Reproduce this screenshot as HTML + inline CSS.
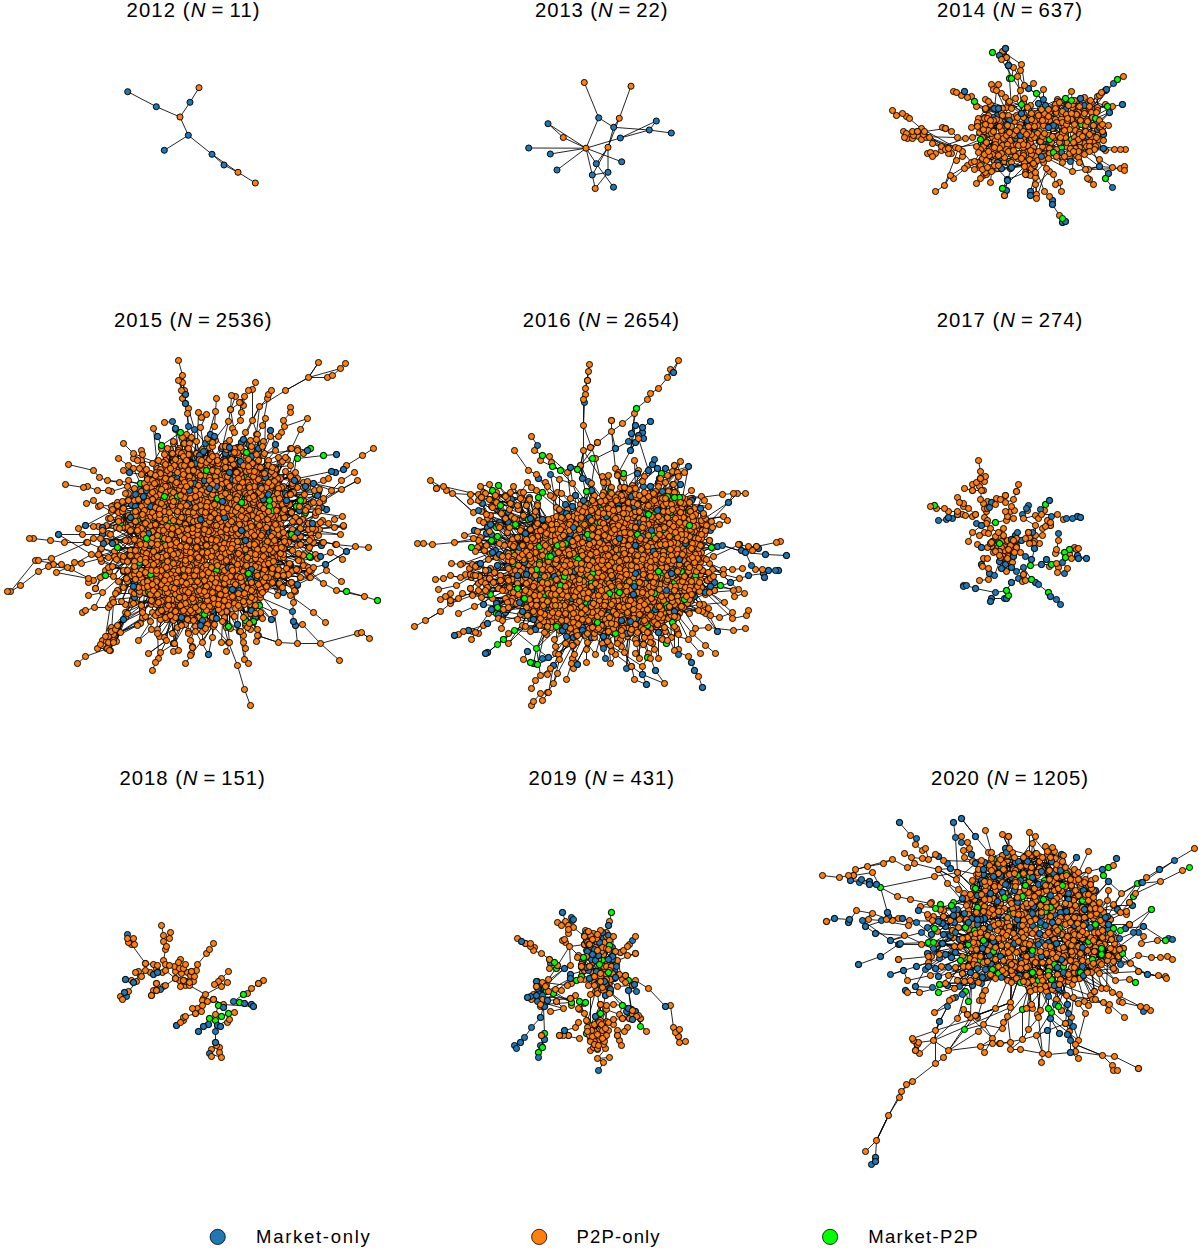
<!DOCTYPE html>
<html><head><meta charset="utf-8"><style>
html,body{margin:0;padding:0;background:#fff;}
svg{display:block;}
.e{stroke:#000;stroke-width:1.0px;fill:none;stroke-opacity:.85}
circle.b,circle.o,circle.g{r:3.05px;stroke:#000;stroke-width:0.95px}
.b{fill:#1f77b4}.o{fill:#ff7f0e}.g{fill:#00ff00}
.no,.nb,.ng{fill:none;stroke:none}.no{marker:url(#mo)}.nb{marker:url(#mb)}.ng{marker:url(#mg)}
text{font-family:"Liberation Sans",sans-serif;fill:#000}
.t{font-size:20.3px}
.it{font-style:italic}
.l{font-size:18.5px}
</style></head><body>
<svg width="1200" height="1250" viewBox="0 0 1200 1250">
<defs><marker id="mo" markerUnits="userSpaceOnUse" markerWidth="8" markerHeight="8" refX="4" refY="4" overflow="visible"><circle cx="4" cy="4" r="3.05" fill="#ff7f0e" stroke="#000" stroke-width="0.95"/></marker><marker id="mb" markerUnits="userSpaceOnUse" markerWidth="8" markerHeight="8" refX="4" refY="4" overflow="visible"><circle cx="4" cy="4" r="3.05" fill="#1f77b4" stroke="#000" stroke-width="0.95"/></marker><marker id="mg" markerUnits="userSpaceOnUse" markerWidth="8" markerHeight="8" refX="4" refY="4" overflow="visible"><circle cx="4" cy="4" r="3.05" fill="#00ff00" stroke="#000" stroke-width="0.95"/></marker></defs>
<path d="M127.7 91.7L156.3 106.7M156.3 106.7L180 117M180 117L190 102.3M190 102.3L199 87.7M180 117L188.3 135.3M188.3 135.3L164.3 150.3M188.3 135.3L212 154.3M212 154.3L224 165M224 165L238 172.3M238 172.3L255.3 183M212 154.3L238 172.3" class="e"/>
<circle cx="127.7" cy="91.7" r="3.05" class="b"/>
<circle cx="156.3" cy="106.7" r="3.05" class="b"/>
<circle cx="180" cy="117" r="3.05" class="o"/>
<circle cx="190" cy="102.3" r="3.05" class="b"/>
<circle cx="199" cy="87.7" r="3.05" class="o"/>
<circle cx="188.3" cy="135.3" r="3.05" class="b"/>
<circle cx="164.3" cy="150.3" r="3.05" class="b"/>
<circle cx="212" cy="154.3" r="3.05" class="b"/>
<circle cx="224" cy="165" r="3.05" class="b"/>
<circle cx="238" cy="172.3" r="3.05" class="o"/>
<circle cx="255.3" cy="183" r="3.05" class="o"/>
<path d="M584.3 82.5L598.7 117.8M598.7 117.8L586 148.2M598.7 117.8L613.7 127.3M631 86.2L619.3 118.3M619.3 118.3L613.7 127.3M613.7 127.3L608 147.3M613.7 127.3L649.3 130M649.3 130L671.3 133M620.3 138L656.3 121M620.3 138L649.3 130M656.3 121L649.3 130M548 123.7L586 148.2M563.3 137.5L586 148.2M548 123.7L563.3 137.5M528.7 148L586 148.2M550.3 154L586 148.2M557 170L586 148.2M586 148.2L620.3 138M586 148.2L621.7 161.8M586 148.2L596.3 163.7M586 148.2L592.3 175M608 147.3L596.3 163.7M608 147.3L592.3 175M608 147.3L608 172.3M596.3 163.7L613.5 187.2M592.3 175L608 172.3M592.3 175L595.2 188.5M595.2 188.5L608 172.3M619.3 118.3L608 147.3" class="e"/>
<circle cx="584.3" cy="82.5" r="3.05" class="o"/>
<circle cx="631" cy="86.2" r="3.05" class="o"/>
<circle cx="598.7" cy="117.8" r="3.05" class="b"/>
<circle cx="619.3" cy="118.3" r="3.05" class="o"/>
<circle cx="548" cy="123.7" r="3.05" class="b"/>
<circle cx="656.3" cy="121" r="3.05" class="b"/>
<circle cx="613.7" cy="127.3" r="3.05" class="b"/>
<circle cx="649.3" cy="130" r="3.05" class="b"/>
<circle cx="671.3" cy="133" r="3.05" class="b"/>
<circle cx="563.3" cy="137.5" r="3.05" class="o"/>
<circle cx="620.3" cy="138" r="3.05" class="b"/>
<circle cx="528.7" cy="148" r="3.05" class="b"/>
<circle cx="586" cy="148.2" r="3.05" class="o"/>
<circle cx="608" cy="147.3" r="3.05" class="o"/>
<circle cx="550.3" cy="154" r="3.05" class="b"/>
<circle cx="621.7" cy="161.8" r="3.05" class="b"/>
<circle cx="596.3" cy="163.7" r="3.05" class="b"/>
<circle cx="557" cy="170" r="3.05" class="b"/>
<circle cx="608" cy="172.3" r="3.05" class="b"/>
<circle cx="592.3" cy="175" r="3.05" class="b"/>
<circle cx="595.2" cy="188.5" r="3.05" class="o"/>
<circle cx="613.5" cy="187.2" r="3.05" class="b"/>
<path d="M1055.5 104.5l19-4M1059.5 102.5l13 2M1059.5 102.5l15-2M1067.5 105.5l-10-4M1089.5 106.5l18 0M994.5 108.5l2-18M998.5 108.5l9 17M1006.5 107.5l-18-6M1006.5 107.5l17-5M1011.5 108.5l10-4M1041.5 109.5l-14-2M1048.5 109.5l-12-16M1054.5 109.5l-2 10M1062.5 111.5l-17-6M1072.5 107.5l-1-16M1072.5 107.5l-17-3M1084.5 111.5l-17-6M1092.5 109.5l-8 4M1092.5 109.5l7-14M1097.5 110.5l0-14M997.5 115.5l10 10M1016.5 115.5l11-8M1021.5 113.5l3 15M1023.5 113.5l4-6M1023.5 113.5l-14-12M1031.5 113.5l-7-15M1038.5 115.5l-18 9M1044.5 113.5l17 5M1044.5 113.5l17 5M1056.5 112.5l-4 7M1061.5 113.5l-4-12M1066.5 114.5l-11-10M1071.5 113.5l9-15M1076.5 114.5l4-16M1084.5 113.5l-13-13M1091.5 112.5l3 13M1091.5 112.5l-5 7M1096.5 112.5l-12-15M1096.5 112.5l-6-12M987.5 118.5l3-14M996.5 119.5l-3 12M1017.5 117.5l4-13M1023.5 117.5l14-4M1036.5 119.5l-5-6M1044.5 116.5l4 11M1061.5 118.5l-3 17M985.5 124.5l14 2M999.5 120.5l-8 13M1006.5 124.5l4 16M1020.5 124.5l16-5M1020.5 124.5l10-1M1027.5 120.5l10-7M1034.5 121.5l14 6M1042.5 120.5l2 13M1042.5 120.5l-14 6M1049.5 120.5l9 15M1056.5 122.5l-19 3M1074.5 122.5l12 15M1090.5 124.5l-1-18M1099.5 120.5l10-8M990.5 125.5l14 0M999.5 126.5l-8 7M999.5 126.5l-5-18M1007.5 125.5l-19 5M1007.5 125.5l2 7M1011.5 126.5l-4 18M1019.5 127.5l-11-12M1024.5 128.5l-1-15M1028.5 126.5l14-6M1048.5 127.5l17 10M1053.5 125.5l-4 14M1055.5 126.5l-10 12M1055.5 126.5l19-4M1064.5 126.5l16-6M1094.5 125.5l-7 11M984.5 131.5l15-5M1001.5 130.5l-11-1M1034.5 132.5l-7-12M1052.5 128.5l10 5M1053.5 128.5l12 7M1062.5 131.5l-9-6M1069.5 129.5l-4 17M1085.5 131.5l12-6M982.5 137.5l-6 9M991.5 133.5l5-14M997.5 136.5l-14 7M1001.5 134.5l-8-17M1013.5 134.5l-11 11M1020.5 135.5l7-15M1026.5 134.5l-9-17M1026.5 134.5l0 18M1031.5 134.5l0-15M1042.5 136.5l-14-10M1042.5 136.5l7 12M1052.5 136.5l-18 1M1052.5 136.5l-7-16M1062.5 133.5l-18 0M1065.5 135.5l-14 7M1079.5 134.5l6-12M1082.5 136.5l12-11M1082.5 136.5l11-11M1097.5 134.5l-16-10M983.5 137.5l5 14M992.5 137.5l7-17M992.5 137.5l-3 18M995.5 140.5l-15 9M998.5 141.5l-15 5M1010.5 140.5l4-19M1023.5 137.5l8 1M1040.5 141.5l-17-4M1040.5 141.5l3 13M1049.5 139.5l-5 17M1060.5 137.5l-4 12M1065.5 137.5l-16 2M1071.5 139.5l-2-10M1075.5 141.5l10-16M985.5 143.5l11 14M994.5 145.5l16-5M995.5 144.5l-10-1M1002.5 145.5l-19 1M1016.5 144.5l-7 17M1016.5 144.5l-10-9M1023.5 144.5l11-12M1027.5 145.5l-1-11M1051.5 142.5l10 10M1051.5 142.5l-6 5M1059.5 142.5l-10 6M1061.5 142.5l-11 0M1084.5 143.5l-5-9M1084.5 143.5l-19 3M1089.5 146.5l-11 5M1094.5 141.5l9-8M1094.5 141.5l-4-17M983.5 146.5l14 8M992.5 148.5l-8-17M1013.5 150.5l19 1M1013.5 150.5l-4 11M1018.5 145.5l-15-7M1023.5 147.5l16-6M1045.5 147.5l-8 13M1049.5 148.5l-14 14M1056.5 149.5l14 12M1090.5 148.5l-12 3M988.5 151.5l-8-12M1008.5 151.5l-12 6M1008.5 151.5l1-19M1043.5 154.5l19 8M1053.5 152.5l9 10M1078.5 151.5l7 18M1084.5 154.5l2-8M1089.5 151.5l-10-17M984.5 154.5l10 11M989.5 155.5l5 10M996.5 157.5l-1-13M1004.5 157.5l-18 3M1011.5 154.5l13 12M1048.5 158.5l-13 14M1056.5 156.5l14-8M1059.5 155.5l-15 1M1059.5 155.5l-9-13M1069.5 156.5l-7 6M1076.5 155.5l13-9M1078.5 157.5l-9-4M1078.5 157.5l-16 5M994.5 161.5l-10-7M997.5 162.5l14 5M1037.5 160.5l-12 12M1042.5 159.5l1-18M994.5 165.5l17-11M994.5 165.5l13 14M998.5 165.5l11-2M1009.5 163.5l-15 2M1024.5 166.5l-13-4M1028.5 166.5l3-12M1057.5 99.5l-21 20M1057.5 99.5l-12 6M1071.5 100.5l-23 16M1071.5 100.5l-17 9M1080.5 98.5l-23 1M1084.5 97.5l-27 2M1090.5 100.5l-23 5M1090.5 100.5l-19 13M1008.5 102.5l26 19M1008.5 102.5l22 21M1021.5 104.5l0 9M1021.5 104.5l10 30M1030.5 105.5l-10 30M1030.5 105.5l7 28M1038.5 103.5l-4 23M1057.5 101.5l-23 20M1057.5 101.5l-26 12M976.5 106.5l26 9M976.5 106.5l22 2M1107.5 106.5l-15 3M1107.5 106.5l-17-6M1109.5 112.5l-12 13M1109.5 112.5l-24 10M977.5 122.5l31-3M1108.5 125.5l-22 21M1108.5 125.5l-12 12M1103.5 148.5l-9 1M978.5 152.5l31 11M978.5 152.5l17-12M974.5 161.5l11-18M974.5 161.5l30-4M1062.5 162.5l-19-21M1062.5 162.5l-18-29M1070.5 161.5l-25-14M1070.5 161.5l-20-19M1001.5 168.5l33-3M1001.5 168.5l34-6M1010.5 168.5l21-14M1010.5 168.5l27-8M986.5 174.5l25-7M986.5 174.5l22-23M1072.5 171.5l-28-15M1072.5 171.5l1-29M1026.5 174.5l7-27M924.5 131.5l27 22M918.5 136.5l39 1M921.5 128.5l34 19M923.5 134.5l18 12M926.5 137.5l36 14M932.5 143.5l13 6M972.5 137.5l27-11M944.5 185.5l14-37M950.5 175.5l21-13M1002.5 188.5l22-22M996.5 90.5l12 25M1003.5 51.5l21 34M1001.5 59.5l19 31M980.5 139.5l36-9M1113.5 83.5l-21 26M1101.5 92.5l-25 22M1112.5 106.5l-20 11M1097.5 107.5l-33 19M1096.5 137.5l-25-18M1120.5 149.5l-36-6M1120.5 168.5l-32 1M1112.5 167.5l-13-1M1099.5 166.5l-14-35M1099.5 166.5l-27 5M1035.5 177.5l-19-33M1036.5 194.5l-1-32M1036.5 198.5l10-30M1030.5 191.5l19-20M1025.5 172.5l14-31M1017.5 76.5l4 28M1002.5 51.5l19 13M1043.5 89.5l-20 24M1024.5 98.5l0 30M924.5 131.5l21-3M955.5 147.5l28-4M941.5 146.5l24-8M979.5 132.5l20-12M958.5 148.5l22-9M982.5 169.5l6-18M1007.5 179.5l18-7M985.5 108.5l16 5M1009.5 101.5l18 6M1008.5 65.5l1 13M1009.5 78.5l2 30M988.5 130.5l20-15M983.5 143.5l26-11M1082.5 136.5l-27-10M1099.5 159.5l-24-18M1099.5 166.5l-24-18M1085.5 169.5l-16-13M1044.5 191.5l-10-26M1011.5 167.5l26-7M1021.5 64.5l3 21M1015.5 98.5l12 22M1027.5 107.5l21 9M909.5 118.5l15 13M929.5 137.5l26 10M932.5 143.5l9 3M962.5 151.5l9 11M945.5 128.5l6 3M951.5 131.5l6 6M957.5 137.5l8 1M972.5 137.5l7-5M935.5 191.5l9-6M944.5 185.5l6-10M953.5 178.5l18-16M956.5 160.5l6-4M967.5 165.5l7 4M990.5 182.5l1-11M1007.5 179.5l-5 9M974.5 101.5l11 7M1001.5 59.5l4-11M1005.5 48.5l3 17M993.5 108.5l-8 1M985.5 109.5l-7 9M980.5 139.5l-4 7M976.5 146.5l7-3M1113.5 83.5l-7 6M1097.5 96.5l-6 6M1122.5 104.5l-10 2M1105.5 104.5l-8 3M1071.5 91.5l-6 7M1114.5 149.5l-9 1M1105.5 150.5l-11-1M1120.5 168.5l-8-1M1112.5 167.5l-13-8M1099.5 166.5l9 7M1105.5 178.5l7 9M1099.5 166.5l-11 3M1088.5 169.5l-9-7M1093.5 184.5l-8-15M1061.5 191.5l-2-9M1055.5 184.5l-2-10M1052.5 204.5l7 11M1035.5 184.5l1 10M1030.5 191.5l5-19M1025.5 172.5l6-4M1011.5 167.5l-4 13M1007.5 180.5l-2 10M1011.5 78.5l2-11M1008.5 65.5l-2-8M1028.5 88.5l8 5M1043.5 89.5l0 10M1043.5 99.5l-19-14M1020.5 90.5l-5 8" class="e"/>
<path class="no" d="M1004.5 115.5l-16 18 16 62 40-79"/>
<path class="nb" d="M1084.5 105.5h0"/>
<path class="no" d="M1084.5 143.5l-60 19"/>
<path class="nb" d="M1052.5 200.5h0"/>
<path class="no" d="M1003.5 51.5l-11 97 75-43-39 61 49-55-52 61 32-73"/>
<path class="nb" d="M1082.5 136.5h0"/>
<path class="no" d="M998.5 141.5l107 9-29 5-82-10 17 0 41-26-62-15 94 7-113-15"/>
<path class="ng" d="M1036.5 93.5h0"/>
<path class="no" d="M1037.5 113.5l-119 23"/>
<path class="nb" d="M1103.5 148.5h0"/>
<path class="no" d="M921.5 139.5l81 6 110-39-133 26 141 36 5-19-70-30-41 2"/>
<path class="ng" d="M1071.5 139.5h0"/>
<path class="no" d="M1057.5 101.5l-12 46-9-28-20 25 61-19-28 46"/>
<path class="ng" d="M981.5 160.5h0"/>
<path class="no" d="M1074.5 137.5l-55 16-36 22 19-124 67 78-61-10-73 34 46-34 54 37 58 28-126-19 50-89-111 40 90 41 73-1-27-10 11-18 33 9-76 3 69 2"/>
<path class="nb" d="M997.5 115.5h0"/>
<path class="no" d="M983.5 143.5l92-13-122 48 36-11 16-70 44 15-64 31"/>
<path class="nb" d="M1015.5 138.5h0"/>
<path class="no" d="M1105.5 104.5l-104 30 113 15-102-32-1 37-3-6 29-23-55 33 53 26-52-47 81-11"/>
<path class="ng" d="M1081.5 124.5h0"/>
<path class="no" d="M986.5 174.5l50 20 88-28-182-39 52 34 71-15-110 1 99-38"/>
<path class="nb" d="M997.5 162.5h0"/>
<path class="no" d="M1035.5 162.5l-38-8-46-1-24 0-18-35 32 32 92-3-57 36"/>
<path class="nb" d="M1005.5 48.5l85 76"/>
<path class="no" d="M1043.5 162.5l51-21-62 10-39-43 13-51 37 97-52 17 15-64-99 31"/>
<path class="nb" d="M1065.5 109.5h0"/>
<path class="no" d="M1099.5 159.5l-44-55-63 50 24-39-104 23"/>
<path class="nb" d="M1105.5 90.5h0"/>
<path class="no" d="M997.5 168.5h0"/>
<path class="nb" d="M1045.5 105.5h0"/>
<path class="no" d="M1112.5 167.5l-15-33-36-16-8 20 36 41-99-50-42 24 36-22 42 21-48-34-17-23 24 4-59 38 66 0 38-20-36 48 26-41 59 23-30 49 30-64-78-39 20-29"/>
<path class="nb" d="M1043.5 141.5l54-12"/>
<path class="no" d="M1023.5 137.5l63 9-103 0 56-15-62-7 102 10-56-32-15 0 90 37-49 9 10 7"/>
<path class="nb" d="M1007.5 179.5h0"/>
<path class="no" d="M1044.5 113.5l-45 35 63-26"/>
<path class="nb" d="M1001.5 168.5h0"/>
<path class="ng" d="M1061.5 147.5h0"/>
<path class="no" d="M1043.5 89.5l-13 34-10 17 16 58-59-76"/>
<path class="nb" d="M1024.5 128.5h0"/>
<path class="no" d="M903.5 131.5l32 60 121-69-33-9 97 36-164 11 110-36-136 28 85-17 63-16-47-6 77 12-24 29"/>
<path class="nb" d="M1097.5 122.5l-42 4 19-4"/>
<path class="no" d="M1075.5 148.5h0"/>
<path class="nb" d="M1007.5 180.5h0"/>
<path class="no" d="M1046.5 168.5l-75-6-39-6 58 26-13-20"/>
<path class="nb" d="M1070.5 161.5l-77-44"/>
<path class="no" d="M1059.5 102.5l7 40-62 19-9-21 35-35"/>
<path class="nb" d="M999.5 55.5h0"/>
<path class="no" d="M979.5 167.5l-14-29"/>
<path class="nb" d="M1020.5 135.5h0"/>
<path class="no" d="M1069.5 153.5l-28-44-57 44"/>
<path class="nb" d="M1006.5 190.5h0"/>
<path class="no" d="M1072.5 171.5l-100-34 16-22 98 4-102-2-2 20-76-4 100-76 46 71 40 5-69 14 15 4"/>
<path class="ng" d="M1093.5 136.5h0"/>
<path class="no" d="M1015.5 98.5l-12 40"/>
<path class="nb" d="M1028.5 88.5h0"/>
<path class="no" d="M1085.5 125.5l-86-5"/>
<path class="nb" d="M1034.5 132.5h0"/>
<path class="no" d="M1037.5 133.5l-26-7 61-10-48-18"/>
<path class="ng" d="M1009.5 161.5h0"/>
<path class="no" d="M923.5 134.5l174-38-193 41 98-29 97 19-75-42"/>
<path class="nb" d="M1043.5 99.5l18 43 51 45"/>
<path class="no" d="M953.5 91.5l78 63"/>
<path class="nb" d="M1106.5 89.5h0"/>
<path class="no" d="M951.5 131.5l29 34 11-81 65 28-63-23"/>
<path class="nb" d="M1007.5 132.5h0"/>
<path class="no" d="M1072.5 107.5l-68 50"/>
<path class="nb" d="M1026.5 174.5h0"/>
<path class="no" d="M998.5 84.5l6 41 16 4 72-20 5 36-22-4-78-5-16-8 112-3-48 13-38 6 84-42-47 54-7 4 18-52-38 50 6-5"/>
<path class="nb" d="M1122.5 104.5h0"/>
<path class="no" d="M941.5 146.5l156-39-48 13 22-1-41 23 31-29 23-16-22 34 27 10 14-8"/>
<path class="nb" d="M1109.5 112.5h0"/>
<path class="no" d="M982.5 126.5l-6-20 32 9-76 28 54 17-2-42 6 7 21-17 84 38-17-34-72 37 53 66 65-45-79-50-27 25-17 8 66-33 16-5-64 12-48 0 102-24"/>
<path class="nb" d="M1005.5 48.5h0"/>
<path class="no" d="M1087.5 178.5l-25-67-12 31-62-12"/>
<path class="nb" d="M1008.5 65.5h0"/>
<path class="no" d="M991.5 133.5l-17 36 104-12"/>
<path class="ng" d="M992.5 52.5h0"/>
<path class="no" d="M1030.5 175.5l59-67-30 74 31-34-5-17-55 19"/>
<path class="nb" d="M1103.5 134.5h0"/>
<path class="no" d="M985.5 109.5h0"/>
<path class="nb" d="M1039.5 141.5h0"/>
<path class="no" d="M1074.5 124.5l-63 27-7 44 68-91-105-7-5 59 86-21"/>
<path class="nb" d="M1027.5 120.5h0"/>
<path class="no" d="M1059.5 142.5l-64 2"/>
<path class="nb" d="M1062.5 222.5h0"/>
<path class="no" d="M1010.5 168.5h0"/>
<path class="nb" d="M1038.5 103.5h0"/>
<path class="no" d="M994.5 147.5l-7-29"/>
<path class="nb" d="M1108.5 173.5h0"/>
<path class="no" d="M1087.5 121.5l-102 51 68 2-73-25-78-36 94-23 101 20-66 28 60-26-108 17 2-5 4 31 66 29-4-42"/>
<path class="nb" d="M964.5 91.5h0"/>
<path class="no" d="M1013.5 67.5l-4 96"/>
<path class="ng" d="M980.5 139.5h0"/>
<path class="no" d="M1049.5 153.5l-72-27 88 9-83 34 83-32 14 25 10-56"/>
<path class="nb" d="M1080.5 98.5h0"/>
<path class="no" d="M1027.5 145.5l-82 4 82-42 6-24-20 51-5 17 82-51-56 21 34-16-155 30 112 39-24-44"/>
<path class="nb" d="M1052.5 204.5h0"/>
<path class="no" d="M1099.5 95.5l-114 13 49 29 14-28-10 6 54 2-69 0 38 74 9-43-74-29"/>
<path class="ng" d="M1049.5 139.5h0"/>
<path class="no" d="M1058.5 135.5l4-2-39-2 8-12 12 6"/>
<path class="nb" d="M1061.5 152.5h0"/>
<path class="no" d="M1076.5 114.5h0"/>
<path class="nb" d="M1008.5 65.5h0"/>
<path class="no" d="M1101.5 92.5l-45 57"/>
<path class="nb" d="M1053.5 125.5l34 11"/>
<path class="no" d="M1023.5 155.5l68-19-74-19 77 32-52 10-26-29 28 61-132-60"/>
<path class="nb" d="M1009.5 120.5l104-37"/>
<path class="no" d="M1089.5 134.5l-109 44-4-32 76-10"/>
<path class="nb" d="M1065.5 221.5h0"/>
<path class="ng" d="M1117.5 79.5h0"/>
<path class="no" d="M1074.5 100.5l-73 13 30 55"/>
<path class="nb" d="M1006.5 124.5h0"/>
<path class="no" d="M1056.5 154.5l10-40-145 14 65 14 48 23-23-3"/>
<path class="ng" d="M1095.5 118.5h0"/>
<path class="no" d="M1040.5 141.5h0"/>
<path class="nb" d="M1030.5 191.5h0"/>
<path class="no" d="M1006.5 135.5l90-23-25 1 32 27-147-48"/>
<path class="ng" d="M1065.5 98.5h0"/>
<path class="no" d="M1031.5 134.5l57 35-8-49"/>
<path class="ng" d="M974.5 101.5h0"/>
<path class="no" d="M1102.5 131.5h0"/>
<path class="nb" d="M1041.5 156.5l-47-48"/>
<path class="no" d="M1013.5 150.5l58-59-36 86"/>
<path class="ng" d="M1062.5 218.5l-60-30"/>
<path class="no" d="M1042.5 136.5l-78 32 114-17 6-38-64-43 1 88 27-42-19 43-45-5-27-17"/>
<path class="ng" d="M1105.5 178.5h0"/>
<path class="no" d="M1023.5 144.5l77-18-1-6-66 43-104-26 150-31-77 9 7-14-47 50 31-31"/>
<path class="ng" d="M1053.5 152.5h0"/>
<path class="no" d="M990.5 120.5l77-2-66-59"/>
<path class="ng" d="M1107.5 106.5h0"/>
<path class="no" d="M998.5 165.5l30-33-29-6-103-11 182 24-130 9"/>
<path class="nb" d="M1021.5 113.5h0"/>
<path class="ng" d="M1009.5 78.5h0"/>
<path class="no" d="M1015.5 156.5h0"/>
<path class="nb" d="M1099.5 166.5h0"/>
<path class="no" d="M945.5 128.5h0"/>
<path class="nb" d="M1011.5 167.5h0"/>
<path class="no" d="M998.5 155.5l26 11 72-29"/>
<path class="nb" d="M998.5 108.5h0"/>
<path class="no" d="M1062.5 162.5l2-32-90 31-50-30 140 25-20-23"/>
<path class="ng" d="M1021.5 104.5l50-4"/>
<path class="no" d="M917.5 131.5h0"/>
<path class="nb" d="M1048.5 127.5h0"/>
<path class="no" d="M987.5 167.5l22-35 76 37-50 3 38-30"/>
<path class="ng" d="M1011.5 78.5h0"/>
<path class="no" d="M1048.5 158.5l-41-33-49 23 76-22 48 10-94-35 72 36"/>
<path class="nb" d="M1030.5 195.5h0"/>
<path class="no" d="M944.5 185.5l129-34 16-5-101 5 5-20 96 20-47-31-22-30 36 66-30-22 2-8-78 49 28-23"/>
<path class="ng" d="M1002.5 188.5h0"/>
<path class="no" d="M892.5 110.5l210 14 21-48"/>
<path d="M212.5 439.5l0 35M212.5 439.5l-19 28M215.5 440.5l-9 18M215.5 440.5l-16 27M184.5 443.5l7 21M184.5 443.5l13 29M189.5 440.5l4 27M196.5 441.5l5 19M196.5 441.5l-5 23M208.5 441.5l-17 23M208.5 441.5l10 22M212.5 442.5l0 19M212.5 442.5l0 32M225.5 446.5l11 26M226.5 443.5l-9 18M226.5 443.5l-10 13M240.5 447.5l-5 17M240.5 447.5l-19 27M243.5 439.5l-4 31M261.5 443.5l-22 27M261.5 443.5l-1 32M170.5 449.5l-3 31M170.5 449.5l1 30M178.5 452.5l1 19M209.5 447.5l-5 19M209.5 447.5l-16 26M221.5 448.5l17 30M227.5 448.5l-15 22M234.5 452.5l-18 11M234.5 452.5l-14 26M237.5 447.5l-8 21M237.5 447.5l-7 12M251.5 446.5l-13 8M251.5 446.5l-22 26M258.5 448.5l1 34M258.5 448.5l2 27M262.5 446.5l-32 13M262.5 446.5l-6 26M275.5 450.5l-11 3M275.5 450.5l-19 22M158.5 460.5l1 32M166.5 457.5l27 13M189.5 454.5l4 16M225.5 453.5l10 23M225.5 453.5l-16 24M238.5 454.5l-5 27M264.5 453.5l0 22M268.5 460.5l-14 11M268.5 460.5l-11 7M278.5 457.5l-1 21M278.5 457.5l-4 17M285.5 457.5l-25 10M285.5 457.5l-10 12M235.5 464.5l3 14M235.5 464.5l0 30M268.5 465.5l-15 11M282.5 461.5l-8 6M282.5 461.5l-5 17M150.5 473.5l6 32M272.5 467.5l-31 10M285.5 471.5l-8 22M285.5 471.5l-10 21M289.5 474.5l-26 22M289.5 474.5l-21 0M295.5 472.5l-21 27M291.5 478.5l-15 28M291.5 478.5l-29-1M297.5 478.5l-33-3M297.5 478.5l-9 14M307.5 481.5l-29 7M307.5 481.5l-8 19M292.5 485.5l-17 30M292.5 485.5l-21 0M303.5 487.5l-34 5M303.5 487.5l-32-2M303.5 482.5l-26-4M303.5 482.5l-20 4M288.5 492.5l-22-5M304.5 494.5l-27 16M304.5 494.5l-15 10M314.5 490.5l-17-3M314.5 490.5l-33 4M317.5 494.5l-27 0M317.5 494.5l-26 18M290.5 494.5l-15 21M301.5 497.5l-25 9M301.5 497.5l-16 9M303.5 500.5l-34 1M303.5 500.5l-31 16M317.5 495.5l-31 7M317.5 495.5l-26 17M299.5 506.5l-31-12M299.5 506.5l-22 23M307.5 507.5l-26 22M307.5 507.5l-18-3M311.5 503.5l-21-10M311.5 503.5l-29 9M318.5 508.5l-11-1M318.5 508.5l-19 2M291.5 512.5l-7-3M291.5 512.5l-8 5M299.5 510.5l-8 2M299.5 510.5l-24 1M305.5 510.5l-31 13M305.5 510.5l-14 2M318.5 511.5l-26 18M318.5 511.5l-18 17M321.5 507.5l-31-13M283.5 517.5l-20-9M299.5 521.5l-25 19M299.5 521.5l-35-2M299.5 521.5l-26 12M299.5 521.5l-17-9M315.5 515.5l-16 6M315.5 515.5l-16 14M320.5 522.5l-23 10M320.5 522.5l-28 7M292.5 529.5l-31-13M292.5 529.5l-14 5M308.5 529.5l-24 19M308.5 529.5l-11 2M312.5 523.5l-21-11M312.5 523.5l-21 11M297.5 532.5l-25-1M297.5 532.5l-25-1M300.5 528.5l-32 7M300.5 528.5l-32 7M315.5 529.5l-32 3M319.5 529.5l-19 7M319.5 529.5l-24-12M286.5 535.5l-15 7M294.5 537.5l-24 16M311.5 538.5l-31 15M311.5 538.5l-30 5M318.5 535.5l-27-1M318.5 535.5l-32 0M322.5 542.5l-25-11M322.5 542.5l-24 11M297.5 545.5l-14-13M297.5 545.5l-21 3M300.5 544.5l-28 7M309.5 547.5l-31-13M309.5 547.5l-18-13M321.5 545.5l-29-16M321.5 545.5l-24 0M292.5 550.5l-29 3M292.5 550.5l-16-2M298.5 553.5l-29-11M298.5 553.5l-30 10M308.5 549.5l-30-15M308.5 549.5l-20-7M315.5 554.5l-32 3M315.5 554.5l-21-17M289.5 564.5l-34-6M289.5 564.5l-34 2M298.5 560.5l-29-18M298.5 560.5l-14-12M301.5 561.5l-31-8M310.5 557.5l-13-12M310.5 557.5l-27-1M317.5 558.5l-19 2M317.5 558.5l-20-26M286.5 568.5l-35 1M290.5 564.5l-28-19M290.5 564.5l-23-23M296.5 569.5l-20-21M296.5 569.5l-31-15M309.5 570.5l-26 5M309.5 570.5l-24 5M311.5 570.5l-33-1M311.5 570.5l-13 0M285.5 575.5l-13-24M300.5 577.5l-25-21M300.5 577.5l-28-5M309.5 577.5l-11-7M309.5 577.5l-20 6M279.5 584.5l-24-26M279.5 584.5l-7-16M279.5 583.5l-14-6M279.5 583.5l-6-10M291.5 582.5l-20 1M291.5 582.5l-16-7M297.5 585.5l-26-20M297.5 585.5l-20-10M310.5 577.5l-27-2M310.5 577.5l-25-2M283.5 592.5l-26-10M283.5 592.5l-21-18M289.5 583.5l-12-8M289.5 583.5l-21-27M292.5 585.5l-13-2M292.5 585.5l-29 0M125.5 493.5l28 18M111.5 506.5l24 15M111.5 506.5l28 18M112.5 509.5l21-8M112.5 509.5l31-13M123.5 508.5l14 5M123.5 508.5l29 0M110.5 518.5l27-5M110.5 518.5l10 5M118.5 518.5l29 8M118.5 518.5l31-1M129.5 519.5l21 19M103.5 528.5l30-16M103.5 528.5l19-1M106.5 525.5l29-14M106.5 525.5l28 14M116.5 527.5l21-12M127.5 527.5l20-1M127.5 527.5l26 19M102.5 530.5l28-13M102.5 530.5l16-12M110.5 534.5l27 16M110.5 534.5l27-21M119.5 528.5l27 10M119.5 528.5l18 11M103.5 543.5l27-13M106.5 541.5l31-10M106.5 541.5l24 14M115.5 542.5l13-2M115.5 542.5l22-12M125.5 540.5l22-19M125.5 540.5l24-23M101.5 548.5l19 7M101.5 548.5l13 3M112.5 543.5l30-3M112.5 543.5l28 16M117.5 547.5l18 3M117.5 547.5l27 0M99.5 555.5l15-4M99.5 555.5l33 1M108.5 557.5l20-17M114.5 551.5l27-7M120.5 555.5l17-10M101.5 561.5l22 9M101.5 561.5l16-14M114.5 556.5l33 8M114.5 556.5l24-24M116.5 559.5l33 7M123.5 560.5l16 2M108.5 567.5l27 3M108.5 567.5l27-6M112.5 566.5l23 4M112.5 566.5l11-6M123.5 570.5l22-8M123.5 570.5l20-19M135.5 570.5l27-11M105.5 575.5l18-19M105.5 575.5l29 8M113.5 576.5l17-26M113.5 576.5l17-21M123.5 571.5l16-30M123.5 571.5l27-9M132.5 576.5l18-2M141.5 570.5l24-25M118.5 581.5l22-22M118.5 581.5l31-15M127.5 581.5l29-11M135.5 579.5l10-21M142.5 584.5l12-31M117.5 590.5l28-18M117.5 590.5l29-16M123.5 587.5l14-10M123.5 587.5l27-4M140.5 585.5l5-23M192.5 618.5l13-19M212.5 617.5l-9-11M212.5 617.5l-8-26M220.5 611.5l9-28M220.5 611.5l9-33M214.5 624.5l-3-18M216.5 618.5l-1-31M237.5 624.5l-12-21M237.5 624.5l1-19M245.5 623.5l-6-33M253.5 621.5l-21-25M207.5 625.5l0-25M213.5 626.5l7-32M213.5 626.5l3-20M226.5 627.5l-2-10M226.5 627.5l2-25M228.5 626.5l4-28M228.5 626.5l-8-21M249.5 623.5l-10-27M249.5 623.5l6-25M111.5 627.5l14-10M111.5 627.5l31-15M117.5 626.5l8-14M117.5 626.5l15-26M111.5 631.5l2-29M115.5 629.5l16-25M115.5 629.5l16-25M108.5 636.5l32-13M114.5 635.5l28-18M120.5 632.5l25-16M120.5 632.5l20-9M105.5 636.5l5-32M105.5 636.5l20-24M113.5 640.5l12-28M114.5 639.5l11-22M102.5 640.5l21-21M106.5 641.5l31-16M113.5 642.5l12-25M116.5 641.5l9-29M116.5 641.5l11-28M106.5 648.5l7-6M110.5 650.5l7-24M110.5 650.5l4-15M109.5 650.5l8-25M109.5 650.5l11-18M212.5 461.5l0-15M174.5 465.5l10-22M191.5 464.5l5-11M200.5 464.5l-17-8M193.5 467.5l-10-15M164.5 469.5l-17 10M173.5 469.5l5-19M243.5 471.5l-22-8M253.5 472.5l-24-4M160.5 473.5l12-20M256.5 472.5l18-5M274.5 484.5l8-23M261.5 488.5l17 0M278.5 488.5l23 9M279.5 489.5l22 8M141.5 491.5l5-22M142.5 497.5l-19 11M141.5 502.5l-13-9M188.5 503.5l-6-10M276.5 501.5l11-6M150.5 506.5l4-23M165.5 504.5l7 2M186.5 505.5l0-19M155.5 507.5l2 18M194.5 508.5l-14-13M259.5 513.5l-8 19M150.5 516.5l6 12M165.5 516.5l2 10M183.5 517.5l14 18M142.5 517.5l20 4M179.5 519.5l13 9M185.5 519.5l12 21M139.5 523.5l-19-3M257.5 522.5l-13 8M138.5 527.5l-16-16M202.5 525.5l9-18M273.5 527.5l9-23M146.5 530.5l-15-8M273.5 533.5l11 8M143.5 537.5l-13-20M176.5 538.5l17-17M268.5 535.5l16 6M245.5 540.5l12-18M181.5 545.5l24-1M260.5 543.5l24-2M143.5 545.5l-12-16M196.5 546.5l14 19M207.5 552.5l-22 8M245.5 549.5l-13 21M196.5 554.5l-3 24M202.5 552.5l16 18M268.5 556.5l0 16M272.5 558.5l7-23M146.5 559.5l-16-18M266.5 559.5l5 24M273.5 561.5l-7 11M264.5 564.5l15 20M271.5 565.5l-22 11M149.5 566.5l-22-5M251.5 569.5l-15 20M263.5 567.5l-15 19M274.5 566.5l-18 5M151.5 570.5l-11 15M272.5 572.5l8-15M191.5 575.5l-12 8M266.5 574.5l4-21M271.5 573.5l-11-18M195.5 579.5l-24 2M236.5 576.5l10-11M241.5 583.5l21 8M266.5 586.5l2-23M171.5 587.5l18-9M265.5 589.5l18-14M148.5 591.5l-17-16M239.5 590.5l-1 15M244.5 593.5l6 20M159.5 599.5l-17 10M195.5 600.5l-1 19M205.5 599.5l11 19M234.5 599.5l9 18M152.5 601.5l-14-14M228.5 602.5l-16-10M161.5 605.5l-9 7M210.5 608.5l-5 14M173.5 614.5l-22-10M191.5 618.5l16 6M175.5 428.5l3 22M175.5 428.5l11 32M182.5 437.5l24 21M182.5 437.5l-4 15M173.5 441.5l22 22M173.5 441.5l9 30M189.5 443.5l7 20M167.5 448.5l5 31M188.5 448.5l21 24M188.5 448.5l3 24M212.5 446.5l-19 21M226.5 449.5l-24 20M226.5 449.5l4 10M234.5 448.5l-27 19M234.5 448.5l-17 12M179.5 448.5l-6 28M203.5 451.5l0 10M242.5 450.5l-23 18M242.5 450.5l-15 17M251.5 449.5l-16 27M251.5 449.5l-20 10M297.5 450.5l-5 33M297.5 450.5l-33 3M187.5 456.5l13 25M237.5 452.5l-14 20M230.5 459.5l8 33M246.5 456.5l-11 8M258.5 460.5l-16 22M287.5 459.5l-21 28M287.5 459.5l-19 15M230.5 463.5l9 30M240.5 461.5l-15 15M252.5 462.5l3 19M233.5 464.5l2 21M240.5 464.5l-17 8M290.5 465.5l-16 2M290.5 465.5l-10 13M139.5 468.5l26 18M139.5 468.5l19 21M143.5 471.5l24 15M143.5 471.5l20 14M290.5 476.5l-30 10M290.5 476.5l-29 12M296.5 479.5l-10 23M296.5 479.5l-23 25M128.5 480.5l18 7M128.5 480.5l9 26M292.5 483.5l-25 16M292.5 483.5l-7 7M297.5 487.5l-20 5M297.5 487.5l-20 6M128.5 493.5l21 24M128.5 493.5l14 24M113.5 505.5l24 8M113.5 505.5l15 10M117.5 505.5l19 1M117.5 505.5l14 24M113.5 510.5l15 5M113.5 510.5l32 8M284.5 509.5l-31-5M296.5 506.5l-23 27M296.5 506.5l-20 0M118.5 512.5l11 8M118.5 512.5l31 5M304.5 514.5l-30-15M304.5 514.5l-23 15M128.5 515.5l34 6M295.5 517.5l-19-7M295.5 517.5l-19-11M118.5 521.5l23 23M118.5 521.5l32-15M302.5 519.5l-25-9M122.5 523.5l20 17M292.5 521.5l-22-7M292.5 521.5l-21 21M308.5 523.5l-31 3M122.5 527.5l12 12M130.5 525.5l9-1M131.5 529.5l28-20M297.5 531.5l-24 2M298.5 538.5l-34 2M309.5 540.5l-31-6M309.5 540.5l-15-3M281.5 543.5l-14-11M284.5 541.5l-32-14M284.5 541.5l-13-5M285.5 544.5l-23-11M134.5 566.5l31 4M287.5 564.5l-14-16M287.5 564.5l-19-8M289.5 563.5l-34 3M289.5 563.5l-33 3M138.5 567.5l12-5M134.5 574.5l28-21M276.5 572.5l-21-13M288.5 574.5l-14-30M143.5 582.5l10-31M291.5 582.5l-25-8M291.5 582.5l-32 4M144.5 592.5l14-23M279.5 592.5l-23-26M279.5 592.5l-15-28M294.5 590.5l-20-24M294.5 590.5l-22-18M115.5 593.5l31 0M277.5 595.5l-11-21M277.5 595.5l-17-7M112.5 599.5l15-29M112.5 599.5l22-2M121.5 601.5l11-25M121.5 601.5l10-26M113.5 602.5l14-31M131.5 604.5l32-4M135.5 602.5l28-2M135.5 602.5l31-6M238.5 605.5l-26-13M225.5 607.5l4-32M125.5 612.5l8-26M125.5 612.5l26-12M142.5 609.5l10-25M142.5 609.5l10-8M152.5 612.5l0-33M152.5 612.5l16-13M274.5 612.5l-25-11M274.5 612.5l-14-18M245.5 615.5l-11-16M245.5 615.5l-6-25M260.5 615.5l-25-7M125.5 617.5l16-12M125.5 617.5l17-8M142.5 617.5l10-5M142.5 617.5l2-25M243.5 617.5l0-31M243.5 617.5l-11-21M271.5 619.5l-16-14M271.5 619.5l-17-20M140.5 623.5l-1-29M140.5 623.5l10-29M193.5 620.5l5-26M137.5 625.5l24-15M137.5 625.5l15-13M200.5 625.5l-9-31M207.5 624.5l11-20M207.5 624.5l7-21M212.5 625.5l-13-22M212.5 625.5l10-19M157.5 629.5l16-27M157.5 629.5l16-16M188.5 631.5l-1-12M188.5 631.5l-7-14M195.5 631.5l6-19M205.5 628.5l-15-18M157.5 633.5l8-26M157.5 633.5l-1-29M239.5 631.5l-15-14M239.5 631.5l-14-24M159.5 636.5l25-12M159.5 636.5l14-22M164.5 637.5l12-30M164.5 637.5l11-20M173.5 643.5l2-32M173.5 643.5l7-21M174.5 643.5l7-18M174.5 643.5l11-19M148.5 653.5l18-13M148.5 653.5l18-13M208.5 654.5l-13-23M208.5 654.5l6-30M182.5 375.5l2 15M188.5 408.5l6 21M178.5 380.5l10 28M153.5 428.5l4 40M161.5 445.5l14 14M152.5 463.5l7 31M133.5 453.5l37 15M142.5 465.5l5 33M107.5 480.5l37 3M100.5 505.5l36 1M85.5 525.5l26-14M318.5 362.5l-10 15M340.5 368.5l-32 9M252.5 389.5l0 31M244.5 396.5l-1 9M240.5 402.5l0 18M268.5 394.5l-6 31M259.5 406.5l-16 33M215.5 411.5l-8 27M231.5 395.5l-1 14M228.5 421.5l-16 21M222.5 446.5l-20 23M270.5 436.5l-16 35M265.5 418.5l-1 35M256.5 439.5l2 9M307.5 418.5l-23 8M331.5 471.5l-34 7M307.5 487.5l-24 30M297.5 448.5l-8 26M331.5 490.5l-18-7M357.5 480.5l-34 18M341.5 489.5l-28-6M315.5 512.5l-39-6M300.5 500.5l-37-1M318.5 492.5l-33 1M315.5 494.5l-19 12M319.5 502.5l-30 2M313.5 483.5l-10-1M294.5 480.5l-9 13M210.5 434.5l-24 30M194.5 429.5l-16 23M200.5 427.5l6 35M100.5 538.5l28 2M58.5 534.5l33 20M102.5 534.5l28-9M35.5 560.5l26 4M10.5 591.5l25-31M48.5 566.5l23 2M61.5 564.5l32 16M100.5 558.5l37-8M56.5 572.5l32 6M91.5 554.5l32 16M95.5 588.5l20-33M127.5 571.5l10-15M94.5 607.5l8-15M110.5 604.5l15 0M117.5 625.5l8-13M110.5 629.5l32-20M113.5 634.5l12-22M138.5 640.5l12-19M158.5 658.5l-1-29M160.5 652.5l14-9M178.5 650.5l-8-35M190.5 655.5l24-31M228.5 642.5l-16-17M229.5 642.5l-3-30M222.5 621.5l-13-15M202.5 642.5l14-24M244.5 659.5l-5-28M245.5 620.5l6-38M257.5 629.5l-25-31M297.5 643.5l-2-18M369.5 638.5l-8-6M278.5 642.5l-4-30M292.5 611.5l-32-14M303.5 565.5l-37 7M290.5 595.5l-24-21M282.5 587.5l-9-14M364.5 596.5l-28-6M323.5 583.5l-20-18M326.5 570.5l-29 14M313.5 567.5l-29-19M346.5 551.5l-21 13M323.5 542.5l-26 3M355.5 546.5l-30 18M340.5 534.5l-32-5M343.5 526.5l-28 3M312.5 528.5l-28-19M188.5 426.5l-5 27M178.5 380.5l7 14M185.5 403.5l3 23M161.5 445.5l25 15M172.5 453.5l-8 25M152.5 463.5l15 17M146.5 469.5l4 25M133.5 468.5l7 15M127.5 486.5l18 18M120.5 520.5l28-8M120.5 523.5l30 2M245.5 432.5l-2 11M308.5 377.5l-23 13M230.5 409.5l4 23M259.5 406.5l-3 28M207.5 438.5l0 29M222.5 446.5l2 28M229.5 440.5l2 19M263.5 441.5l-12 5M256.5 434.5l-4 28M291.5 448.5l-6 9M263.5 455.5l-12 20M307.5 487.5l-16 25M290.5 448.5l-22 12M323.5 498.5l-18 12M300.5 500.5l-18 4M342.5 516.5l-27-4M285.5 506.5l-8 4M246.5 452.5l-21 9M100.5 538.5l28 2M108.5 533.5l22 17M87.5 542.5l14 6M100.5 558.5l8-1M67.5 567.5l24-13M127.5 561.5l19-2M100.5 577.5l15-22M127.5 571.5l21 1M141.5 605.5l12-15M127.5 613.5l17-21M151.5 629.5l-1-8M166.5 640.5l4-25M172.5 633.5l0-27M188.5 633.5l10-23M142.5 612.5l10-11M222.5 621.5l-7-28M212.5 618.5l-1-12M206.5 621.5l12-17M190.5 640.5l11-28M245.5 620.5l6-23M278.5 642.5l-21-7M320.5 643.5l-18-19M257.5 635.5l-7-22M230.5 628.5l-2-23M303.5 565.5l-26 10M282.5 587.5l-17 2M298.5 570.5l-18-13M308.5 567.5l-19-3M303.5 555.5l-14 8M313.5 542.5l-15-4M335.5 544.5l-24-6M310.5 533.5l-18-4M312.5 528.5l-15 4M277.5 575.5l-13-11M178.5 360.5l4 15M182.5 375.5l0 7M182.5 382.5l2 8M185.5 394.5l0 9M187.5 413.5l1 13M181.5 390.5l1 8M164.5 422.5l8-1M172.5 421.5l3 8M153.5 428.5l4 8M157.5 436.5l4 9M161.5 448.5l-9 15M161.5 445.5l19-13M161.5 448.5l11 5M123.5 443.5l10 10M133.5 453.5l8 7M141.5 460.5l11 3M142.5 454.5l4 15M118.5 458.5l10 7M129.5 472.5l12 2M141.5 474.5l23 4M173.5 443.5l5 7M68.5 464.5l25 6M93.5 470.5l6 7M99.5 477.5l8 3M107.5 480.5l12 2M119.5 482.5l8 4M65.5 484.5l18 3M87.5 486.5l10 4M97.5 490.5l11 0M111.5 491.5l16-5M86.5 503.5l7-3M93.5 500.5l5 6M100.5 505.5l11 6M122.5 511.5l11 1M108.5 518.5l12 2M78.5 528.5l7-3M85.5 525.5l8 1M102.5 527.5l18-4M318.5 362.5l-10 15M308.5 377.5l-23 13M285.5 390.5l-26 16M259.5 406.5l-14 26M345.5 363.5l-5 5M340.5 368.5l-8 7M327.5 377.5l-19 0M255.5 382.5l-3 7M244.5 396.5l-4 6M240.5 402.5l-10 7M267.5 398.5l-8 8M216.5 398.5l-1 13M215.5 411.5l-1 15M214.5 426.5l-7 12M235.5 396.5l-5 13M230.5 409.5l-2 12M228.5 421.5l-6 25M243.5 405.5l-2 7M240.5 420.5l-8 8M234.5 432.5l-5 8M290.5 412.5l-7 8M278.5 436.5l-8 0M270.5 436.5l-7 5M262.5 425.5l-6 9M252.5 420.5l5 14M307.5 418.5l-7 11M300.5 429.5l-9 19M270.5 430.5l5 14M275.5 444.5l-12 11M373.5 448.5l-11 7M362.5 455.5l-16 10M343.5 469.5l-8 3M323.5 480.5l-16 7M336.5 454.5l-13 1M323.5 455.5l-26 3M297.5 458.5l6-5M307.5 450.5l-10-2M354.5 472.5l-13 8M341.5 480.5l-10 10M331.5 490.5l-8 8M357.5 480.5l-16 9M341.5 489.5l-18 11M315.5 512.5l-10 0M305.5 512.5l-6-12M342.5 516.5l-8 3M317.5 524.5l26 1M319.5 489.5l-6 13M305.5 486.5l-11-6M294.5 480.5l-4 13M246.5 452.5l2-8M229.5 447.5l9 17M238.5 464.5l-24-28M205.5 443.5l-11-14M194.5 429.5l2 35M196.5 464.5l2-52M206.5 414.5l-6 13M33.5 538.5l17 2M50.5 540.5l14 2M64.5 542.5l22 0M86.5 542.5l7-4M58.5 534.5l24 0M82.5 534.5l20 0M38.5 560.5l13-2M51.5 558.5l36-16M10.5 591.5l10-6M20.5 585.5l18-14M38.5 571.5l10-5M53.5 564.5l8 0M81.5 563.5l19-5M56.5 572.5l11-5M100.5 558.5l15-3M88.5 582.5l17-12M109.5 571.5l18-10M95.5 588.5l5-11M88.5 595.5l14-3M102.5 592.5l25-22M127.5 570.5l-1 8M118.5 591.5l9-20M85.5 610.5l9-3M94.5 607.5l14 0M110.5 604.5l15 0M123.5 619.5l-6 6M97.5 648.5l10 0M107.5 648.5l-22 8M85.5 656.5l-8 7M138.5 640.5l13-11M152.5 670.5l3-8M160.5 652.5l6-12M178.5 650.5l-6-17M185.5 663.5l5-8M150.5 621.5l-8-9M250.5 705.5l-6-16M244.5 689.5l-7-24M237.5 665.5l-9-23M228.5 642.5l-6-21M226.5 651.5l3-9M229.5 642.5l-8 0M221.5 642.5l1-21M212.5 637.5l0-19M202.5 642.5l0-11M191.5 653.5l-1-13M244.5 659.5l1-11M243.5 635.5l4-8M257.5 629.5l-4-7M278.5 642.5l19 1M297.5 643.5l23 0M320.5 643.5l37-10M361.5 632.5l8 6M320.5 643.5l19 17M278.5 642.5l-21-7M230.5 628.5l10 3M240.5 631.5l5-6M293.5 621.5l-1-10M292.5 611.5l1-9M293.5 602.5l2-11M297.5 584.5l1-14M325.5 622.5l-12-10M313.5 612.5l-23-17M290.5 595.5l-8-8M377.5 600.5l-13-4M364.5 596.5l-18-5M346.5 591.5l-10-1M336.5 590.5l-13-7M323.5 583.5l-16-10M307.5 573.5l-9-3M341.5 581.5l-15-11M325.5 564.5l-12 3M342.5 559.5l-12-7M330.5 552.5l-10 4M346.5 551.5l-10-7M336.5 544.5l-13-2M323.5 542.5l-10 0M368.5 547.5l-13-1M355.5 546.5l-20-2M340.5 534.5l-30-1M334.5 527.5l9-1M343.5 526.5l-31 2" class="e"/>
<path class="no" d="M166.5 457.5l198 139-121 39-138-65 106-89"/>
<path class="ng" d="M298.5 570.5h0"/>
<path class="no" d="M284.5 426.5l-50 129"/>
<path class="nb" d="M248.5 547.5h0"/>
<path class="no" d="M265.5 589.5l-150-34 76 39 88-10-121 74-25-157-34 54 74-24 109 40-154-106 118-3-22 24-39 33-72-14"/>
<path class="ng" d="M377.5 600.5h0"/>
<path class="no" d="M193.5 502.5l-155 69 99-26-28 26 75-128-8 44"/>
<path class="ng" d="M164.5 543.5h0"/>
<path class="no" d="M355.5 546.5l-81-62-31-79 45 137-40 49-33-151 36 9-80 143 88-6-129-45 89-26-119 62 156-68-20 80 48-13-153 28 47-38 30 24-100 17 175-51-23-49-125 95 71-105 121-120-307 208 113-127 153 37 11 50-155 10-77-71"/>
<path class="ng" d="M296.5 506.5h0"/>
<path class="no" d="M336.5 590.5l-41 1-17-106-37 84-88-52 63 89-54-47 49 13 53-32-122 77 13 45 104-124 84-12-127-63-51 69 25 82 31 28 67-150"/>
<path class="nb" d="M325.5 564.5h0"/>
<path class="no" d="M123.5 587.5l-88-27 266 1-193-28 137-26"/>
<path class="nb" d="M85.5 525.5h0"/>
<path class="no" d="M177.5 562.5h0"/>
<path class="nb" d="M299.5 510.5h0"/>
<path class="no" d="M311.5 503.5l-155 2"/>
<path class="nb" d="M233.5 474.5h0"/>
<path class="no" d="M139.5 563.5l137-27 3-18-51-12-49 46-61 39"/>
<path class="nb" d="M141.5 502.5h0"/>
<path class="no" d="M179.5 448.5l19 169 62-2-52-3-107-51 75-23 99-23-70 84-11 20 15-172 45 104-81 51 38-76 12 48 94-50-87-21-105 101 125-67"/>
<path class="nb" d="M212.5 610.5h0"/>
<path class="no" d="M233.5 489.5l85 46"/>
<path class="nb" d="M297.5 531.5h0"/>
<path class="no" d="M192.5 527.5l19-53 68 118 28-19-148-10 108-64-159 68 107-12 119-36-31-37 1 32-248 58 266-52-97-16-43 61-3 9 96-18-237 4 229-162-65 173-88 64 129-155 9-18-19 19-67 11-34 64 30 33-12-116 34-83-107 273 210-99"/>
<path class="nb" d="M321.5 545.5h0"/>
<path class="no" d="M292.5 529.5l-56-12-57 54-13 25 162-73-163-19-42 56-30-90"/>
<path class="nb" d="M136.5 506.5h0"/>
<path class="no" d="M308.5 549.5l-162-19 60 91 120-51-47-81-70 56-111-39 86 46 15 48-24-78"/>
<path class="nb" d="M205.5 443.5l19 175"/>
<path class="no" d="M50.5 540.5l194-4-211 2 66-61"/>
<path class="nb" d="M131.5 504.5h0"/>
<path class="no" d="M149.5 576.5l66-56"/>
<path class="ng" d="M140.5 483.5h0"/>
<path class="nb" d="M326.5 509.5h0"/>
<path class="no" d="M140.5 623.5l70-159 27 201 105-106-194-1-19-3 87 19-53-25 16 34-65-32 27 27 11 1 194-114-134 97"/>
<path class="nb" d="M194.5 429.5l75 98"/>
<path class="no" d="M310.5 533.5l-43-17-33-14-52 10 63 136"/>
<path class="nb" d="M248.5 444.5h0"/>
<path class="no" d="M285.5 490.5l-65 42-8-93-78 61 99 87-102 4 8-68 73-77"/>
<path class="nb" d="M138.5 567.5h0"/>
<path class="no" d="M242.5 450.5l38 74-134 35 92-7-72 67 27-141-19 90-5-68 85 73-122 27 55-5"/>
<path class="nb" d="M290.5 493.5h0"/>
<path class="no" d="M144.5 502.5l135 81-108-47 132-36 54-20-156 70-40 55-59 35 207-93-77-119-168 114 191 17-14 24-70-94 14 77 169-94-120 49-25-5-60-9-36 127 170-148-49 113 21-109-74 55 57-91-48 104 167 75"/>
<path class="nb" d="M180.5 622.5h0"/>
<path class="no" d="M277.5 526.5l-191-23"/>
<path class="ng" d="M139.5 562.5h0"/>
<path class="no" d="M252.5 527.5l-51-44 31 131 83-60-128-98 12 100-41 8 18 43"/>
<path class="nb" d="M139.5 489.5l-4 5"/>
<path class="no" d="M202.5 595.5l10-58-30-139 97 137-176-7 90 14 66 37-17-48-69 40-5-14-31-51 46 113-55-79 122 19-123-59 154 29"/>
<path class="nb" d="M157.5 436.5h0"/>
<path class="no" d="M142.5 609.5h0"/>
<path class="nb" d="M173.5 643.5h0"/>
<path class="no" d="M193.5 606.5l-82-100 163-39-9-49-140 194 80-61 58-70 23 54-11-43-31 197"/>
<path class="nb" d="M335.5 472.5h0"/>
<path class="no" d="M147.5 526.5l41-118-45 63 27 130-28-104 4 77 98-80-6 74-35 19-17-34 106 32-99-50-72 66 78-64-54-49 43 124-12-64 1 41-12-129-59 81 42-29 112-11"/>
<path class="nb" d="M237.5 624.5h0"/>
<path class="no" d="M71.5 568.5l174 57"/>
<path class="nb" d="M336.5 454.5h0"/>
<path class="no" d="M127.5 581.5l29-53-63 10 128-59 25 48 9-16 88 14-47-46-66 61"/>
<path class="ng" d="M246.5 476.5h0"/>
<path class="no" d="M252.5 389.5l-36 133-29-28-75 72 50-13-42 2 198-193-158 257-43-29 85-45"/>
<path class="nb" d="M251.5 456.5h0"/>
<path class="no" d="M199.5 486.5l-62 59 94 11 16-71 10 97-179-54"/>
<path class="nb" d="M321.5 507.5h0"/>
<path class="no" d="M266.5 535.5l-160 113 54-142-22 21-5-59 14 30-13-10 15 29 73 9-85 13 58-58-43 131-46-87 150-22"/>
<path class="ng" d="M173.5 525.5h0"/>
<path class="no" d="M175.5 594.5l166-13-162-62-18 15 34 27 102-83-115-96-24 131"/>
<path class="nb" d="M58.5 534.5h0"/>
<path class="no" d="M278.5 534.5l-94 52 76-31-17 31-127 55 81-97-74-101 125-53-120 103"/>
<path class="nb" d="M123.5 571.5h0"/>
<path class="no" d="M178.5 546.5h0"/>
<path class="nb" d="M215.5 491.5h0"/>
<path class="ng" d="M170.5 521.5h0"/>
<path class="no" d="M219.5 469.5l65 69"/>
<path class="nb" d="M146.5 593.5h0"/>
<path class="no" d="M192.5 618.5l-8-76 109-50-36 68-103 34-13-76 110-9"/>
<path class="nb" d="M248.5 586.5h0"/>
<path class="no" d="M219.5 468.5l19 54-39 42 63 27"/>
<path class="nb" d="M180.5 525.5h0"/>
<path class="no" d="M250.5 604.5l-10-202-21 146-1 22-81-39 64 11 9 66-19-33-8-3 43-36-114 63-10-7 95-16 86-59-154 3 2 2 124-5"/>
<path class="nb" d="M134.5 597.5h0"/>
<path class="no" d="M307.5 481.5l-126 143-54-53 98-51-8-53 32 56-47-23 96 70-9-96-127 92-1-118 53 61-13-92 73 195-26-30"/>
<path class="nb" d="M134.5 583.5h0"/>
<path class="no" d="M173.5 443.5l35 51 22-2-124 149 106-16-24-50-6 20-38-3"/>
<path class="nb" d="M243.5 541.5h0"/>
<path class="no" d="M196.5 568.5l117-26-109 17 12-103-46 34"/>
<path class="nb" d="M244.5 499.5h0"/>
<path class="no" d="M297.5 487.5l-92 1"/>
<path class="nb" d="M232.5 563.5h0"/>
<path class="no" d="M193.5 473.5l1 51 145 136-206-148 70 55 65-32-161 113 143-35 8-62-69 49-13-107 58-61"/>
<path class="nb" d="M258.5 448.5h0"/>
<path class="no" d="M158.5 484.5l-33 56 129-4"/>
<path class="nb" d="M295.5 625.5h0"/>
<path class="no" d="M141.5 491.5l167 38-208 20 163-24-93-8-10-30-35 130 106-122-26 109 36-49 93-28-89 29 4 45-6-22-17 33-62-110 5-17 20 117 62-19"/>
<path class="nb" d="M270.5 430.5h0"/>
<path class="no" d="M176.5 540.5h0"/>
<path class="ng" d="M261.5 443.5h0"/>
<path class="no" d="M269.5 542.5l-24 81-104-163 118 61"/>
<path class="nb" d="M146.5 490.5h0"/>
<path class="no" d="M130.5 525.5l83 60-46-16 40-45-46-42 85-26-39 28 64 99-66-39 16 45 33-42-39-3 28-54-5 29-77 19-27 55 24-24 84-83-78-32 84 19-77 87"/>
<path class="ng" d="M174.5 510.5h0"/>
<path class="nb" d="M298.5 538.5h0"/>
<path class="no" d="M151.5 530.5l119-54"/>
<path class="nb" d="M150.5 506.5l140 58"/>
<path class="no" d="M231.5 559.5l-121 91-28-38 74-26 44-69-43-18 34 9 68 40-107 122 111-85"/>
<path class="nb" d="M263.5 496.5h0"/>
<path class="no" d="M173.5 651.5l-9-77"/>
<path class="nb" d="M227.5 488.5h0"/>
<path class="no" d="M151.5 554.5l8 82"/>
<path class="ng" d="M105.5 575.5h0"/>
<path class="no" d="M194.5 595.5h0"/>
<path class="nb" d="M157.5 599.5h0"/>
<path class="no" d="M269.5 538.5l34 17-18-84-137 12 83 31 6-13-37-74 62 161-135-61 79-9 28 43 85-32"/>
<path class="ng" d="M209.5 440.5h0"/>
<path class="no" d="M212.5 618.5l69-131-79 155-35-93-138-11 45 24 159 13 30-82-133 57 62 1"/>
<path class="nb" d="M313.5 483.5h0"/>
<path class="no" d="M225.5 460.5l-37 171 80-171-126 5 16 68 45 6-28 6 12 61"/>
<path class="nb" d="M172.5 473.5h0"/>
<path class="no" d="M315.5 529.5l-52-74-95 146 8-132-4 137 27-94 46-19 35-15-95 80 58 13-127-44 36 10 80 61-1-72 26-4-21 47-96 16 151-14-154-29 78 8-52 50 61-117 25 68-117 25-17 17 28-68 76 85-25-69 83 54-136-25 109 59 7-100-78 85 21-133-8 165 48-226-27 80 112 122-150-47-37-43 102 3-51 6 54-37-74 5 104 10-160-9 190-23-153 37 127-32-104-31-22 168 26-115 8-3 13 83 102-17-100-100-32 51-5-66 30 27-61 66 26-66 52 113-93-100"/>
<path class="nb" d="M269.5 532.5h0"/>
<path class="no" d="M311.5 570.5l-133 0 40 29-37-96 115 66-127-96 4 84 147-35-106-96-2 35 65 17-70-11-27 41 88-114"/>
<path class="ng" d="M216.5 570.5h0"/>
<path class="no" d="M197.5 549.5h0"/>
<path class="nb" d="M331.5 471.5h0"/>
<path class="no" d="M196.5 453.5h0"/>
<path class="ng" d="M310.5 448.5h0"/>
<path class="no" d="M239.5 493.5l-1-1-52 126 64-95-121-4-14 23 88 66 44-35 43-166-16 137-85-90 81 34-49-25 34 18 25 76-100 21 42-15 44-78 15 9-44 64-49 75 83-68-78 4-4 51 62-116-61 17"/>
<path class="nb" d="M271.5 619.5h0"/>
<path class="no" d="M143.5 551.5l125 21-175-72 78-5 1-41-2 155 80-97-54 50-23-100 72 51-154 41 194 21"/>
<path class="nb" d="M208.5 654.5h0"/>
<path class="no" d="M244.5 523.5l-29 6 32-34-68 96 94-95 25 57-112 55-4-7-13-6 91-52-5 49-145 12 47-79 73 59-85-80 178-24-124 49-58 7 77-24-5-43 26 128 69-74-48-48 3 39"/>
<path class="ng" d="M148.5 591.5h0"/>
<path class="no" d="M100.5 558.5l191 24-69-75 67 57-116 49 93-41-38-6-77 38 46-70 29-23-12 75 98-58-42 25-126-70 130-2-31-10-54 107-30-34 68-53 45 67"/>
<path class="nb" d="M185.5 461.5h0"/>
<path class="no" d="M191.5 653.5l-49-113 69 66 7-52-46 45 96-125-6-49-103 151 57-81"/>
<path class="nb" d="M159.5 549.5h0"/>
<path class="no" d="M226.5 443.5l52 45-127-1-65 55"/>
<path class="nb" d="M221.5 448.5h0"/>
<path class="no" d="M231.5 510.5l52 47-215-93 95 42 42-13 87-8-70-39 8 182 33-98-85 72 46-18 11-79-36-6 58-2-20 83"/>
<path class="nb" d="M272.5 531.5h0"/>
<path class="no" d="M226.5 611.5l1-103 88 7-21 75-102-112-7 185-46-69 83-27 35-90-62 149"/>
<path class="nb" d="M312.5 523.5h0"/>
<path class="no" d="M229.5 440.5l94 60-70 4-100 42 24-84 9 70 20-74 11 57-2 32-34-49 49 57-9 57 0-51-75-74 134 14-73-10 64-101-11 115-65 74 19-54-27-112 22 193"/>
<path class="nb" d="M299.5 529.5h0"/>
<path class="ng" d="M201.5 612.5h0"/>
<path class="no" d="M254.5 595.5l-1-4 37-126-95 51 49 88"/>
<path class="nb" d="M102.5 534.5h0"/>
<path class="no" d="M276.5 506.5l-98-56 28 88-50-62-29 137"/>
<path class="ng" d="M159.5 536.5h0"/>
<path class="no" d="M202.5 525.5l54 116-125-66 166-127"/>
<path class="nb" d="M238.5 464.5h0"/>
<path class="no" d="M157.5 468.5l49 107-15-15 39-97 73 102-75 77-24-23 104-242-26 127-86 42 30 81 57-207-36 114-113 40 166-38-65-72"/>
<path class="nb" d="M175.5 618.5h0"/>
<path class="no" d="M199.5 522.5l63-45 19 66"/>
<path class="nb" d="M215.5 502.5l25-38"/>
<path class="no" d="M175.5 560.5l-34 45 28-39 70-7-55 65 10-116 13 92-8 3"/>
<path class="nb" d="M285.5 493.5h0"/>
<path class="no" d="M153.5 428.5l105 145-99 26"/>
<path class="ng" d="M216.5 473.5h0"/>
<path class="no" d="M260.5 612.5l-93-126 69 90-88-28 1-3 129-88-15 124-110-81 68-26 92 138-140-171 29 111 2 29 6-39"/>
<path class="nb" d="M225.5 453.5h0"/>
<path class="no" d="M307.5 507.5l-185 16 51 97 117-172-89 42"/>
<path class="nb" d="M247.5 554.5h0"/>
<path class="no" d="M258.5 635.5l4-61 40-55-120-144"/>
<path class="nb" d="M256.5 577.5h0"/>
<path class="no" d="M201.5 560.5l23-86"/>
<path class="nb" d="M191.5 472.5h0"/>
<path class="no" d="M165.5 545.5l101-55-131 50 127 5-10-125-47 104"/>
<path class="nb" d="M343.5 469.5h0"/>
<path class="no" d="M255.5 541.5l-88-61 165-105-158 165 134 27-86 36 4-154-2 134-29 17-87 42 5-2"/>
<path class="nb" d="M310.5 557.5h0"/>
<path class="no" d="M271.5 485.5l-184 1 130-25 102 41-176 85 98-24-76-91-3 122 96 9-92-106 82-18 8-45-117 107-46 39 51-33 26 27-56-18 92-1-68 85"/>
<path class="nb" d="M149.5 545.5h0"/>
<path class="no" d="M221.5 492.5l69 103-108 18-16-55 33-91 36-71-122 206 114-29-39-61 53-35 56 108-33-84-91-23 53 117-62-126 22-35 61 154-79 11 89 36-16-93 19 55-99-70 128 36-152-7-54-69 105-33 97 90-103 46 0-69 82 48-106-67 70 55-17-50-42 32 47-141-94 129 41-28 79 77-13 22 39-75"/>
<path class="nb" d="M137.5 589.5h0"/>
<path class="no" d="M227.5 493.5l-99 22 92 6-77 61 49 65-3-99-34-24 114-32-146 78-12-79 116-24"/>
<path class="ng" d="M184.5 574.5h0"/>
<path class="no" d="M149.5 529.5l7 32 100 56 17-65-85 33 52-112-95 45 34-29 47-7 72 78-6-77-28 36"/>
<path class="nb" d="M346.5 551.5h0"/>
<path class="no" d="M250.5 440.5l-142 196 175-82-121 28-45-77 10 65"/>
<path class="nb" d="M240.5 461.5h0"/>
<path class="no" d="M297.5 643.5l-189-125 183-40-31 116-7 28-97-150 5 98-27-9-1-108 124 79"/>
<path class="ng" d="M297.5 458.5h0"/>
<path class="no" d="M244.5 396.5l-53 169-30-8 142-104-146 87"/>
<path class="nb" d="M263.5 499.5h0"/>
<path class="no" d="M211.5 510.5l-51-34 100 112-64-34-98-28 109 65-41-36-105 9 109-115 52 157-59-121 87 7-139 19 34 33"/>
<path class="nb" d="M255.5 617.5h0"/>
<path class="no" d="M160.5 469.5l66 58-55 54-12-109 48 152"/>
<path class="ng" d="M235.5 547.5h0"/>
<path class="no" d="M239.5 402.5l-35 64 14 116 68-14-71 25 73-19-17-32 28-42-46 2 31 9-130 46 79-21-55-84-2 90-29-63"/>
<path class="nb" d="M190.5 532.5h0"/>
<path class="no" d="M185.5 524.5l77 9-86-27-58-48 123 98-82 58 74-150-123 70 77-58 114 21"/>
<path class="nb" d="M283.5 592.5h0"/>
<path class="no" d="M224.5 570.5l-30 16-67-25 120-63 40-3"/>
<path class="nb" d="M228.5 567.5h0"/>
<path class="no" d="M257.5 629.5l8-75-88-23 90-12-160-39-19 102 28-23 80-59-99 148 152-139 34 66"/>
<path class="nb" d="M185.5 394.5h0"/>
<path class="no" d="M184.5 539.5l51-45 3-8 31 94-108 4 87-43 42-129-62 57-48 16 45 105 27-20 37 13-38-6"/>
<path class="ng" d="M204.5 614.5h0"/>
<path class="no" d="M211.5 551.5l-40-17 92-93 60 57-151 80-16-96 95 73-87-17 25 28 84-18-122-16 44 79-43-131"/>
<path class="ng" d="M309.5 556.5h0"/>
<path class="no" d="M207.5 556.5l-65-39 56 42-21 24-124-19 171 53-98-39 53-117 0 149 132-72-50-3-92 44 8-70 49-9 51-7-140 132 113-143-64 68 28 24 83-124-114 2-1 41-30 38"/>
<path class="ng" d="M120.5 523.5h0"/>
<path class="no" d="M309.5 540.5l-107 36 5-74 58 41 42-56-152 100 74-6-17-139-111 106 117-85-30 7 84 81-47-75 24 100"/>
<path class="nb" d="M204.5 480.5h0"/>
<path class="no" d="M212.5 596.5h0"/>
<path class="nb" d="M297.5 532.5h0"/>
<path class="no" d="M228.5 602.5l19-138 28-14-126 116 104-36 4 19-22-64 56 27-7 5-116-38-22 74 59-78-88 151 172-122-35 95 6-39"/>
<path class="nb" d="M129.5 472.5h0"/>
<path class="no" d="M261.5 495.5l-102-1-71 101 71-65 34 71 129-59-170-30 12-90 28 168 60-127-46 147"/>
<path class="nb" d="M177.5 478.5l115 133"/>
<path class="no" d="M180.5 558.5l0-12 74-47-83 27 36 26 18-91 14 146 45-59-50 68-42-18 77-49 51 94-21-137-84-95-74 95 36 93 32-127-78 57"/>
<path class="nb" d="M237.5 447.5h0"/>
<path class="no" d="M205.5 588.5l57-142-92 98 94-69-72 57 24 46 9-41"/>
<path class="nb" d="M232.5 479.5h0"/>
<path class="no" d="M225.5 446.5h0"/>
<path class="nb" d="M188.5 426.5l109 158"/>
<path class="no" d="M235.5 476.5l14 41 11-33-73 51 52-65"/>
<path class="nb" d="M239.5 590.5l29-96"/>
<path class="no" d="M165.5 617.5l86-85-91 120 35-41 20-77-51 103 92-95-11-37-91-14 97 74-10-55-121 10 150 57-59-21 130-76-100 45 23 39-49-88 51 83 41-141-157 107 22-19 123-34-82 154 34-144-114 121"/>
<path class="ng" d="M245.5 620.5h0"/>
<path class="nb" d="M275.5 444.5h0"/>
<path class="no" d="M244.5 659.5l-45-76"/>
<path class="nb" d="M102.5 527.5h0"/>
<path class="no" d="M259.5 525.5l-104-9 88 126-61-124 2 58"/>
<path class="nb" d="M199.5 455.5h0"/>
<path class="no" d="M209.5 458.5l-199 133 235 6 64-20"/>
<path class="nb" d="M123.5 619.5h0"/>
<path class="no" d="M239.5 524.5l102-35-200 7 115 75-14-24-145-57 178 85-24-129-49 23 10 1-74 29 69 39-23-41 0-7-29 17"/>
<path class="ng" d="M300.5 500.5h0"/>
<path class="no" d="M258.5 479.5l-85 30 10-6 76 10 6 33 27 4-81-53 19-38-34 4-17 18"/>
<path class="nb" d="M318.5 492.5h0"/>
<path class="no" d="M150.5 494.5l32-57"/>
<path class="ng" d="M137.5 520.5h0"/>
<path class="no" d="M164.5 565.5l88-50-45-77-97 191 112-77-57-66 107 30-75 13 24 8-28 44 11-1-11-59-43 62 68 1-31-22"/>
<path class="ng" d="M161.5 445.5h0"/>
<path class="no" d="M237.5 576.5l12-91"/>
<path class="nb" d="M135.5 506.5h0"/>
<path class="no" d="M190.5 493.5l4 82 32 76-87-60 39-231"/>
<path class="nb" d="M212.5 516.5h0"/>
<path class="no" d="M202.5 631.5l-83-103 112 39"/>
<path class="nb" d="M293.5 621.5h0"/>
<path class="no" d="M174.5 643.5l-24-81-12 25 106-85-35 19-4-6 49 92 45-86-114 69 5-1-27 17 45-146 35 5-52 153-73-100 91 66 86-67-53-35"/>
<path class="ng" d="M315.5 494.5h0"/>
<path class="no" d="M227.5 532.5l31-40-36 85 50 5-137-12"/>
<path class="ng" d="M291.5 534.5h0"/>
<path class="no" d="M123.5 470.5l127 83 19 7-76-48-82 115 45-48 71-103 16-33 2 172"/>
<path class="nb" d="M210.5 434.5h0"/>
<path class="no" d="M197.5 581.5l23-38-47 20 0-43 109-8 5-53-110 119"/>
<path class="nb" d="M195.5 463.5h0"/>
<path class="no" d="M145.5 616.5l20-5 0-95 20 12-6-7-24 3"/>
<path class="nb" d="M260.5 486.5h0"/>
<path class="no" d="M247.5 516.5h0"/>
<path class="nb" d="M251.5 610.5h0"/>
<path class="no" d="M175.5 617.5l-45-62 160-79-209 87 19-58 5 131 6-5 159-117-65 114 52-161-96 22 12-23 76 32-20-1-43-33-18 1-12 116 48-48 5-56 42-2-124 11 10 29 136 18 31-39"/>
<path class="ng" d="M150.5 574.5h0"/>
<path class="no" d="M290.5 494.5l-130 53 158-39-120-36 35 110-71-61 36-109 47 154"/>
<path class="nb" d="M148.5 533.5h0"/>
<path class="no" d="M231.5 532.5l3 71-58-76"/>
<path class="nb" d="M241.5 442.5h0"/>
<path class="no" d="M146.5 469.5l30 140 13-104"/>
<path class="nb" d="M202.5 620.5l-30-199"/>
<path class="ng" d="M164.5 496.5h0"/>
<path class="no" d="M266.5 527.5l-73-57 40 49-19 84"/>
<path class="nb" d="M112.5 543.5h0"/>
<path class="no" d="M118.5 512.5l119-25-102 28 40 95 6-157-34 116 19 71-11-144 43 29 23-41-111 34 136 27-239 46 268-122-77 88-36 54 123-221-11 84-3 62-11-69-75 136 32-143 28 58-100 54 104-28-31 65-77-159 47 67-15-25"/>
<path class="nb" d="M265.5 477.5h0"/>
<path class="no" d="M161.5 601.5l74-121"/>
<path class="nb" d="M189.5 440.5h0"/>
<path class="no" d="M192.5 612.5l88-59-131 36 82-38-20-68 15 33 11-64"/>
<path class="nb" d="M200.5 625.5h0"/>
<path class="no" d="M218.5 604.5l11-136 34 81 10-22-109-47 26 72 172-97-192 160-18-123 4 81 118-74"/>
<path class="ng" d="M346.5 591.5h0"/>
<path class="no" d="M181.5 581.5l57-67-67 39"/>
<path class="ng" d="M253.5 621.5h0"/>
<path class="no" d="M217.5 505.5l57 18"/>
<path class="ng" d="M246.5 452.5h0"/>
<path class="no" d="M245.5 549.5l-56-73 90 22-71 36 50 30-42-81 15-24 13 137-20-53 34 24 24 20-45-41 15 42-154-34 128-26"/>
<path class="nb" d="M229.5 472.5h0"/>
<path class="no" d="M273.5 573.5l-54-85-55 104 110-26-43-171 8 146 2 53 10-4-114-130 111-1-48 46-21 92 136-85-174 16-19-17 92 2-48 54 143 3-110-111 45 100-38-15-41-66 175-110-153 250-32-3 17-117-38 68 39-97 17 112 9-87"/>
<path class="nb" d="M294.5 480.5h0"/>
<path class="no" d="M139.5 468.5l86 80-43-69 72 7 1-104-25 27"/>
<path class="ng" d="M177.5 496.5h0"/>
<path class="no" d="M189.5 443.5l1 167-16-145 61 46-16 28 45-86"/>
<path class="ng" d="M305.5 512.5h0"/>
<path class="no" d="M167.5 561.5l58-5-71-3"/>
<path class="nb" d="M189.5 490.5l83 82"/>
<path class="no" d="M209.5 565.5l114 18-133 72 47-159-47 144 28-78-93-69 119 100-196-27 251-45-71 84 7 3-39-61-20 35-82 25 73-23 20-98 41-65 33 95-35 13-14-35 45 81-68-56-22 73 173-58-85 32-120-45 111 38-74-54 104 43-120 56 59-22 130-219-178 85 163 104-119-46-60 37 63-39-3 70 157-27-191 80"/>
<path class="nb" d="M188.5 503.5h0"/>
<path class="no" d="M212.5 470.5l16 54-88 35"/>
<path class="ng" d="M228.5 626.5h0"/>
<path class="no" d="M119.5 482.5l139-22-91 66 33 79 100-77-170 2 160-36-150 50 16 5 126-88-73 19 29 113-91-12 35-110-6 86 124-13-119-154 48 252 57-140-54 27 52-20 7-61-65 112 52 9-107-90 15 26 82 58-14-28-48-26-23 8 58 64-28-92-128 121 139-108-26 108 13-156-19 74 20 89 0-85 8 25-56-46 72 24-85 35-100-12"/>
<path class="ng" d="M180.5 432.5h0"/>
<path class="no" d="M152.5 499.5h0"/>
<path class="nb" d="M266.5 471.5h0"/>
<path class="no" d="M216.5 481.5l-4 111 24-62-61-101"/>
<path class="nb" d="M250.5 579.5h0"/>
<path class="no" d="M206.5 595.5l-25-66 22 77 13-81-16-60 29 21 22 96-166 74 117-207 54 23-134 29 43 106 170-63"/>
<path class="ng" d="M239.5 631.5h0"/>
<path class="nb" d="M305.5 486.5h0"/>
<path class="no" d="M182.5 478.5l-1-13-15 110 6 58 145-75-134-102-39 54 85 34-77-81 131 69-6-22-40 54-26-25 162-91-180 172 75-155-33 119 10-152 29 108-111-10-22-56 39 61 125-25-104 1-18-37-44 100 144-26"/>
<path class="ng" d="M217.5 498.5h0"/>
<path class="no" d="M178.5 531.5l-31-10 13-48 56 89-21-75 23 31-12-104"/>
<path class="nb" d="M317.5 495.5h0"/>
<path class="no" d="M239.5 550.5l8 77-105-15"/>
<path class="nb" d="M245.5 540.5h0"/>
<path class="no" d="M219.5 594.5l-9-64"/>
<path class="ng" d="M323.5 455.5h0"/>
<path class="nb" d="M224.5 517.5h0"/>
<path class="ng" d="M272.5 510.5h0"/>
<path class="no" d="M152.5 601.5l-44-44 163-86-158 105 120-35-133 103 131-52-36-95 43 36 28-28-154 4"/>
<path class="nb" d="M194.5 483.5h0"/>
<path class="no" d="M120.5 632.5l30-11 109-215-4 152-65 0 80-122-24 35 32 171-117-139 82 98-71-73 8-22 82 86"/>
<path class="nb" d="M133.5 586.5h0"/>
<path class="no" d="M284.5 541.5l-106 109"/>
<path class="nb" d="M103.5 543.5h0"/>
<path class="no" d="M276.5 510.5l5-78-126 43 15 75 67-9 34 32"/>
<path class="ng" d="M206.5 470.5h0"/>
<path class="no" d="M142.5 514.5l98 63-117-69 83 57 49-11 55 23-195 52 65-74-16 25 75-93"/>
<path class="nb" d="M251.5 569.5h0"/>
<path class="no" d="M156.5 570.5l30-24 39-79 25 238-162-127 163-52-21-117-79 191 103-56-8 21-11-37-18 10 14-17-43-73 61 39"/>
<path class="nb" d="M130.5 517.5h0"/>
<path class="no" d="M191.5 437.5l65 17-42 170 24-19-45-84"/>
<path class="nb" d="M181.5 617.5h0"/>
<path class="no" d="M206.5 586.5l-88-5"/>
<path class="nb" d="M320.5 556.5h0"/>
<path class="no" d="M178.5 380.5l19 92 21 116 95-21-125 25 103-10-85-120 5 116-27 19 158-81-145 75-26-4 107-151-15 72"/>
<path class="nb" d="M214.5 436.5h0"/>
<path class="no" d="M225.5 553.5l-72 11 68-68-84 14 52-29 134 61-55 35 46-87-117 50 40-68-79-12 48 110-8-85 55-9-81-23 75 104"/>
<path class="nb" d="M222.5 501.5h0"/>
<path class="no" d="M222.5 621.5l-17-109-22 98 13-169 96 80-112 84 60 26-83-75-49-66 169 85-28 48 51-194-157 108 95-59-26 159-47-49 76-176-84 217-10-43"/>
<path class="nb" d="M216.5 486.5l-13-35"/>
<path class="no" d="M273.5 504.5l45 7-156 99 15-57"/>
<path class="nb" d="M254.5 495.5h0"/>
<path class="no" d="M143.5 534.5l34-62"/>
<path class="nb" d="M232.5 589.5h0"/>
<path class="no" d="M145.5 558.5l56 35 7-62-71 19 62 40-49 4 31-77"/>
<path class="ng" d="M269.5 500.5h0"/>
<path class="no" d="M209.5 459.5l-26 110 7-71 22-14 22-36"/>
<path class="nb" d="M143.5 496.5h0"/>
<path class="no" d="M187.5 529.5l144-39"/>
<path class="ng" d="M248.5 573.5h0"/>
<path class="no" d="M264.5 473.5l8 95-48 32-89-89"/>
<path class="nb" d="M209.5 488.5h0"/>
<path class="no" d="M95.5 588.5h0"/>
<path class="ng" d="M241.5 502.5h0"/>
<path class="no" d="M123.5 556.5l30 34 42 41-26-119-3 96 136 16-235-57 75-113"/>
<path class="ng" d="M269.5 506.5h0"/>
<path class="no" d="M208.5 572.5l58-85-49-16-63 12 83 24-49 63-4-88-50 57 38-86 25 67"/>
<path class="ng" d="M259.5 605.5h0"/>
<path class="no" d="M184.5 465.5l48 79-15 21-55-44 74-22-7 52 11-104-55 177 15-149-41 117 96 21 17-146-9 89-135-56 78 45-89 80 121-72-71-83-8 39 6 10 101 67-148-65 39 14 1 77-1 21 91 30-48-199-47 87 102 54-53-31-89 68 130-25 6-147-114 80 158 52-98-106 67 122-77-55-28-19"/>
<path class="nb" d="M307.5 450.5h0"/>
<path class="no" d="M174.5 588.5l56-12"/>
<path class="nb" d="M241.5 530.5h0"/>
<path class="no" d="M267.5 541.5l-94 13 38 13 21 3 137 68-173-68-28-31 89-21-77-23-5-11-73 46 33 49 46 46 77-41 78-40-111 34 88-76-109 27 30-77-39 155-11-69 3 81 8-112-9-47 50 12 21-38-3 37 27 76"/>
<path class="ng" d="M117.5 547.5h0"/>
<path class="no" d="M159.5 518.5l17-36 143 7-97 59"/>
<path class="nb" d="M286.5 500.5h0"/>
<path class="no" d="M109.5 650.5l59-45 36-14"/>
<path class="nb" d="M200.5 519.5h0"/>
<path class="no" d="M175.5 501.5l37-45 61 105-125 92 146-116-147-36 138-44-17 25-93-23-30 64 25-55-12 134 119-73-195 5 143-41-88 37 15 54 49-124-26 151 78-115-96 98 34-130 19 53 46-78-77 158 86-20"/>
<path class="ng" d="M146.5 538.5h0"/>
<path class="no" d="M186.5 583.5l27 15 62-74-147-44 200-2"/>
<path class="nb" d="M243.5 439.5h0"/>
<path class="no" d="M361.5 632.5l-171-149"/>
<path class="nb" d="M185.5 403.5h0"/>
<path class="no" d="M193.5 470.5l75 41-73-21"/>
<path class="nb" d="M229.5 447.5h0"/>
<path class="no" d="M251.5 597.5l-31-3 12 2-85-32-2-2 32-51 64 5-56 44-12-59 13-15 3 54-102 2 119-36 55-18-38 24-130 14 123 14-116-2"/>
<path class="nb" d="M175.5 428.5h0"/>
<path class="no" d="M159.5 514.5l72 34"/>
<path class="nb" d="M216.5 618.5h0"/>
<path class="no" d="M165.5 464.5l83 2-87 144"/>
<path d="M483.5 492.5l22 3M483.5 492.5l12 13M492.5 490.5l18 13M492.5 490.5l26 19M498.5 485.5l13 14M498.5 485.5l9 13M510.5 492.5l32 0M510.5 492.5l16 25M513.5 486.5l9 13M513.5 486.5l13 31M481.5 497.5l27 15M481.5 497.5l29 6M485.5 493.5l6 13M485.5 493.5l20 25M495.5 495.5l28 20M495.5 495.5l28-3M505.5 495.5l17 4M511.5 499.5l17 20M511.5 499.5l13 18M520.5 498.5l3 17M520.5 498.5l3 17M523.5 492.5l6 29M523.5 492.5l7 26M529.5 497.5l8 34M529.5 497.5l8 8M538.5 497.5l2 34M538.5 497.5l2 34M478.5 500.5l27 18M478.5 500.5l27 18M481.5 502.5l8 18M481.5 502.5l8 18M489.5 499.5l21 4M489.5 499.5l20 28M496.5 502.5l11 30M496.5 502.5l33-5M507.5 498.5l15 1M512.5 504.5l25 19M512.5 504.5l21 12M522.5 499.5l16 21M522.5 499.5l15 24M529.5 499.5l11 32M529.5 499.5l15 27M537.5 505.5l6 25M537.5 505.5l5 14M478.5 510.5l21 12M478.5 510.5l33 6M491.5 506.5l33 11M491.5 506.5l23 12M492.5 507.5l13 11M492.5 507.5l16 19M500.5 505.5l14 13M500.5 505.5l17 0M509.5 509.5l24 7M509.5 509.5l20 28M518.5 509.5l21 25M518.5 509.5l5 6M526.5 505.5l9 21M526.5 505.5l11 31M535.5 511.5l3 9M535.5 511.5l13 12M486.5 514.5l22 8M486.5 514.5l23-5M490.5 515.5l19 12M490.5 515.5l8 10M501.5 513.5l28 8M501.5 513.5l20 15M508.5 512.5l22 17M508.5 512.5l21 25M511.5 516.5l19 2M511.5 516.5l29 14M526.5 517.5l9 9M530.5 518.5l26 11M530.5 518.5l26 11M483.5 522.5l21 23M489.5 520.5l23 5M489.5 520.5l26 4M498.5 525.5l19 12M498.5 525.5l15 17M500.5 525.5l19 22M500.5 525.5l28-6M515.5 524.5l28 6M516.5 519.5l21 12M516.5 519.5l29 19M528.5 519.5l7 15M531.5 519.5l14 26M531.5 519.5l17 4M474.5 530.5l13-3M474.5 530.5l22-3M487.5 527.5l29-8M487.5 527.5l21-5M489.5 531.5l30 16M489.5 531.5l29 20M497.5 527.5l17 17M497.5 527.5l15 26M509.5 527.5l20-6M509.5 527.5l13 17M512.5 525.5l13 8M512.5 525.5l14 14M522.5 531.5l18-1M529.5 530.5l23-1M473.5 538.5l31 7M473.5 538.5l13 7M477.5 531.5l18 19M477.5 531.5l31-9M491.5 534.5l13 11M491.5 534.5l31 11M493.5 539.5l20 24M493.5 539.5l19 22M507.5 532.5l23 14M507.5 532.5l11 14M512.5 539.5l11 6M512.5 539.5l14 9M478.5 540.5l21 14M478.5 540.5l13 0M486.5 545.5l26 16M486.5 545.5l13-2M491.5 540.5l27 11M491.5 540.5l11 16M499.5 543.5l33-7M499.5 543.5l19 8M510.5 544.5l18 20M510.5 544.5l27-8M513.5 542.5l13-3M477.5 547.5l11 12M477.5 547.5l33-3M479.5 544.5l20-1M479.5 544.5l20-1M492.5 552.5l28 20M492.5 552.5l15 14M495.5 550.5l28-9M495.5 550.5l24 7M506.5 552.5l23-15M506.5 552.5l16-8M475.5 551.5l22-15M475.5 551.5l27 5M484.5 550.5l24 18M484.5 550.5l15 4M490.5 553.5l17 13M512.5 553.5l23 26M477.5 564.5l23 11M477.5 564.5l8 6M480.5 563.5l32-10M480.5 563.5l8 7M488.5 559.5l26-4M488.5 559.5l14-3M512.5 561.5l27 3M469.5 568.5l21 7M469.5 568.5l16 11M475.5 566.5l17-14M475.5 566.5l24-12M488.5 570.5l33 10M488.5 570.5l27 0M490.5 568.5l25 2M490.5 568.5l18-8M497.5 565.5l15-4M497.5 565.5l20 10M515.5 570.5l20 5M470.5 574.5l20 1M479.5 576.5l21 4M485.5 570.5l16 10M494.5 572.5l23 3M505.5 578.5l8-5M471.5 577.5l30 3M481.5 581.5l27-21M481.5 581.5l12 1M485.5 583.5l32-8M485.5 583.5l23-23M489.5 578.5l28 5M489.5 578.5l16 9M470.5 588.5l18-18M470.5 588.5l15-18M478.5 583.5l24 7M487.5 587.5l31-11M487.5 587.5l18 0M498.5 588.5l28-18M507.5 587.5l24-17M509.5 585.5l12-5M509.5 585.5l30 10M517.5 583.5l22 3M472.5 594.5l33 4M472.5 594.5l18-19M478.5 590.5l27-3M485.5 590.5l28 2M485.5 590.5l26 2M490.5 594.5l18-14M490.5 594.5l18-14M481.5 597.5l19-17M481.5 597.5l31 1M492.5 598.5l28 0M492.5 598.5l26-4M496.5 603.5l25-23M496.5 603.5l32-3M505.5 598.5l18 0M505.5 598.5l21-15M516.5 603.5l31-2M516.5 603.5l27 4M483.5 604.5l18-24M483.5 604.5l25 3M491.5 609.5l16-7M491.5 609.5l14-11M497.5 607.5l27-13M497.5 607.5l20-19M508.5 607.5l33-3M508.5 607.5l23-3M496.5 613.5l7-4M496.5 613.5l24-15M503.5 609.5l15-4M503.5 609.5l16-7M507.5 609.5l21-9M507.5 609.5l32-2M618.5 494.5l-24 1M635.5 494.5l7-13M654.5 494.5l19-10M628.5 502.5l20 3M665.5 501.5l7-9M680.5 502.5l9 17M591.5 505.5l19-13M594.5 503.5l-6-22M682.5 504.5l-9-20M584.5 507.5l7-24M681.5 508.5l-8-24M603.5 513.5l20 0M683.5 513.5l6-11M580.5 514.5l-5 16M664.5 515.5l25-6M695.5 514.5l10 9M577.5 518.5l23 4M581.5 517.5l13 17M548.5 523.5l-24-6M692.5 522.5l0-24M637.5 526.5l-17-11M548.5 530.5l-19-9M581.5 532.5l-4-14M531.5 536.5l-15-17M537.5 536.5l-7-18M663.5 535.5l-10 16M692.5 537.5l19 10M523.5 541.5l8-22M700.5 545.5l1-25M657.5 545.5l6-10M663.5 551.5l10-5M691.5 548.5l18-8M522.5 554.5l-7 16M526.5 552.5l-13 11M590.5 554.5l8 6M698.5 553.5l13-6M566.5 561.5l0-19M700.5 574.5l23 0M679.5 582.5l2 24M528.5 584.5l-23 3M593.5 585.5l8 8M605.5 583.5l-14 16M689.5 585.5l-12 11M531.5 588.5l-13-5M523.5 593.5l-6-18M524.5 594.5l-11-21M633.5 594.5l14 15M692.5 594.5l22-12M674.5 604.5l24 6M681.5 606.5l-2-24M683.5 607.5l16-3M528.5 607.5l-17-15M660.5 608.5l-2 24M669.5 607.5l12-17M609.5 612.5l13 14M630.5 612.5l-11 16M679.5 613.5l-5 13M557.5 616.5l9 20M551.5 623.5l16 16M627.5 622.5l3-22M656.5 624.5l-6 13M541.5 625.5l5 9M559.5 628.5l-13 6M621.5 628.5l-14 13M622.5 626.5l11-21M627.5 628.5l16 16M586.5 629.5l17 16M596.5 629.5l13-2M631.5 629.5l-7 23M639.5 629.5l4 15M594.5 633.5l23-8M608.5 632.5l7 22M634.5 460.5l4 10M634.5 460.5l1 28M680.5 461.5l-7 23M680.5 461.5l-18 30M688.5 466.5l-6 31M688.5 466.5l-16 5M657.5 468.5l-28 21M657.5 468.5l-15 13M684.5 472.5l-16 19M684.5 472.5l-24 6M623.5 473.5l1 21M623.5 473.5l11 33M637.5 473.5l-16 22M637.5 473.5l-1 24M644.5 476.5l-17 22M644.5 476.5l-8 21M677.5 472.5l-19 14M677.5 472.5l-23 25M678.5 476.5l-1 24M678.5 476.5l-10 15M602.5 476.5l4 32M602.5 476.5l12 30M591.5 483.5l17 23M591.5 483.5l8 32M607.5 482.5l4 22M607.5 482.5l-5 13M665.5 482.5l-5 13M672.5 484.5l-9 23M672.5 484.5l-21 19M680.5 484.5l-15 14M680.5 484.5l-6 8M620.5 487.5l7 30M620.5 487.5l-17 16M624.5 487.5l-21 16M624.5 487.5l-11 13M673.5 484.5l-9 31M673.5 484.5l-8 14M586.5 491.5l8 17M586.5 491.5l-12 30M591.5 490.5l-5 24M624.5 487.5l-19 25M594.5 495.5l16 25M594.5 495.5l13 24M553.5 497.5l13 31M553.5 497.5l1 30M575.5 495.5l23 17M575.5 495.5l-1 26M701.5 496.5l-32 3M701.5 496.5l-6 18M570.5 498.5l-2 18M537.5 503.5l15 26M537.5 503.5l14 21M572.5 506.5l26 12M572.5 506.5l19 15M587.5 503.5l-6 29M689.5 502.5l-10 20M728.5 502.5l-27 18M728.5 502.5l-22 23M700.5 508.5l-27-5M700.5 508.5l-11 28M708.5 506.5l-28-4M708.5 506.5l-25 7M703.5 513.5l-26-3M703.5 513.5l-10 0M524.5 517.5l21 21M723.5 516.5l-22 4M723.5 516.5l-30 4M529.5 521.5l26 19M529.5 521.5l23 10M538.5 520.5l7 6M552.5 518.5l10 8M508.5 522.5l19 23M508.5 522.5l11 25M702.5 523.5l-10 20M719.5 524.5l-18-4M719.5 524.5l-24 19M499.5 527.5l30 3M499.5 527.5l30-6M508.5 526.5l29 10M508.5 526.5l31 8M520.5 530.5l15-4M710.5 530.5l-30-10M497.5 536.5l33 10M497.5 536.5l28-3M709.5 540.5l-22 24M709.5 540.5l-8-2M711.5 547.5l-13-9M711.5 547.5l-20 1M717.5 546.5l-26-15M717.5 546.5l-33 9M722.5 545.5l-24 14M722.5 545.5l-33 5M502.5 556.5l21-11M512.5 559.5l28-3M706.5 559.5l-29-16M713.5 556.5l-12 2M513.5 563.5l23-15M709.5 563.5l-20-16M709.5 563.5l-21 8M708.5 572.5l-28 15M485.5 579.5l27-18M485.5 579.5l22-1M500.5 575.5l19-10M710.5 578.5l-27 18M713.5 576.5l-33 0M713.5 576.5l-18 4M500.5 580.5l25-21M500.5 580.5l26-10M512.5 579.5l29 13M730.5 582.5l-26-24M730.5 582.5l-24-23M710.5 586.5l-29 14M710.5 586.5l-17-16M714.5 582.5l-24-22M714.5 582.5l-22 10M509.5 587.5l22-17M509.5 587.5l15-13M517.5 588.5l14-10M517.5 588.5l23-9M714.5 590.5l-30-14M714.5 590.5l-23 4M738.5 589.5l-28-3M738.5 589.5l-8-7M709.5 592.5l-9-13M709.5 592.5l-20-25M705.5 594.5l-21-4M705.5 594.5l-23 7M511.5 601.5l27-16M724.5 602.5l-15-10M724.5 602.5l-21 2M699.5 604.5l-15-20M699.5 604.5l-7-12M703.5 604.5l-19-28M703.5 604.5l-13-3M493.5 609.5l27 5M493.5 609.5l12-11M689.5 613.5l-23-9M689.5 613.5l-32-7M698.5 610.5l-20 1M698.5 610.5l-27-14M488.5 613.5l29 6M488.5 613.5l20-16M705.5 613.5l-23-5M705.5 613.5l-31-9M502.5 620.5l15-32M502.5 620.5l22-5M517.5 619.5l27 4M517.5 619.5l26-12M525.5 626.5l18-27M525.5 626.5l14-1M664.5 627.5l-17-2M664.5 627.5l-33-4M501.5 628.5l11-30M501.5 628.5l6-19M530.5 631.5l9-17M637.5 632.5l-13-19M665.5 631.5l-24-4M717.5 631.5l-15-20M717.5 631.5l-14-27M546.5 634.5l19-21M622.5 635.5l8-26M554.5 639.5l15-17M554.5 639.5l28-19M620.5 639.5l-11-22M644.5 637.5l-14-22M644.5 637.5l-14-22M671.5 637.5l-2-30M671.5 637.5l-9-20M508.5 643.5l19-28M508.5 643.5l17-17M602.5 643.5l-2-14M602.5 643.5l4-23M607.5 641.5l1-10M617.5 640.5l-9-8M636.5 643.5l-6-18M636.5 643.5l-23-15M666.5 643.5l-16-15M666.5 643.5l-29-11M555.5 646.5l27-16M555.5 646.5l3-33M603.5 645.5l-5-17M621.5 646.5l6-32M674.5 650.5l-10-23M674.5 650.5l0-24M555.5 653.5l11-17M555.5 653.5l21-11M574.5 654.5l-4-26M574.5 654.5l12-25M595.5 654.5l-18-24M595.5 654.5l8-29M648.5 653.5l-13-22M648.5 653.5l-4-16M537.5 664.5l21-10M537.5 664.5l7-32M577.5 664.5l-9-30M577.5 664.5l-11-28M610.5 663.5l-2-31M610.5 663.5l17-27M573.5 668.5l14-26M573.5 668.5l14-26M626.5 668.5l4-35M626.5 668.5l1-32M589.5 364.5l-6 35M583.5 399.5l0 26M583.5 425.5l12 33M583.5 450.5l-3 15M580.5 465.5l7 38M583.5 450.5l20 32M552.5 466.5l8 4M549.5 456.5l18 16M536.5 474.5l14 21M550.5 474.5l6 33M559.5 479.5l0 31M572.5 483.5l10 28M430.5 480.5l22 13M443.5 486.5l35 8M452.5 493.5l21 19M481.5 511.5l6 7M487.5 518.5l27 26M480.5 486.5l15 11M496.5 492.5l21 13M482.5 503.5l14 24M517.5 505.5l22 29M561.5 493.5l19 11M505.5 518.5l19-1M678.5 360.5l-11 17M636.5 408.5l-5 25M634.5 413.5l-4 37M611.5 431.5l4 37M635.5 425.5l-5 25M631.5 433.5l-3 8M638.5 435.5l-8 15M638.5 438.5l10 32M595.5 458.5l8 34M654.5 459.5l-22 26M648.5 470.5l-19 19M658.5 482.5l-29 24M667.5 475.5l-4 30M617.5 474.5l9 30M608.5 475.5l10 34M737.5 493.5l-9 9M733.5 493.5l-5 9M454.5 542.5l39-3M480.5 537.5l17-1M486.5 533.5l28 22M460.5 564.5l32-12M462.5 563.5l18 0M450.5 575.5l35 8M450.5 600.5l37-13M472.5 595.5l20 3M505.5 587.5l27-3M425.5 620.5l15-9M450.5 603.5l35-13M496.5 601.5l38-6M458.5 634.5l29-11M487.5 652.5l27-22M497.5 644.5l25-19M514.5 630.5l37-7M522.5 625.5l5-15M536.5 648.5l11-26M536.5 648.5l28-27M540.5 675.5l-4-27M558.5 654.5l14-20M553.5 683.5l6-24M586.5 649.5l18-26M559.5 659.5l16-32M745.5 552.5l-23-7M739.5 578.5l-34 14M723.5 569.5l-14-6M733.5 590.5l-24 2M732.5 618.5l-27-26M732.5 612.5l-23-20M688.5 639.5l-38-11M664.5 683.5l-22-9M642.5 666.5l-32-21M642.5 674.5l-31-23M658.5 658.5l0-26M639.5 658.5l0-34M611.5 651.5l-23-31M570.5 467.5l2 16M583.5 450.5l-1 28M580.5 465.5l2 13M567.5 472.5l3 26M551.5 462.5l21 21M547.5 486.5l18 18M572.5 483.5l15 20M577.5 469.5l15 23M505.5 496.5l24 3M479.5 520.5l21 5M496.5 497.5l13 12M517.5 505.5l11 14M536.5 490.5l23 19M561.5 493.5l19 21M496.5 527.5l12-1M597.5 442.5l-17 23M611.5 431.5l4 17M595.5 458.5l-4 25M618.5 472.5l4 27M617.5 475.5l5 24M617.5 474.5l8 28M603.5 482.5l9 28M712.5 527.5l-16-2M464.5 535.5l13-4M486.5 533.5l26 6M478.5 566.5l12 2M490.5 575.5l27 0M473.5 575.5l15-5M505.5 587.5l12-4M450.5 603.5l8-5M518.5 605.5l10 2M498.5 618.5l20-13M475.5 632.5l13-19M522.5 625.5l25 1M514.5 630.5l30 2M536.5 648.5l15-25M548.5 692.5l5-27M559.5 659.5l8-28M758.5 548.5l-20-4M739.5 544.5l-26 12M745.5 552.5l-23-7M723.5 569.5l-15 3M702.5 611.5l-24-12M695.5 628.5l-13-20M692.5 633.5l-18-22M688.5 639.5l-11-22M678.5 634.5l-17-12M688.5 656.5l-14-6M617.5 638.5l-23-18M611.5 651.5l-15-22M588.5 371.5l-1 9M587.5 380.5l-2 8M584.5 402.5l-1 23M583.5 425.5l0 25M583.5 450.5l-3 15M580.5 465.5l-10 2M597.5 442.5l-7 5M590.5 447.5l-7 3M592.5 458.5l-12 7M531.5 436.5l6 9M534.5 450.5l8 5M540.5 460.5l12 6M552.5 466.5l8 4M514.5 450.5l14 20M528.5 470.5l8 4M538.5 478.5l7 4M550.5 474.5l9 5M559.5 479.5l13 4M577.5 469.5l5 9M588.5 481.5l-8-16M430.5 480.5l6 8M446.5 490.5l6 3M452.5 493.5l18 1M470.5 494.5l8 0M478.5 494.5l17 3M495.5 497.5l10-1M452.5 493.5l21 19M481.5 511.5l6 7M480.5 486.5l9-2M489.5 484.5l7 8M470.5 501.5l12 2M482.5 503.5l13 2M495.5 505.5l15-2M520.5 492.5l7-10M542.5 492.5l8 3M514.5 518.5l9-3M490.5 524.5l9-2M678.5 360.5l-5 12M670.5 369.5l-3 8M667.5 377.5l-9 11M658.5 388.5l-8 5M647.5 399.5l-11 9M634.5 413.5l-12 10M622.5 423.5l-11 8M611.5 431.5l-14 11M611.5 420.5l0 11M650.5 421.5l-8 6M635.5 425.5l-4 8M635.5 442.5l-7-1M628.5 441.5l-13 7M615.5 448.5l-20 10M642.5 432.5l-12 18M630.5 450.5l-12 22M672.5 471.5l-7-3M667.5 475.5l-17 11M638.5 470.5l-15 7M608.5 475.5l-5 7M745.5 493.5l-8 0M733.5 493.5l-11 1M722.5 494.5l-30 4M691.5 490.5l-9 7M704.5 500.5l-10 8M688.5 510.5l-8 2M727.5 520.5l-15 7M423.5 543.5l9 1M432.5 544.5l22-2M454.5 542.5l26-5M480.5 537.5l-16-2M478.5 547.5l8-14M451.5 563.5l9 1M462.5 563.5l10 1M435.5 579.5l8-1M443.5 578.5l7-3M450.5 575.5l10 2M479.5 575.5l11 0M438.5 589.5l18-4M456.5 585.5l17-10M450.5 600.5l8-2M462.5 593.5l10 2M472.5 595.5l8-3M486.5 585.5l7-3M493.5 582.5l12 5M414.5 626.5l11-6M425.5 620.5l15-9M440.5 611.5l10-8M458.5 613.5l16-7M474.5 606.5l31-16M496.5 601.5l11 1M505.5 612.5l13-7M478.5 633.5l5-8M487.5 623.5l11-5M471.5 639.5l4-7M487.5 652.5l10-8M497.5 644.5l6-5M503.5 639.5l5-6M514.5 630.5l8-5M514.5 630.5l22 18M536.5 648.5l12 9M527.5 651.5l-4 8M523.5 659.5l7 3M533.5 663.5l3-15M531.5 688.5l4-8M540.5 675.5l13-10M553.5 665.5l5-11M558.5 654.5l14-12M533.5 701.5l7-8M547.5 692.5l6-9M553.5 683.5l4-10M557.5 673.5l15-28M542.5 700.5l6-8M566.5 679.5l5-16M572.5 658.5l1-13M586.5 662.5l0-13M586.5 649.5l1-7M550.5 668.5l9-9M780.5 541.5l-24 5M756.5 546.5l-8 0M748.5 546.5l-7 4M786.5 555.5l-21-1M765.5 554.5l-20-2M745.5 552.5l-7-8M762.5 569.5l-7 0M751.5 565.5l-6-13M763.5 573.5l-15 2M748.5 575.5l-9 3M739.5 578.5l-16-4M723.5 574.5l-11-5M712.5 569.5l-10 1M742.5 568.5l-10 1M732.5 569.5l-9 0M744.5 593.5l-10 3M733.5 590.5l-13-5M720.5 585.5l-13-5M746.5 615.5l-14 3M732.5 612.5l-13 5M719.5 617.5l-9-2M710.5 615.5l-2-7M708.5 608.5l-6 3M745.5 628.5l-12 2M733.5 630.5l-25-3M708.5 627.5l-13 1M715.5 653.5l-10-8M705.5 645.5l-13-12M700.5 653.5l-12-14M678.5 634.5l0 20M691.5 662.5l3 8M694.5 670.5l4 6M698.5 676.5l4 11M664.5 683.5l-9-13M655.5 670.5l-5-12M647.5 657.5l-5 9M642.5 666.5l0 8M642.5 674.5l4 10M646.5 684.5l-12-5M634.5 679.5l-3-13M631.5 666.5l-7-14M658.5 658.5l-4-9M652.5 643.5l-9 1M643.5 644.5l-8 9M639.5 658.5l-4-19M605.5 658.5l-2-10M603.5 648.5l7-3M667.5 640.5l-6-8" class="e"/>
<path class="no" d="M604.5 633.5h0"/>
<path class="nb" d="M537.5 622.5h0"/>
<path class="no" d="M613.5 632.5h0"/>
<path class="nb" d="M507.5 566.5h0"/>
<path class="no" d="M634.5 413.5l-48 101 81-39-30 47 7 90-147-85-28 41 100 39-62-75 75 44-84 12"/>
<path class="nb" d="M506.5 552.5h0"/>
<path class="no" d="M660.5 521.5h0"/>
<path class="nb" d="M478.5 547.5h0"/>
<path class="no" d="M540.5 460.5l85 42 31 36-233 5 31-1"/>
<path class="ng" d="M739.5 544.5h0"/>
<path class="no" d="M632.5 485.5l73 128"/>
<path class="ng" d="M542.5 492.5h0"/>
<path class="no" d="M672.5 471.5l-71 135 109 9-102-75 48 4-120-54-22 77 186 12-60-13-10 49 75-92-170 34 161 32-172 3-10-142 102 120-90-4 114-38-26 19 82-18"/>
<path class="nb" d="M533.5 663.5h0"/>
<path class="no" d="M692.5 586.5l56-40-84 67 39-9-49 1"/>
<path class="ng" d="M538.5 497.5h0"/>
<path class="no" d="M458.5 634.5l246-100"/>
<path class="nb" d="M548.5 657.5h0"/>
<path class="no" d="M531.5 588.5l91-6 5-84 8 53"/>
<path class="ng" d="M654.5 513.5h0"/>
<path class="no" d="M559.5 581.5l61-94"/>
<path class="nb" d="M714.5 582.5h0"/>
<path class="no" d="M644.5 637.5l-34-117"/>
<path class="nb" d="M602.5 541.5h0"/>
<path class="no" d="M590.5 447.5h0"/>
<path class="nb" d="M717.5 546.5h0"/>
<path class="no" d="M647.5 598.5l-139-72 169-54-40 127-104 18"/>
<path class="ng" d="M680.5 576.5h0"/>
<path class="no" d="M588.5 530.5l-35 52 123-67-127 104-1-19"/>
<path class="nb" d="M591.5 526.5h0"/>
<path class="no" d="M618.5 555.5l46-32-192 108 188-136 29 118-173-94"/>
<path class="nb" d="M487.5 652.5h0"/>
<path class="no" d="M674.5 465.5h0"/>
<path class="nb" d="M546.5 605.5l164-75-181-33 59 79"/>
<path class="no" d="M651.5 509.5l-127 8-1 76 69-101 31 110-56 29 68 22 66-66-196 0-10-82 159 44 65 68"/>
<path class="nb" d="M527.5 610.5h0"/>
<path class="no" d="M641.5 609.5l98-31-130 49 49-100-52-6 4 124 37-131 4 109-69-95"/>
<path class="ng" d="M651.5 611.5h0"/>
<path class="no" d="M707.5 580.5h0"/>
<path class="ng" d="M524.5 615.5h0"/>
<path class="no" d="M661.5 632.5h0"/>
<path class="ng" d="M543.5 599.5h0"/>
<path class="no" d="M613.5 542.5l167-1"/>
<path class="nb" d="M648.5 470.5h0"/>
<path class="no" d="M470.5 588.5h0"/>
<path class="ng" d="M513.5 542.5h0"/>
<path class="no" d="M669.5 599.5l-45-112-119 91 90 15 18 26-89-25 93 46"/>
<path class="nb" d="M639.5 500.5h0"/>
<path class="no" d="M604.5 525.5l29 75 17 28-63-78"/>
<path class="ng" d="M661.5 574.5l-165-47"/>
<path class="no" d="M655.5 563.5l45-12"/>
<path class="nb" d="M508.5 512.5h0"/>
<path class="no" d="M651.5 582.5l-139-3 136 74 48-77-51 40"/>
<path class="nb" d="M655.5 670.5h0"/>
<path class="no" d="M575.5 577.5l-48-95"/>
<path class="nb" d="M630.5 450.5h0"/>
<path class="no" d="M577.5 550.5h0"/>
<path class="nb" d="M518.5 576.5h0"/>
<path class="no" d="M610.5 516.5h0"/>
<path class="ng" d="M597.5 522.5h0"/>
<path class="no" d="M601.5 534.5l-42 4 116 26"/>
<path class="ng" d="M570.5 537.5h0"/>
<path class="no" d="M678.5 528.5l-143 51 134 1-59-78-59 99 71-44 15-11 109 69-104-68-124 4 156 39-123-40 104 48-35-85-120 62 208 52-149 1 4-19-6 0 46 36 23-105-57 15 76-55-65 48 47 88"/>
<path class="nb" d="M668.5 616.5h0"/>
<path class="no" d="M683.5 596.5l-128 57"/>
<path class="nb" d="M481.5 502.5l103-100"/>
<path class="no" d="M645.5 510.5l-20 85 1-91"/>
<path class="ng" d="M530.5 662.5h0"/>
<path class="no" d="M522.5 499.5l110-11-99 28-55-22"/>
<path class="ng" d="M639.5 595.5h0"/>
<path class="no" d="M661.5 603.5l44 42-26-70-109 26-63-14 22-57 3 69 53-205-12 274-138-89 202-34-16 21-130-60 164 18 1 89"/>
<path class="nb" d="M482.5 503.5h0"/>
<path class="ng" d="M636.5 408.5h0"/>
<path class="no" d="M621.5 518.5l-80 86-13-20 59-76-34 55 76-36"/>
<path class="nb" d="M531.5 578.5h0"/>
<path class="no" d="M486.5 585.5l179 34 29-88-14 12-36-1 20 141 19-176 40 9-44 29-199-8 170-39-188 65 143-29-54 10 146-23"/>
<path class="nb" d="M486.5 533.5h0"/>
<path class="no" d="M600.5 572.5l70-62-61 99 36-110-48 79-108-58"/>
<path class="nb" d="M496.5 601.5l93 21-41-12"/>
<path class="no" d="M624.5 579.5h0"/>
<path class="ng" d="M674.5 582.5h0"/>
<path class="no" d="M598.5 518.5l16 69 32-36 54 23-160 6"/>
<path class="nb" d="M505.5 612.5h0"/>
<path class="no" d="M702.5 530.5l-99 64"/>
<path class="nb" d="M571.5 583.5h0"/>
<path class="no" d="M701.5 538.5l-40 84"/>
<path class="nb" d="M635.5 425.5h0"/>
<path class="no" d="M616.5 615.5l13-36 17-14-4 35-48-105 35 11 42 14"/>
<path class="nb" d="M758.5 548.5h0"/>
<path class="no" d="M579.5 609.5h0"/>
<path class="ng" d="M598.5 507.5h0"/>
<path class="no" d="M613.5 554.5l-30-6 103-49-131 120 58-28-46 48"/>
<path class="nb" d="M569.5 513.5h0"/>
<path class="no" d="M571.5 576.5h0"/>
<path class="nb" d="M728.5 502.5h0"/>
<path class="no" d="M676.5 578.5l-125 30"/>
<path class="nb" d="M508.5 522.5h0"/>
<path class="no" d="M593.5 585.5l34-90-64 43-55 22 109 45 22 24-119-15"/>
<path class="nb" d="M496.5 603.5h0"/>
<path class="no" d="M669.5 526.5l-62-44"/>
<path class="nb" d="M568.5 545.5h0"/>
<path class="no" d="M624.5 544.5l-27 32 69-36-75-35-59 79-12 14 150-58-85 14 96-4-150-114 64 67-60 23 96 70 20-33-84 37 63-79-39 37-48 49-38-112 197 28"/>
<path class="ng" d="M685.5 527.5h0"/>
<path class="no" d="M519.5 565.5l108 57 29 4-124-58 83-100 1 53-5-34 67 120-77-97 69-10-82 86"/>
<path class="nb" d="M604.5 623.5h0"/>
<path class="no" d="M604.5 526.5l-148 59 196-93 14 24-26-19-85 149 92-247-20 125 35 115-108-70 18 89 107-45-33-25 21-23-59 22 36-93 68 75"/>
<path class="ng" d="M674.5 595.5l-23-55"/>
<path class="nb" d="M635.5 442.5h0"/>
<path class="no" d="M692.5 537.5l-40 5-18 17-83 64"/>
<path class="nb" d="M518.5 583.5l70-102-77 18"/>
<path class="no" d="M680.5 507.5l-30 36"/>
<path class="nb" d="M474.5 530.5h0"/>
<path class="no" d="M606.5 542.5l-116 26"/>
<path class="ng" d="M587.5 503.5h0"/>
<path class="nb" d="M665.5 468.5h0"/>
<path class="no" d="M517.5 619.5l117-54-3-39-20 71 9-25-71-116 31 48 83 22 10 20 71 47-132-13-23-11-62 35"/>
<path class="nb" d="M542.5 658.5l-19-60"/>
<path class="ng" d="M537.5 664.5h0"/>
<path class="no" d="M620.5 599.5l45-117-143 143 77 6-64-97 22 67"/>
<path class="nb" d="M694.5 596.5h0"/>
<path class="ng" d="M512.5 553.5h0"/>
<path class="nb" d="M507.5 609.5h0"/>
<path class="no" d="M705.5 594.5l-82 30-92-34 77 42"/>
<path class="nb" d="M633.5 508.5h0"/>
<path class="no" d="M558.5 573.5l123-5"/>
<path class="ng" d="M586.5 603.5h0"/>
<path class="no" d="M450.5 575.5l167 63-86-96 214-49-111-33-91 79-12-20 166 31"/>
<path class="nb" d="M609.5 612.5h0"/>
<path class="no" d="M648.5 520.5l-88 77-57 12 34-69-29 57 129-71-114 133 58-59"/>
<path class="ng" d="M547.5 628.5h0"/>
<path class="no" d="M637.5 507.5l-110 38 218 83-97-16 16-116-168-4 165 86-76 47 96-35-76-27 20-10 63 103-29-55-108 20 127-145-62 41"/>
<path class="nb" d="M555.5 548.5h0"/>
<path class="no" d="M645.5 628.5l15-130-33 19 71 159-84-170 25 118-88-39 117-2-133-72 111 43-75 12 81 77 29-69-25 17-196-27 88-34 153 22-120-20 16 50"/>
<path class="nb" d="M468.5 630.5h0"/>
<path class="no" d="M490.5 553.5l76 14 119 3-89-62-104-1 99 109"/>
<path class="ng" d="M588.5 522.5h0"/>
<path class="no" d="M613.5 574.5l-101-35-54 74 119 17"/>
<path class="nb" d="M538.5 478.5h0"/>
<path class="no" d="M618.5 547.5l58-54-40 67-13 28"/>
<path class="nb" d="M717.5 631.5h0"/>
<path class="no" d="M472.5 564.5l194 40-173 5-61-65"/>
<path class="nb" d="M778.5 570.5h0"/>
<path class="no" d="M600.5 552.5l7-33-1 56"/>
<path class="ng" d="M592.5 573.5h0"/>
<path class="no" d="M630.5 555.5h0"/>
<path class="nb" d="M518.5 546.5h0"/>
<path class="no" d="M630.5 625.5l-73-133 136 72-75 43"/>
<path class="nb" d="M582.5 559.5h0"/>
<path class="no" d="M572.5 593.5l-67-75 136 31 30 88-225-147 167 120-40-23"/>
<path class="ng" d="M512.5 525.5h0"/>
<path class="no" d="M701.5 558.5l-190 34 100 39"/>
<path class="nb" d="M763.5 573.5h0"/>
<path class="no" d="M581.5 524.5l61 55 96 10"/>
<path class="nb" d="M626.5 668.5l2-227"/>
<path class="no" d="M691.5 600.5l-218-88 204-12 55 69-174 85 33-23 65-104-8 23-95 66 0-119 76 62-59 56 135-85-144 23-10-18 148 35-59 25 44-5-81-98 32-4"/>
<path class="nb" d="M673.5 569.5h0"/>
<path class="no" d="M606.5 589.5l-77-90-89 100 161-17-34-63"/>
<path class="ng" d="M572.5 534.5h0"/>
<path class="no" d="M540.5 554.5l84-31-76 20"/>
<path class="ng" d="M681.5 571.5h0"/>
<path class="no" d="M684.5 555.5l-105-22-20 97 142-134 8 67-116-14-101 49 121-61-118-40 96 102 100-68"/>
<path class="nb" d="M487.5 527.5h0"/>
<path class="no" d="M501.5 580.5l90-47 40 90 9-81"/>
<path class="ng" d="M591.5 582.5h0"/>
<path class="no" d="M619.5 628.5h0"/>
<path class="nb" d="M596.5 530.5h0"/>
<path class="no" d="M558.5 558.5l7-35 95 70-10 44 3-130-29-13-77 198 177-90"/>
<path class="nb" d="M519.5 547.5l21 32"/>
<path class="no" d="M548.5 523.5l153-3-52 51 40-12-54 22-96-46 159 18"/>
<path class="nb" d="M659.5 478.5h0"/>
<path class="no" d="M686.5 582.5l-139 40 43-63-97-20"/>
<path class="nb" d="M553.5 665.5h0"/>
<path class="no" d="M657.5 569.5l32 10-127-21-26 34 115-87 26 19"/>
<path class="nb" d="M571.5 520.5h0"/>
<path class="no" d="M595.5 599.5l-3-10 9 29-67-59"/>
<path class="nb" d="M682.5 504.5h0"/>
<path class="no" d="M714.5 590.5h0"/>
<path class="nb" d="M610.5 547.5h0"/>
<path class="no" d="M659.5 561.5l-70-197"/>
<path class="nb" d="M646.5 684.5h0"/>
<path class="no" d="M618.5 621.5h0"/>
<path class="nb" d="M672.5 600.5h0"/>
<path class="no" d="M589.5 606.5l62-84-79 120"/>
<path class="nb" d="M642.5 674.5h0"/>
<path class="no" d="M541.5 625.5l45-85 97 8-151 3 98-53 43 40-177 19 83-4-58 27 98-79-84 96 58-2 8-36-32 73-29-87 147-15-148 77 33 27"/>
<path class="nb" d="M530.5 618.5l127-36"/>
<path class="no" d="M550.5 495.5l91 132-61-162 106 101"/>
<path class="nb" d="M680.5 484.5h0"/>
<path class="ng" d="M661.5 473.5h0"/>
<path class="no" d="M594.5 546.5h0"/>
<path class="ng" d="M720.5 585.5h0"/>
<path class="no" d="M563.5 560.5l46-32"/>
<path class="nb" d="M575.5 495.5h0"/>
<path class="no" d="M677.5 559.5l-252 61 53-54"/>
<path class="nb" d="M570.5 548.5h0"/>
<path class="no" d="M652.5 547.5l-117 133 34-99"/>
<path class="nb" d="M477.5 564.5h0"/>
<path class="no" d="M645.5 560.5l-24-17"/>
<path class="nb" d="M765.5 554.5h0"/>
<path class="no" d="M537.5 531.5l66-12-28 16 79 114"/>
<path class="ng" d="M490.5 594.5l25-70"/>
<path class="no" d="M670.5 586.5l-131 3 9 24 82 20-25-50 28-66-40 9 78 9-32 64-22 0-105-1 17-17"/>
<path class="ng" d="M558.5 594.5l57 39"/>
<path class="no" d="M526.5 505.5h0"/>
<path class="nb" d="M582.5 627.5h0"/>
<path class="no" d="M464.5 535.5l61 24 115 23 28 11-130-73-54 30-5-30 58-17-56 8 167 121-41-51-71 27 9-17-32 1"/>
<path class="ng" d="M498.5 485.5h0"/>
<path class="no" d="M585.5 583.5l50 46-30-77-22 55 11-43-51 1 30-6 3 50-41-45 145 23-152 13 151-18-169-90 71 114 30-54-56-17-6 38 188-80-44 96-119-76 34 32 61 8-132-17-32 54"/>
<path class="nb" d="M643.5 513.5h0"/>
<path class="no" d="M599.5 603.5l78-17-33-80-45 21-51 165"/>
<path class="nb" d="M642.5 432.5h0"/>
<path class="no" d="M609.5 555.5l7-6-43 69"/>
<path class="nb" d="M495.5 550.5h0"/>
<path class="no" d="M723.5 569.5l-73-176"/>
<path class="nb" d="M535.5 629.5h0"/>
<path class="no" d="M632.5 517.5l-95 105 120-28-70 48 70-97-73-5 19 15-17-43"/>
<path class="nb" d="M573.5 637.5h0"/>
<path class="no" d="M458.5 598.5l297-29-201 41-45-101 131 5"/>
<path class="nb" d="M542.5 519.5h0"/>
<path class="no" d="M665.5 571.5h0"/>
<path class="nb" d="M665.5 546.5h0"/>
<path class="no" d="M635.5 539.5l-39-29-145 53 156 34 47-100 9 85-121 17-24-5 10 2"/>
<path class="nb" d="M488.5 570.5h0"/>
<path class="no" d="M776.5 542.5l-215 23 16 52"/>
<path class="nb" d="M492.5 552.5h0"/>
<path class="no" d="M508.5 633.5l144-114 6 1-59 80 82-92-13 110"/>
<path class="ng" d="M561.5 569.5h0"/>
<path class="no" d="M485.5 579.5l127-56-60-5-4 1 54-43-37 76 37 91-94-90 35 32 63-26-27-3-141 33 219-13"/>
<path class="nb" d="M499.5 522.5h0"/>
<path class="no" d="M572.5 551.5l116-11-94-37 29 3-28-48"/>
<path class="ng" d="M624.5 613.5h0"/>
<path class="no" d="M535.5 544.5h0"/>
<path class="ng" d="M496.5 613.5h0"/>
<path class="no" d="M618.5 494.5l-42 109 42-27-130 37 109-171-88 143"/>
<path class="nb" d="M618.5 505.5h0"/>
<path class="no" d="M630.5 541.5l-3 43"/>
<path class="nb" d="M512.5 504.5h0"/>
<path class="no" d="M536.5 474.5l146 127-87-18 4 7"/>
<path class="ng" d="M633.5 583.5h0"/>
<path class="no" d="M534.5 540.5h0"/>
<path class="ng" d="M647.5 625.5h0"/>
<path class="no" d="M554.5 570.5l141-4-18 30-86-113 59 44"/>
<path class="nb" d="M621.5 527.5h0"/>
<path class="no" d="M611.5 558.5l72-45"/>
<path class="nb" d="M591.5 590.5h0"/>
<path class="no" d="M544.5 558.5l198 10-233 19 65-13-76-49 78 110-58-30"/>
<path class="nb" d="M590.5 603.5h0"/>
<path class="no" d="M699.5 604.5l-108-59 108 46-38-55-82 7 18 67-69-46"/>
<path class="nb" d="M606.5 516.5h0"/>
<path class="no" d="M649.5 604.5l-29-27 23-45"/>
<path class="ng" d="M560.5 470.5h0"/>
<path class="no" d="M489.5 499.5l92 134-85-136 123 115"/>
<path class="nb" d="M585.5 621.5h0"/>
<path class="no" d="M636.5 567.5l-33 43"/>
<path class="nb" d="M643.5 486.5l-106-41"/>
<path class="no" d="M705.5 518.5l-102 53 56-20"/>
<path class="ng" d="M544.5 594.5h0"/>
<path class="no" d="M463.5 631.5l174 1-129-76"/>
<path class="ng" d="M497.5 607.5l112-27"/>
<path class="no" d="M682.5 497.5l26 75-110-26 37 93-62-123 129 95-37-32-62-76 86 71-46 43 70-61-90 0-76 3-64 66 38-97 106 73-53-29-7-48-18 59-12 37 14-79"/>
<path class="nb" d="M642.5 427.5h0"/>
<path class="no" d="M589.5 593.5l144-100"/>
<path class="nb" d="M638.5 572.5h0"/>
<path class="no" d="M591.5 586.5h0"/>
<path class="nb" d="M564.5 586.5h0"/>
<path class="no" d="M556.5 561.5l25-10-106 15"/>
<path class="ng" d="M497.5 536.5h0"/>
<path class="no" d="M675.5 507.5l-4 63-7-29"/>
<path class="nb" d="M487.5 623.5h0"/>
<path class="no" d="M661.5 609.5h0"/>
<path class="nb" d="M574.5 571.5h0"/>
<path class="no" d="M436.5 488.5h0"/>
<path class="nb" d="M748.5 575.5h0"/>
<path class="no" d="M652.5 619.5l-27-20-57-15"/>
<path class="nb" d="M554.5 553.5h0"/>
<path class="ng" d="M666.5 643.5h0"/>
<path class="no" d="M614.5 533.5l-83 28"/>
<path class="nb" d="M582.5 478.5h0"/>
<path class="no" d="M562.5 594.5h0"/>
<path class="nb" d="M677.5 616.5h0"/>
<path class="no" d="M532.5 536.5l145 7-17 41-45 70 85-92-44 62-6-69-172-55 85 116 141-58-129 41 105-14-97-160"/>
<path class="ng" d="M514.5 630.5l22 18"/>
<path class="no" d="M617.5 542.5l13 70-99-125"/>
<path class="nb" d="M491.5 609.5h0"/>
<path class="no" d="M537.5 505.5l10 65 59-62 17 37 17 56"/>
<path class="nb" d="M581.5 537.5h0"/>
<path class="no" d="M480.5 592.5l97-79 110 32"/>
<path class="ng" d="M526.5 535.5h0"/>
<path class="no" d="M673.5 542.5l11 21-50-48-35 71-55 28 151-60-124 109 59-150-8 47 66-47-66-14-95 116 18-89"/>
<path class="ng" d="M589.5 557.5h0"/>
<path class="nb" d="M603.5 636.5h0"/>
<path class="no" d="M585.5 617.5l-29-68 87 43-12-1-129-1 65-118 38 28 29 179"/>
<path class="nb" d="M498.5 614.5h0"/>
<path class="no" d="M696.5 525.5l-156 31 152 77-71-138-65 21 10 12-42 21 71 105 25-15 27-132"/>
<path class="ng" d="M492.5 490.5h0"/>
<path class="no" d="M543.5 621.5l-3-52"/>
<path class="ng" d="M582.5 574.5h0"/>
<path class="no" d="M605.5 556.5l-29 86 31-64-49-12 27-9"/>
<path class="nb" d="M700.5 508.5h0"/>
<path class="no" d="M639.5 518.5h0"/>
<path class="nb" d="M524.5 562.5h0"/>
<path class="no" d="M685.5 519.5l-72 109-47-18 11-92-17 3 134-13-47 67-2-41-24 15 26 69-6 3"/>
<path class="ng" d="M575.5 556.5h0"/>
<path class="no" d="M635.5 511.5h0"/>
<path class="ng" d="M547.5 579.5h0"/>
<path class="no" d="M520.5 537.5l163-20"/>
<path class="nb" d="M705.5 592.5l-36-20"/>
<path class="no" d="M657.5 504.5l-32 31-97 40 83 76-94-72-45 15 53-57 84-24 34 109-143-97 121 121-101-154 108-1 71 43-56 36-132 31 28 13"/>
<path class="ng" d="M546.5 553.5h0"/>
<path class="no" d="M549.5 615.5l85-1-12-5 1-81 4 4 66 38-45-37-141-35"/>
<path class="nb" d="M572.5 506.5h0"/>
<path class="no" d="M479.5 544.5l175 77-144-77 46-37 102 47-84 75 91-45 1 10-13-18-49-1"/>
<path class="ng" d="M672.5 533.5h0"/>
<path class="no" d="M471.5 639.5l108-38 42 15-2-10-88 99 27-153 14 25"/>
<path class="ng" d="M542.5 455.5h0"/>
<path class="no" d="M505.5 598.5l9-43 99-39 65 133"/>
<path class="nb" d="M661.5 516.5l-111-42"/>
<path class="no" d="M631.5 666.5h0"/>
<path class="nb" d="M652.5 464.5h0"/>
<path class="no" d="M698.5 559.5l-160 26 53-71 94 73-126-77 111 55 5-13-5-9-19 14-36 10"/>
<path class="ng" d="M687.5 543.5h0"/>
<path class="no" d="M645.5 583.5l-60-80 21 36"/>
<path class="nb" d="M490.5 524.5l31 7"/>
<path class="no" d="M547.5 589.5h0"/>
<path class="ng" d="M695.5 575.5h0"/>
<path class="no" d="M682.5 581.5l-134-14 75-90-57 202-15-52 64-67 46 60 28-73-33-39"/>
<path class="nb" d="M685.5 543.5h0"/>
<path class="no" d="M643.5 644.5h0"/>
<path class="ng" d="M652.5 535.5h0"/>
<path class="no" d="M523.5 492.5l-93-12 292 14-147 87-89 10 122-54-62 97"/>
<path class="nb" d="M571.5 598.5h0"/>
<path class="no" d="M590.5 539.5l55 83"/>
<path class="ng" d="M552.5 579.5h0"/>
<path class="no" d="M665.5 631.5l9 19-115 9"/>
<path class="nb" d="M527.5 651.5h0"/>
<path class="no" d="M647.5 594.5l-17 15"/>
<path class="nb" d="M591.5 490.5h0"/>
<path class="no" d="M417.5 543.5l117 40"/>
<path class="ng" d="M491.5 540.5l6 104"/>
<path class="no" d="M710.5 578.5l-48 39"/>
<path class="ng" d="M540.5 574.5h0"/>
<path class="no" d="M552.5 612.5l95-44 30-19-43 6-121-69 114 142 111-84-114-36-123 5"/>
<path class="nb" d="M640.5 522.5l-162-12 64 63"/>
<path class="no" d="M695.5 628.5l-65-85-45-6-57-67 142 60-12-142 33 102-126 153 120-92-143 31-13 10 62 14-63 1-11-24"/>
<path class="nb" d="M480.5 563.5h0"/>
<path class="no" d="M639.5 540.5h0"/>
<path class="nb" d="M582.5 630.5l52-124"/>
<path class="no" d="M656.5 530.5l-128 20 64 11"/>
<path class="nb" d="M674.5 575.5h0"/>
<path class="no" d="M530.5 529.5h0"/>
<path class="ng" d="M688.5 510.5h0"/>
<path class="nb" d="M635.5 545.5h0"/>
<path class="no" d="M677.5 617.5l-134-87-55 29 208 12-120 41 13 16 81-259-16 198-62 45"/>
<path class="nb" d="M658.5 482.5h0"/>
<path class="no" d="M611.5 420.5h0"/>
<path class="ng" d="M679.5 497.5h0"/>
<path class="no" d="M602.5 611.5l-90-52 11 0-51 36 158-6"/>
<path class="ng" d="M637.5 503.5h0"/>
<path class="no" d="M529.5 537.5l44 108-22-183 115 119"/>
<path class="nb" d="M722.5 545.5l-117 113"/>
<path class="no" d="M661.5 519.5l10 77-56-39 62 74-89-113 71-35-105 156 96-32 16-40-181 3 25-67 74 4 48 30-24 94"/>
<path class="nb" d="M491.5 534.5h0"/>
<path class="no" d="M602.5 544.5l-4 28-120 11"/>
<path class="nb" d="M663.5 507.5h0"/>
<path class="no" d="M702.5 570.5h0"/>
<path class="ng" d="M666.5 604.5h0"/>
<path class="no" d="M513.5 573.5l165-4-24-52-14 70-109 17 111-14-135-12 128-24-38-38"/>
<path class="nb" d="M655.5 609.5h0"/>
<path class="no" d="M628.5 502.5h0"/>
<path class="nb" d="M786.5 555.5h0"/>
<path class="no" d="M635.5 624.5h0"/>
<path class="nb" d="M657.5 468.5h0"/>
<path class="no" d="M713.5 576.5l-41-54-164 58 128 63 26-98-114 16"/>
<path class="nb" d="M636.5 618.5h0"/>
<path class="no" d="M697.5 586.5l-84 9-48 19-15-32 33 3-53-27-20 12 162-78"/>
<path class="nb" d="M768.5 570.5h0"/>
<path class="no" d="M499.5 527.5l138 9-34-2 41-58-119 101 130-18-53 17 88-47"/>
<path class="nb" d="M626.5 633.5h0"/>
<path class="no" d="M647.5 565.5l-74-35 64 62"/>
<path class="ng" d="M578.5 559.5h0"/>
<path class="no" d="M658.5 486.5l-10 7"/>
<path class="nb" d="M730.5 582.5h0"/>
<path class="no" d="M556.5 586.5l-37-29 6 69-5-128 157 12-108 51 102 54-116-54 120 48-149-26 113 75-17-32 13-97-165-28-5 73 162-56 22 68"/>
<path class="nb" d="M591.5 637.5h0"/>
<path class="no" d="M653.5 601.5l-128-11 96 38-3-47-53-1"/>
<path class="nb" d="M653.5 551.5h0"/>
<path class="no" d="M756.5 546.5h0"/>
<path class="nb" d="M662.5 491.5l-96 145"/>
<path class="no" d="M622.5 423.5l-36 239"/>
<path class="nb" d="M618.5 508.5h0"/>
<path class="no" d="M547.5 626.5l18-85 96-39-120 90 32-39 8 68"/>
<path class="nb" d="M631.5 433.5h0"/>
<path class="no" d="M698.5 610.5l-1-52-55 108"/>
<path class="nb" d="M631.5 496.5h0"/>
<path class="no" d="M608.5 548.5l74 60"/>
<path class="nb" d="M526.5 570.5h0"/>
<path class="no" d="M536.5 548.5h0"/>
<path class="nb" d="M692.5 498.5h0"/>
<path class="no" d="M635.5 527.5h0"/>
<path class="nb" d="M764.5 577.5h0"/>
<path class="ng" d="M547.5 556.5h0"/>
<path class="no" d="M605.5 601.5h0"/>
<path class="nb" d="M648.5 577.5h0"/>
<path class="no" d="M663.5 535.5l14 19-101 9"/>
<path class="nb" d="M666.5 590.5l85-25"/>
<path class="no" d="M562.5 547.5l105 10-66-26 79-70-88 67 97-9-18 36-115-31 1 92 133-118-81 68 37-9"/>
<path class="nb" d="M702.5 687.5h0"/>
<path class="no" d="M526.5 607.5l51-38-32-31 57-43-80 36 44 30 28 76"/>
<path class="ng" d="M610.5 492.5h0"/>
<path class="nb" d="M634.5 586.5h0"/>
<path class="no" d="M630.5 632.5l102-20-166-22-83-98 65 56 133 52"/>
<path class="ng" d="M647.5 657.5h0"/>
<path class="no" d="M701.5 545.5l-156-63 48 86 65 49-129-18 138-222-45 258 89-114-34 80-217-24 238-29"/>
<path class="ng" d="M672.5 622.5h0"/>
<path class="no" d="M703.5 515.5l-118 10 93-8 17 63-148-94 5 85-102 32 234-131"/>
<path class="nb" d="M562.5 630.5h0"/>
<path class="no" d="M655.5 491.5l-25 42 69 34-237 26 197-37"/>
<path class="ng" d="M637.5 534.5h0"/>
<path class="no" d="M583.5 581.5l-68-11 73 50"/>
<path class="ng" d="M550.5 556.5h0"/>
<path class="no" d="M612.5 526.5l-78 87-8-96 9 35 48-102 112 88-162 163 32-169-36-11"/>
<path class="ng" d="M536.5 569.5h0"/>
<path class="no" d="M654.5 574.5l-75-65 127 16-62 95-77-111"/>
<path class="nb" d="M454.5 635.5h0"/>
<path class="no" d="M647.5 546.5l-55-28 79-4-140 56-23-2-30 65 120-121-117 69 58 44 124-114-90 96-4 15-21-29 32 2 33-69-42 64-57-46 123 32 52-23-72 67 41-104"/>
<path class="nb" d="M673.5 372.5h0"/>
<path class="no" d="M590.5 554.5l125 99-78-43 37-6-130-53 160-51"/>
<path class="nb" d="M499.5 554.5h0"/>
<path class="no" d="M663.5 551.5l-12-35-67 97 34-104-1 91-10-31 86-23-41 70-99 67 104-77 46-93-13 73-133 87-13-41 110-138-30 113-30-99"/>
<path class="nb" d="M615.5 448.5h0"/>
<path class="no" d="M629.5 489.5l11 125-133-12 183-1-174 2 173-67-190 7 74 79-9 1 84-99-163 59 65 85 61-136-56 10-37-33 67 81 13 5-90 48 43-49-38-48 162-28-179-16 78 94-12-27 74-72 49 43 2 63-18 8-36-34 20-84-167 52 140 14-58-9 20-179 93 167-111-40 27 59-11 92 56-57"/>
<path class="nb" d="M589.5 517.5h0"/>
<path class="no" d="M667.5 517.5l-217 76 120-29"/>
<path class="nb" d="M685.5 575.5h0"/>
<path class="no" d="M650.5 615.5l13-60-76 19-46-25 25-7 35 74 14 8-120-129"/>
<path class="ng" d="M539.5 546.5h0"/>
<path class="nb" d="M577.5 664.5h0"/>
<path class="no" d="M669.5 523.5h0"/>
<path class="ng" d="M623.5 473.5h0"/>
<path class="no" d="M558.5 613.5l92-42 10 28-143-94 6 10"/>
<path class="nb" d="M561.5 511.5h0"/>
<path class="no" d="M536.5 600.5h0"/>
<path class="nb" d="M658.5 632.5h0"/>
<path class="no" d="M626.5 565.5l57-62-121 23 48-28-139 79-19-84 122 48"/>
<path class="ng" d="M528.5 519.5h0"/>
<path class="no" d="M522.5 568.5h0"/>
<path class="nb" d="M570.5 467.5h0"/>
<path class="no" d="M612.5 607.5l-39-62 25 15 2 69 85-67-187 56 93-97-71 50 142-73"/>
<path class="nb" d="M522.5 611.5h0"/>
<path class="ng" d="M609.5 593.5h0"/>
<path class="no" d="M617.5 643.5l28-104-48 28-5-67 26-28 29 129"/>
<path class="ng" d="M539.5 562.5h0"/>
<path class="no" d="M487.5 518.5l163 43"/>
<path class="nb" d="M667.5 502.5h0"/>
<path class="no" d="M487.5 587.5l96-16-23 7 113-52-188 64 178 10"/>
<path class="nb" d="M554.5 576.5h0"/>
<path class="no" d="M587.5 611.5l-47-23 124 39"/>
<path class="nb" d="M691.5 662.5h0"/>
<path class="no" d="M586.5 565.5h0"/>
<path class="ng" d="M503.5 639.5h0"/>
<path class="no" d="M709.5 540.5h0"/>
<path class="nb" d="M694.5 670.5h0"/>
<path class="no" d="M660.5 544.5l-85-20-8 53"/>
<path class="nb" d="M583.5 500.5h0"/>
<path class="no" d="M555.5 594.5l78 9-132 25 172-125-40-1-26 113-37-94 112 4-47-31 48 66-82-11 74 37-93-31-15 41 18 13 142-89-112 21-59-12-116 82 112-82-18 79 86-75-89 3 13-10 141 8-110 93 124-45-66 36 56-19-63-50"/>
<path class="nb" d="M635.5 573.5h0"/>
<path class="no" d="M623.5 540.5l-29 0 29 79 70-93"/>
<path class="ng" d="M617.5 590.5h0"/>
<path class="no" d="M539.5 595.5l94 14"/>
<path class="ng" d="M513.5 563.5h0"/>
<path class="nb" d="M565.5 626.5h0"/>
<path class="no" d="M477.5 531.5l178 46"/>
<path class="nb" d="M650.5 421.5h0"/>
<path class="no" d="M650.5 567.5l-7-48-80 61 185 30-145 15-53-56 45 14-30 20 98-98 28 76-34 43-125-86 31-20 109-34-120 121 91 24 1-102-50 93 29-71-145-9 48-1 29 24 130-40-119 97 3-96 13 95-5-35 60-80 40 67-160-34 134-34-172 72 11 0"/>
<path class="nb" d="M643.5 438.5h0"/>
<path class="no" d="M489.5 578.5h0"/>
<path class="nb" d="M565.5 504.5h0"/>
<path class="ng" d="M684.5 599.5h0"/>
<path class="no" d="M651.5 598.5h0"/>
<path class="nb" d="M678.5 654.5l-48-33"/>
<path class="no" d="M719.5 524.5l-47 77-55-73 33 48-22 29"/>
<path class="nb" d="M621.5 620.5h0"/>
<path class="no" d="M570.5 608.5l96-105-28-33-96 85"/>
<path class="nb" d="M569.5 539.5h0"/>
<path class="no" d="M584.5 597.5l-42-28 125 10"/>
<path class="nb" d="M691.5 500.5h0"/>
<path class="no" d="M594.5 633.5l-121-95 128 87-40-108 67 83"/>
<path class="nb" d="M589.5 538.5h0"/>
<path class="no" d="M680.5 512.5h0"/>
<path class="nb" d="M642.5 536.5l-34-30"/>
<path class="no" d="M443.5 578.5l144-9-63 5 79-92 77 48-57 98 2-60-180 28 227-20-161-60-31-30 272 64"/>
<path class="ng" d="M627.5 582.5h0"/>
<path class="no" d="M628.5 509.5l-23 87-65 97 5-158 133 99-13-90-56-48-21 51 78-14-136 20 203 77-44-128-72-4-74 45 97-5-71 33 36-23-9 57 43 9 34-103-68 108 56-52 73 29-45-87-18 54-76 58 28-35-62-93 59 28-146 85 103-68 32 45-47 20 11-13-8 23 106-109"/>
<path class="ng" d="M670.5 512.5h0"/>
<path class="no" d="M608.5 475.5l53 87-8 24 15-75 24 83-217 38 204-68"/>
<path class="nb" d="M570.5 533.5h0"/>
<path class="no" d="M604.5 568.5l-40 37-17-30 35-64-97-18 79 72 78-84"/>
<path class="ng" d="M560.5 585.5h0"/>
<path class="no" d="M618.5 525.5l-63 15"/>
<path class="ng" d="M711.5 547.5h0"/>
<path class="no" d="M687.5 564.5h0"/>
<path class="ng" d="M552.5 466.5h0"/>
<path class="no" d="M643.5 524.5l89 94-134-86-37 88"/>
<path class="ng" d="M592.5 458.5l-27 85"/>
<path class="no" d="M628.5 565.5l3-15 27 108-29-77-57 64 106-285-138 315 89-101-12 21-35-69"/>
<path class="nb" d="M517.5 575.5h0"/>
<path class="no" d="M580.5 465.5l30 106-34 20 3-8"/>
<path class="ng" d="M658.5 571.5h0"/>
<path class="no" d="M540.5 618.5l141-84-80 30 10-60 63-12 15 58-132 74 53 39-13-47"/>
<path class="nb" d="M612.5 577.5h0"/>
<path class="no" d="M569.5 554.5l90 35-126-3 162-43"/>
<path class="ng" d="M517.5 588.5h0"/>
<path class="no" d="M600.5 522.5h0"/>
<path class="nb" d="M710.5 586.5h0"/>
<path class="no" d="M589.5 565.5l-10 23-21-55 63 97"/>
<path class="ng" d="M557.5 545.5l110 62"/>
<path class="nb" d="M483.5 604.5h0"/>
<path class="no" d="M676.5 628.5l-113-54 135-36-152-5 62 22-21 43 80 42"/>
<path class="nb" d="M674.5 611.5h0"/>
<path class="ng" d="M663.5 529.5h0"/>
<path class="no" d="M679.5 522.5l-20 7 53-2"/>
<path class="ng" d="M564.5 576.5h0"/>
<path class="no" d="M660.5 478.5l-35 92-80-25-41 0-10 27-16 18 223-56-164-11 71-15 3 54"/>
<path class="ng" d="M597.5 622.5h0"/>
<path class="no" d="M470.5 574.5h0"/>
<path class="nb" d="M637.5 473.5h0"/>
<path class="no" d="M514.5 518.5l16 28 96 40-104-32"/>
<path class="nb" d="M650.5 486.5h0"/>
<path class="no" d="M688.5 571.5l-62-58-147 63 136-79-103 64 91-38-94 4 132 56-98 22 150-85-76-46 22 132-119-76 93 81-40 2 116-23"/>
<path class="nb" d="M485.5 653.5h0"/>
<path class="no" d="M690.5 511.5h0"/>
<path class="nb" d="M638.5 435.5h0"/>
<path class="ng" d="M586.5 491.5h0"/>
<path class="no" d="M733.5 590.5l-152-73 181 52-93-33 4-52-165 123"/>
<path class="nb" d="M526.5 574.5h0"/>
<path class="no" d="M536.5 605.5h0"/>
<path class="nb" d="M603.5 648.5l48-118-67 104"/>
<path class="no" d="M655.5 538.5l-111 38 46 1-90 3 105-52 13 56-175-98 113 93 4-42 120 20-96-33 47 45 63-7-3 32-151-64 103-31"/>
<path class="nb" d="M657.5 510.5h0"/>
<path class="no" d="M647.5 609.5h0"/>
<path class="ng" d="M500.5 505.5h0"/>
<path class="no" d="M554.5 600.5l53 23 85-80-123-13 139-24-148 23 82-2-4-89-14 214-131-70 92 53 59-31 20-77"/>
<path class="nb" d="M619.5 538.5h0"/>
<path class="no" d="M600.5 501.5l22 93-88-144-11 95 96 23"/>
<path class="nb" d="M519.5 602.5l256-32"/>
<path class="no" d="M700.5 545.5l-33 30-40 39-65-70"/>
<path class="nb" d="M525.5 533.5h0"/>
<path class="no" d="M450.5 600.5h0"/>
<path class="ng" d="M587.5 534.5h0"/>
<path class="no" d="M639.5 495.5l-57 47 10-7 38 4"/>
<path class="nb" d="M671.5 573.5h0"/>
<path class="no" d="M631.5 565.5l43 51-94-43 88-82 9 46-68 69"/>
<path class="nb" d="M566.5 513.5h0"/>
<path class="no" d="M587.5 380.5h0"/>
<path class="nb" d="M741.5 550.5h0"/>
<path class="no" d="M604.5 535.5l65 72-199-113 156 80-47 5-1 45 18-72-3 51 31-50-90 42 70 10-45-126-12 104 34-20 21-3-28 94 39-144 3-10"/>
<path class="nb" d="M497.5 565.5h0"/>
<path class="no" d="M668.5 560.5l4-51-44 36"/>
<path class="ng" d="M619.5 592.5h0"/>
<path class="no" d="M611.5 431.5l13 101-15 85"/>
<path class="nb" d="M745.5 552.5h0"/>
<path class="no" d="M623.5 513.5l85 95-218-93 201 33-8 59-69-78 5 57-88 102-29-132 96-15 62 73-10 28-167-120 98 47 18-27-81 23"/>
<path class="nb" d="M530.5 518.5h0"/>
<path class="no" d="M692.5 557.5l-45 75-68-103 37 85-29-55 68-5 18 6-97 71-87-147-75 142 149-91-16 66-61-87 153-3 9-15 7 87"/>
<path class="ng" d="M674.5 497.5h0"/>
<path class="no" d="M572.5 541.5l-13-32 34 33 3 87-13-36-106-46"/>
<path class="ng" d="M471.5 547.5h0"/>
<path class="no" d="M631.5 629.5l44-97-77 96 90 11"/>
<path class="ng" d="M654.5 593.5h0"/>
<path class="no" d="M475.5 551.5l51 0 33 39 130-23-71-50"/>
<path class="ng" d="M667.5 496.5h0"/>
<path class="no" d="M529.5 555.5l-27 65 137-38-50-38"/>
<path class="nb" d="M688.5 466.5h0"/>
<path class="no" d="M473.5 575.5l186-41-16 21-60-156 4 234 57-141-85 113-6-17"/>
<path class="nb" d="M633.5 594.5h0"/>
<path class="no" d="M522.5 544.5l66 48 9-55 77 53-135-26 170 28-162 82 123-125-93 86 66-61"/>
<path class="ng" d="M577.5 469.5h0"/>
<path class="no" d="M592.5 627.5h0"/>
<path class="ng" d="M524.5 598.5h0"/>
<path class="no" d="M544.5 614.5l140-38"/>
<path class="nb" d="M533.5 619.5h0"/>
<path class="ng" d="M689.5 525.5h0"/>
<path class="no" d="M570.5 628.5l-37-17 23-52 115 38-86-209 89 238-15-20-58-16 26 22"/>
<path class="nb" d="M679.5 559.5h0"/>
<path class="no" d="M601.5 613.5l47-108 5 77 53-23"/>
<path class="ng" d="M648.5 514.5h0"/>
<path class="no" d="M572.5 483.5l-83 48 161 127-8-99-87 46 140-91-47 21 3 57-86-6 59-99-16 78 74-11-21 42-31 4-13-125-36 138 84-115 21 98-95-76-23-4 39 125-85-96 159 61-200-9 130-104"/>
<path class="ng" d="M556.5 626.5h0"/>
<path class="no" d="M481.5 497.5h0"/>
<path class="nb" d="M654.5 459.5l-81 68"/>
<path class="no" d="M626.5 591.5l-86 21 11-88-21 107 73-118 10 88 79-85-101-6 132 64-188 1-30-79 106 90 69-84-11 104-72-164 40 113-72 17 46 3 43-75-35 61-144 14 187-16-51 45 89 49-85-135-4 105-69 77"/>
<path d="M999.5 551.5l26-13M999.5 555.5l22-15M1014.5 552.5l3-20M1008.5 556.5l13-16M978.5 460.5l2 11M984.5 481.5l-8 1M983.5 490.5l-11 0M972.5 490.5l-8-2M981.5 490.5l-1 9M968.5 508.5l7 6M936.5 508.5l8 0M948.5 511.5l9 0M965.5 515.5l7 1M938.5 520.5l8-1M1005.5 502.5l8-3M1018.5 484.5l-2 7M1016.5 491.5l-3 8M995.5 522.5l-9 1M981.5 525.5l-9 7M972.5 532.5l-4 9M972.5 532.5l7 3M990.5 528.5l8 4M1003.5 528.5l-4 8M1013.5 518.5l-18 4M1023.5 518.5l12-3M1041.5 514.5l16 0M1057.5 514.5l6 5M1049.5 500.5l-9 9M1035.5 535.5l0-10M1035.5 525.5l-3 7M1023.5 518.5l12 7M1030.5 565.5l4-17M987.5 558.5l-6 6M994.5 575.5l5-14M999.5 561.5l2 7M1006.5 571.5l-4-16M1016.5 571.5l7-4M1018.5 578.5l-7 4M979.5 580.5l9-1M966.5 585.5l9 3M975.5 588.5l20 4M995.5 592.5l11-2M1006.5 598.5l-15 0M1011.5 582.5l-5 8M1038.5 584.5l10 8M1023.5 567.5l8 12M1058.5 540.5l-2 9M1055.5 553.5l9-1M1076.5 549.5l-7 5M1041.5 564.5l10 0M1062.5 562.5l5 6M1041.5 564.5l-11 1M1078.5 558.5l8 0M1086.5 558.5l-9-3M1077.5 555.5l-6 3" class="e"/>
<path class="nb" d="M1077.5 516.5h0"/>
<path class="no" d="M957.5 514.5h0"/>
<path class="nb" d="M991.5 598.5h0"/>
<path class="no" d="M1049.5 566.5l-65-49-48-9 127 11-76-18 87 46-102-63 35 69"/>
<path class="nb" d="M1018.5 578.5l-72-59"/>
<path class="no" d="M963.5 506.5l14 38"/>
<path class="ng" d="M1048.5 592.5h0"/>
<path class="no" d="M991.5 546.5h0"/>
<path class="nb" d="M1035.5 582.5h0"/>
<path class="ng" d="M934.5 505.5h0"/>
<path class="no" d="M1029.5 537.5h0"/>
<path class="nb" d="M1004.5 598.5l-9-6"/>
<path class="no" d="M1004.5 544.5l-21 14"/>
<path class="nb" d="M981.5 564.5h0"/>
<path class="no" d="M987.5 547.5l89 2"/>
<path class="nb" d="M991.5 502.5h0"/>
<path class="no" d="M1006.5 562.5l38-52"/>
<path class="nb" d="M1077.5 555.5h0"/>
<path class="no" d="M982.5 566.5l-19-63"/>
<path class="nb" d="M1038.5 584.5l18 15-80-76"/>
<path class="ng" d="M995.5 522.5h0"/>
<path class="no" d="M998.5 546.5l-14-14"/>
<path class="nb" d="M989.5 573.5h0"/>
<path class="no" d="M999.5 536.5l36-21-48 5-1-9"/>
<path class="nb" d="M975.5 588.5h0"/>
<path class="no" d="M990.5 543.5h0"/>
<path class="nb" d="M1062.5 562.5l-110-44"/>
<path class="ng" d="M1051.5 564.5h0"/>
<path class="no" d="M964.5 488.5l94 52-48 7-3 5"/>
<path class="nb" d="M948.5 517.5h0"/>
<path class="no" d="M962.5 514.5l24 9 7 29"/>
<path class="nb" d="M1015.5 535.5h0"/>
<path class="no" d="M957.5 514.5l45 41 8-44-26-30 36 71"/>
<path class="nb" d="M1041.5 564.5h0"/>
<path class="no" d="M963.5 585.5l51-75-57-13 49 74 63-17"/>
<path class="nb" d="M981.5 547.5h0"/>
<path class="no" d="M984.5 508.5l21-6-10 2 11 37"/>
<path class="nb" d="M992.5 541.5h0"/>
<path class="no" d="M996.5 498.5l15 8"/>
<path class="nb" d="M963.5 586.5l50-47"/>
<path class="no" d="M972.5 532.5l-4-24 90 59-20-49-70 23 89 31-18-29"/>
<path class="nb" d="M999.5 561.5h0"/>
<path class="no" d="M1016.5 546.5h0"/>
<path class="nb" d="M1005.5 564.5h0"/>
<path class="no" d="M991.5 542.5l31 39"/>
<path class="nb" d="M1031.5 559.5h0"/>
<path class="no" d="M959.5 502.5l-11 9 87 24"/>
<path class="nb" d="M1080.5 517.5h0"/>
<path class="no" d="M1042.5 528.5l-8 13-44-13"/>
<path class="nb" d="M1023.5 567.5l-1-53-56 71"/>
<path class="no" d="M1023.5 574.5h0"/>
<path class="ng" d="M1069.5 549.5h0"/>
<path class="nb" d="M1021.5 540.5h0"/>
<path class="no" d="M972.5 516.5l11-13"/>
<path class="ng" d="M1064.5 552.5h0"/>
<path class="no" d="M965.5 515.5l47 47 13 18-46-94"/>
<path class="nb" d="M1028.5 505.5l36 68-126-53"/>
<path class="no" d="M1000.5 499.5l27 11"/>
<path class="nb" d="M1026.5 508.5l6 24"/>
<path class="no" d="M1050.5 525.5h0"/>
<path class="nb" d="M1078.5 558.5h0"/>
<path class="no" d="M1055.5 553.5l-51-3-4 7"/>
<path class="nb" d="M1086.5 558.5h0"/>
<path class="no" d="M930.5 506.5l81 35-24 17 20-18-27-41-4-17"/>
<path class="nb" d="M1016.5 571.5l24-62"/>
<path class="no" d="M1016.5 538.5l-8 18 39-36 24 38"/>
<path class="ng" d="M1045.5 504.5h0"/>
<path class="no" d="M987.5 508.5l14 39 17-63-40-24"/>
<path class="nb" d="M1006.5 598.5h0"/>
<path class="no" d="M988.5 568.5l15-33 0-7 4 30 50-44-34 4"/>
<path class="nb" d="M1046.5 559.5h0"/>
<path class="no" d="M1013.5 518.5l-7 2"/>
<path class="nb" d="M994.5 575.5l-5-68"/>
<path class="no" d="M1078.5 548.5l-37-34-58-24"/>
<path class="nb" d="M1013.5 556.5h0"/>
<path class="no" d="M1067.5 568.5l-51-21"/>
<path class="nb" d="M1011.5 539.5h0"/>
<path class="no" d="M1005.5 495.5h0"/>
<path class="ng" d="M1065.5 557.5h0"/>
<path class="no" d="M999.5 551.5h0"/>
<path class="nb" d="M1066.5 518.5l-49 14"/>
<path class="no" d="M975.5 514.5h0"/>
<path class="nb" d="M1001.5 568.5h0"/>
<path class="no" d="M972.5 490.5h0"/>
<path class="nb" d="M1049.5 500.5h0"/>
<path class="ng" d="M1008.5 595.5h0"/>
<path class="nb" d="M1011.5 567.5h0"/>
<path class="no" d="M985.5 476.5l10 60-7 43 22-34 4 7 21-27-22 15 43 9-58-17-17-42"/>
<path class="nb" d="M1050.5 596.5h0"/>
<path class="no" d="M1028.5 532.5h0"/>
<path class="ng" d="M1030.5 565.5h0"/>
<path class="no" d="M980.5 478.5h0"/>
<path class="nb" d="M1060.5 604.5l-2-71-33 23"/>
<path class="no" d="M998.5 542.5l-41-31 22 24 66-9"/>
<path class="nb" d="M990.5 601.5h0"/>
<path class="ng" d="M1031.5 579.5h0"/>
<path class="no" d="M1016.5 491.5h0"/>
<path class="nb" d="M1072.5 518.5l-21-2"/>
<path class="no" d="M1056.5 563.5l-68-30 7 18-15-80 62 64"/>
<path class="ng" d="M1006.5 590.5h0"/>
<path class="no" d="M944.5 508.5l106 14"/>
<path class="nb" d="M981.5 525.5h0"/>
<path class="no" d="M1033.5 543.5l-26-27 6-17-5 50"/>
<path class="nb" d="M1011.5 582.5h0"/>
<path class="no" d="M999.5 555.5l2-14"/>
<path class="nb" d="M1034.5 548.5h0"/>
<path class="no" d="M1029.5 543.5l-24-32 20 27-46 42"/>
<path class="ng" d="M999.5 543.5h0"/>
<path d="M131.5 944.5l14 19M161.5 925.5l2 10M165.5 949.5l-2 11M145.5 963.5l8 1M145.5 970.5l-4 6M138.5 971.5l-2 10M136.5 981.5l-8 10M194.5 976.5l-15 4M197.5 964.5l9-11M165.5 970.5l10 8M175.5 978.5l-10 7M189.5 985.5l16 9M228.5 971.5l-7 7M214.5 984.5l7 2M227.5 982.5l-22 12M195.5 1013.5l-10 3M258.5 983.5l-7 5M243.5 994.5l-10 7M244.5 1003.5l7 1M253.5 1006.5l-30-2M228.5 1013.5l-7 3M229.5 1019.5l-12 6M215.5 1031.5l0 11M221.5 1057.5l-12-4M213.5 999.5l10 5M218.5 1005.5l-3 9" class="e"/>
<path class="no" d="M156.5 968.5l63 79-36-27 44 2-52-51 54 48-26-21-20 19-30-27 0-26-3 8 47 36 19 37-42-79 27 45"/>
<path class="nb" d="M176.5 1025.5h0"/>
<path class="ng" d="M215.5 1020.5h0"/>
<path class="nb" d="M153.5 974.5h0"/>
<path class="no" d="M165.5 949.5l63 22-43 14 21-32-75-9 50 29 70 15-117-44 59 37"/>
<path class="nb" d="M208.5 1024.5h0"/>
<path class="no" d="M163.5 986.5l0-45"/>
<path class="nb" d="M127.5 934.5l-1 62"/>
<path class="no" d="M145.5 963.5h0"/>
<path class="nb" d="M217.5 1025.5h0"/>
<path class="ng" d="M228.5 1013.5h0"/>
<path class="no" d="M151.5 995.5h0"/>
<path class="nb" d="M198.5 1031.5h0"/>
<path class="no" d="M219.5 1052.5l-99-56 65-15-57-39 8 39 51-9 34 6-58-18 39 40 19 57 0-71 26 7-29-12-87-1"/>
<path class="nb" d="M215.5 1031.5l-55-42"/>
<path class="no" d="M215.5 1014.5l-26-29 34 19-33-29-52-4 27-7 49 20 49-4"/>
<path class="nb" d="M220.5 1026.5h0"/>
<path class="ng" d="M209.5 1018.5h0"/>
<path class="nb" d="M133.5 982.5h0"/>
<path class="no" d="M141.5 976.5l-13 15-1-53"/>
<path class="ng" d="M239.5 1002.5h0"/>
<path class="no" d="M161.5 925.5l24 91-6-48-9-36-25 38 17 2 49 77-17-73-72 23 61-31 2-4 4 18"/>
<path class="nb" d="M244.5 1003.5h0"/>
<path class="no" d="M180.5 986.5l47-4-14-39-33 16"/>
<path class="nb" d="M209.5 1053.5l24-52"/>
<path class="no" d="M195.5 1013.5h0"/>
<path class="nb" d="M215.5 1042.5h0"/>
<path class="no" d="M156.5 983.5h0"/>
<path class="ng" d="M218.5 1005.5h0"/>
<path class="no" d="M163.5 935.5l29 73-57-36"/>
<path class="nb" d="M203.5 1026.5h0"/>
<path class="no" d="M165.5 985.5l44-36-30 31"/>
<path class="nb" d="M223.5 1007.5h0"/>
<path class="no" d="M183.5 980.5h0"/>
<path class="ng" d="M221.5 1016.5h0"/>
<path class="no" d="M258.5 983.5h0"/>
<path class="nb" d="M125.5 979.5h0"/>
<path class="no" d="M213.5 999.5h0"/>
<path class="nb" d="M251.5 1004.5h0"/>
<path class="no" d="M156.5 990.5h0"/>
<path class="nb" d="M253.5 1006.5h0"/>
<path class="no" d="M180.5 1022.5l-14-76 45 110-15-86 9 24 2 7-5 4-33-40 9-3-21 3"/>
<path class="nb" d="M124.5 992.5h0"/>
<path class="no" d="M191.5 971.5h0"/>
<path class="nb" d="M157.5 972.5h0"/>
<path class="no" d="M175.5 978.5h0"/>
<path class="ng" d="M243.5 994.5h0"/>
<path class="no" d="M197.5 964.5l-28-26 65 74-69-42-32-32 80 61"/>
<path d="M586.5 932.5l8 17M597.5 934.5l16 31M584.5 935.5l10 16M585.5 937.5l7 17M591.5 937.5l7 18M592.5 939.5l6 16M599.5 942.5l17 24M589.5 944.5l8 21M611.5 947.5l-12 17M608.5 949.5l-11 28M614.5 951.5l8 28M583.5 957.5l14 20M592.5 962.5l-4 23M590.5 967.5l27 19M587.5 1021.5l8-30M599.5 1022.5l6-27M600.5 1020.5l0-16M590.5 1025.5l0-31M594.5 1026.5l1-10M601.5 1024.5l-4-31M605.5 1028.5l1-23M586.5 1033.5l14-29M591.5 1030.5l-12-29M596.5 1033.5l10-24M589.5 1035.5l17-30M597.5 1034.5l-13-21M604.5 1037.5l2-28M604.5 1041.5l-6-18M593.5 1047.5l2-31M597.5 1048.5l-2-32M632.5 1010.5l-22-18M627.5 1012.5l-17-20M632.5 1014.5l-4-24M629.5 1018.5l-23-9M632.5 1019.5l-4-29M536.5 981.5l31 4M545.5 986.5l26 16M537.5 988.5l27-20M543.5 987.5l21-19M548.5 991.5l23 11M546.5 991.5l24-13M531.5 999.5l32 9M538.5 996.5l32 2M547.5 1000.5l23-2M540.5 1004.5l31-2M545.5 1001.5l25-23M540.5 1004.5l13-11M562.5 912.5l3 9M565.5 921.5l-8 1M568.5 925.5l3-8M569.5 946.5l1 19M569.5 946.5l-12 19M557.5 965.5l-9 14M569.5 946.5l9 9M569.5 946.5l15-2M573.5 927.5l11 9M533.5 950.5l8 3M541.5 953.5l8 6M556.5 968.5l8 0M611.5 912.5l-2 9M627.5 955.5l8-2M635.5 953.5l-18 7M598.5 941.5l-10 3M588.5 944.5l7 3M612.5 951.5l1-15M584.5 970.5l-14 4M614.5 978.5l-4 11M628.5 990.5l8 1M632.5 985.5l-15 1M648.5 988.5l17 18M670.5 1005.5l3 22M635.5 980.5l13 8M540.5 1017.5l-9 10M531.5 1027.5l-7 10M540.5 1017.5l3-11M544.5 1039.5l-4 6M543.5 1006.5l1 27M556.5 1001.5l7 7M563.5 1008.5l-13 3M575.5 995.5l-4 10M578.5 1008.5l6-5M584.5 1003.5l-5 6M600.5 1013.5l0-9M613.5 1004.5l9 1M622.5 1005.5l-3 9M622.5 1018.5l-9 1M640.5 1018.5l0 8M640.5 1026.5l6 5M646.5 1031.5l-18-23M575.5 1027.5l-11 3M563.5 1035.5l16 3M605.5 1048.5l-8 10M597.5 1058.5l6 4M603.5 1062.5l-5 8M597.5 1058.5l12-1" class="e"/>
<path class="no" d="M568.5 1035.5h0"/>
<path class="ng" d="M576.5 980.5h0"/>
<path class="no" d="M594.5 1026.5h0"/>
<path class="nb" d="M595.5 1016.5h0"/>
<path class="no" d="M593.5 933.5l24 53-100-48 89 83 16-42-14 4-43-41"/>
<path class="nb" d="M550.5 963.5l36-13"/>
<path class="no" d="M608.5 1030.5l-18 20 29-76-24 17-45 20 56-79 67 95 12 14-120-120"/>
<path class="ng" d="M553.5 993.5h0"/>
<path class="no" d="M563.5 1035.5l41 2 42-6-17-87"/>
<path class="nb" d="M599.5 970.5h0"/>
<path class="no" d="M594.5 1025.5h0"/>
<path class="nb" d="M603.5 938.5h0"/>
<path class="no" d="M613.5 965.5l-10-11"/>
<path class="nb" d="M564.5 1030.5h0"/>
<path class="no" d="M597.5 965.5l-15 7-14-47-27 28 8 15 67-4"/>
<path class="ng" d="M602.5 960.5h0"/>
<path class="nb" d="M584.5 944.5h0"/>
<path class="no" d="M571.5 983.5l33-18-6-6"/>
<path class="nb" d="M614.5 970.5h0"/>
<path class="ng" d="M628.5 980.5h0"/>
<path class="no" d="M556.5 1001.5h0"/>
<path class="nb" d="M614.5 978.5h0"/>
<path class="no" d="M598.5 1023.5h0"/>
<path class="nb" d="M562.5 912.5h0"/>
<path class="ng" d="M586.5 1033.5h0"/>
<path class="no" d="M559.5 1035.5h0"/>
<path class="ng" d="M640.5 1026.5l-32-91"/>
<path class="no" d="M629.5 1018.5h0"/>
<path class="nb" d="M540.5 984.5l-26 61"/>
<path class="no" d="M592.5 962.5h0"/>
<path class="nb" d="M541.5 1046.5h0"/>
<path class="no" d="M625.5 982.5l-29 51-62-86"/>
<path class="nb" d="M543.5 989.5l84 23"/>
<path class="no" d="M606.5 936.5l-12 95 23-71"/>
<path class="nb" d="M582.5 963.5h0"/>
<path class="no" d="M606.5 1009.5l-51-20 42-46"/>
<path class="nb" d="M545.5 991.5l81 20"/>
<path class="no" d="M678.5 1036.5h0"/>
<path class="nb" d="M538.5 988.5h0"/>
<path class="no" d="M620.5 952.5h0"/>
<path class="nb" d="M602.5 971.5l-71 56"/>
<path class="no" d="M604.5 968.5l-14 57"/>
<path class="nb" d="M594.5 971.5h0"/>
<path class="ng" d="M611.5 912.5h0"/>
<path class="nb" d="M544.5 1039.5h0"/>
<path class="no" d="M606.5 974.5h0"/>
<path class="ng" d="M587.5 1021.5h0"/>
<path class="no" d="M632.5 985.5h0"/>
<path class="nb" d="M602.5 932.5h0"/>
<path class="no" d="M591.5 1030.5l-21-65 57 62-37-33"/>
<path class="ng" d="M556.5 968.5h0"/>
<path class="nb" d="M628.5 990.5h0"/>
<path class="no" d="M567.5 985.5l65 29-27 34-21-78"/>
<path class="nb" d="M582.5 960.5l-11-43 27 153"/>
<path class="no" d="M675.5 1032.5l-65-53-20 60 23-15-73-18 67-43-26 1-48-14 137 55"/>
<path class="nb" d="M587.5 951.5l25-4"/>
<path class="no" d="M549.5 959.5h0"/>
<path class="nb" d="M586.5 957.5l-70 91"/>
<path class="no" d="M586.5 1020.5l-2-76"/>
<path class="nb" d="M608.5 935.5l2 57-19-33-51 86"/>
<path class="no" d="M531.5 999.5l37-66 26 91 10-82-66 54"/>
<path class="nb" d="M570.5 974.5h0"/>
<path class="no" d="M533.5 994.5l70 50 6-123"/>
<path class="nb" d="M665.5 1006.5h0"/>
<path class="no" d="M557.5 965.5h0"/>
<path class="nb" d="M595.5 960.5h0"/>
<path class="no" d="M537.5 981.5l60 9-34 18"/>
<path class="nb" d="M538.5 993.5h0"/>
<path class="no" d="M609.5 940.5l-7 82-13 13"/>
<path class="ng" d="M612.5 955.5h0"/>
<path class="no" d="M594.5 982.5l9-16-6 92 0-17 16-37 6 36-48-35 20-34"/>
<path class="nb" d="M606.5 985.5h0"/>
<path class="no" d="M612.5 973.5h0"/>
<path class="nb" d="M536.5 981.5h0"/>
<path class="ng" d="M546.5 991.5h0"/>
<path class="no" d="M606.5 979.5l-5-28 8 106-16-10 7-27"/>
<path class="nb" d="M635.5 1011.5h0"/>
<path class="no" d="M640.5 1018.5h0"/>
<path class="ng" d="M544.5 1033.5h0"/>
<path class="nb" d="M598.5 955.5h0"/>
<path class="ng" d="M538.5 1052.5h0"/>
<path class="no" d="M584.5 979.5l15 43 24-72"/>
<path class="nb" d="M594.5 976.5h0"/>
<path class="no" d="M597.5 1049.5l-11-93"/>
<path class="nb" d="M524.5 1037.5l66-70-53 21 77-37"/>
<path class="no" d="M575.5 995.5l42 35"/>
<path class="nb" d="M596.5 984.5h0"/>
<path class="no" d="M593.5 953.5h0"/>
<path class="nb" d="M586.5 940.5h0"/>
<path class="no" d="M541.5 1035.5h0"/>
<path class="ng" d="M622.5 1005.5h0"/>
<path class="no" d="M557.5 922.5l58 29"/>
<path class="nb" d="M599.5 942.5l13 17"/>
<path class="no" d="M602.5 1033.5l-8 8 6-111-52 49"/>
<path class="nb" d="M608.5 925.5h0"/>
<path class="no" d="M588.5 985.5l39-30"/>
<path class="nb" d="M596.5 971.5h0"/>
<path class="ng" d="M600.5 1013.5h0"/>
<path class="no" d="M604.5 1041.5l1-58"/>
<path class="nb" d="M631.5 1009.5h0"/>
<path class="ng" d="M571.5 1002.5h0"/>
<path class="no" d="M638.5 1015.5l-65-88 23 11 12 84-21 5"/>
<path class="nb" d="M543.5 1006.5l-1-11"/>
<path class="no" d="M602.5 947.5l4 19"/>
<path class="nb" d="M544.5 1006.5h0"/>
<path class="ng" d="M599.5 964.5h0"/>
<path class="no" d="M525.5 943.5h0"/>
<path class="ng" d="M542.5 1047.5h0"/>
<path class="no" d="M619.5 1014.5l16-34-93 2 45-40"/>
<path class="nb" d="M604.5 981.5h0"/>
<path class="no" d="M562.5 940.5l44 8-28 7 12-20-11 103"/>
<path class="nb" d="M546.5 1001.5l86-61"/>
<path class="no" d="M579.5 1009.5l11 32-3-10-12-4"/>
<path class="nb" d="M628.5 1008.5h0"/>
<path class="no" d="M603.5 1062.5l3-57 73 37-82-49"/>
<path class="nb" d="M584.5 935.5h0"/>
<path class="no" d="M581.5 967.5l-51-21 54 57"/>
<path class="ng" d="M583.5 957.5h0"/>
<path class="nb" d="M597.5 977.5h0"/>
<path class="no" d="M635.5 953.5h0"/>
<path class="nb" d="M615.5 977.5h0"/>
<path class="no" d="M611.5 966.5h0"/>
<path class="nb" d="M612.5 956.5l-82 40 86-30"/>
<path class="no" d="M609.5 970.5l-17-31"/>
<path class="nb" d="M589.5 978.5h0"/>
<path class="no" d="M577.5 957.5l8-27-24 60"/>
<path class="nb" d="M608.5 959.5h0"/>
<path class="no" d="M597.5 1048.5l-5-12"/>
<path class="nb" d="M564.5 968.5h0"/>
<path class="ng" d="M609.5 945.5h0"/>
<path class="no" d="M564.5 939.5l57 106"/>
<path class="nb" d="M536.5 995.5h0"/>
<path class="no" d="M530.5 943.5l65 4 2 87-51-49 54-9 13 43"/>
<path class="nb" d="M521.5 941.5h0"/>
<path class="no" d="M600.5 973.5l2 57-1-41-59 10 27-53"/>
<path class="nb" d="M547.5 1000.5h0"/>
<path class="no" d="M632.5 1010.5l-29-20-9-5 6-4-39-56"/>
<path class="nb" d="M634.5 984.5h0"/>
<path class="no" d="M625.5 975.5h0"/>
<path class="nb" d="M527.5 997.5h0"/>
<path class="no" d="M536.5 986.5h0"/>
<path class="nb" d="M537.5 1001.5l51-31"/>
<path class="no" d="M609.5 988.5l-61 3"/>
<path class="nb" d="M610.5 989.5h0"/>
<path class="no" d="M594.5 1044.5h0"/>
<path class="nb" d="M586.5 967.5h0"/>
<path class="no" d="M613.5 936.5l11 95-18 4-8 10-20-37 23 16"/>
<path class="nb" d="M572.5 920.5l1-1"/>
<path class="no" d="M605.5 1028.5l31-12-34 22"/>
<path class="ng" d="M581.5 976.5h0"/>
<path class="nb" d="M570.5 978.5h0"/>
<path class="no" d="M600.5 1004.5h0"/>
<path class="nb" d="M632.5 1019.5h0"/>
<path class="no" d="M617.5 1035.5h0"/>
<path class="nb" d="M538.5 1057.5l50-113 6 5"/>
<path class="no" d="M635.5 936.5l-27 13-30 73"/>
<path class="ng" d="M554.5 962.5h0"/>
<path class="nb" d="M592.5 954.5h0"/>
<path class="no" d="M589.5 966.5h0"/>
<path class="ng" d="M585.5 1002.5h0"/>
<path class="no" d="M622.5 1018.5h0"/>
<path class="nb" d="M605.5 995.5h0"/>
<path class="no" d="M597.5 934.5l82 95"/>
<path class="nb" d="M636.5 991.5l-50-59"/>
<path class="no" d="M570.5 998.5h0"/>
<path class="nb" d="M520.5 1042.5h0"/>
<path class="no" d="M589.5 944.5l5 32-10 37 0-77-44 68 5-18"/>
<path class="nb" d="M540.5 1017.5h0"/>
<path class="ng" d="M579.5 1001.5h0"/>
<path class="no" d="M581.5 966.5h0"/>
<path class="ng" d="M608.5 972.5h0"/>
<path class="no" d="M602.5 987.5l25-41-18 47-29-14 8-48-20-2 29 21 51 38"/>
<path d="M993.5 859.5l6 27M1000.5 859.5l-22 14M1006.5 856.5l-8 17M1006.5 856.5l19 0M1010.5 856.5l-3 29M1010.5 856.5l-21 12M1014.5 857.5l-23 5M1025.5 856.5l-8 26M1031.5 855.5l-26-7M1039.5 856.5l-16 17M1039.5 856.5l-9 16M1042.5 857.5l24 18M1042.5 857.5l18 20M975.5 863.5l-19 16M980.5 865.5l27 10M984.5 862.5l0 19M984.5 862.5l25-14M998.5 863.5l-9 2M998.5 863.5l9 22M1003.5 863.5l15-2M1007.5 860.5l-5 22M1007.5 860.5l11 1M1015.5 862.5l-23 11M1015.5 862.5l9 28M1018.5 861.5l29-7M1018.5 861.5l24 8M1027.5 861.5l-12 1M1027.5 861.5l12 0M1029.5 864.5l-11-3M1029.5 864.5l-4 21M1038.5 862.5l-24 11M1038.5 862.5l-12 25M1039.5 861.5l-16 12M1039.5 861.5l17 16M1049.5 860.5l26 14M1051.5 861.5l-22 3M1051.5 861.5l-14 14M1056.5 864.5l-18-2M1062.5 861.5l-1 29M983.5 869.5l-12-15M989.5 868.5l-16 19M992.5 868.5l23 14M992.5 868.5l19 9M999.5 866.5l-18 14M1003.5 869.5l-28-6M1013.5 869.5l26-13M1013.5 869.5l26-13M1015.5 870.5l-11 27M1015.5 870.5l-12-7M1020.5 866.5l5-10M1026.5 865.5l-20-9M1026.5 865.5l16-8M1031.5 867.5l7 17M1031.5 867.5l25 2M1039.5 868.5l-25 5M1042.5 869.5l7 10M1049.5 870.5l25 10M1049.5 870.5l-13-17M1056.5 869.5l-12 11M1059.5 866.5l0 30M1065.5 867.5l-13-20M1074.5 869.5l4 26M1074.5 869.5l0 29M976.5 874.5l-1 14M976.5 874.5l-26-6M978.5 873.5l24 9M983.5 874.5l30-5M983.5 874.5l9-1M991.5 870.5l24 16M991.5 870.5l26 12M998.5 873.5l-17 7M1004.5 870.5l21-14M1004.5 870.5l10 20M1009.5 874.5l-18 4M1014.5 873.5l14-20M1017.5 875.5l8 10M1017.5 875.5l26 8M1023.5 873.5l-20-10M1023.5 873.5l23 17M1030.5 872.5l8 20M1030.5 872.5l23 1M1037.5 872.5l-14 1M1041.5 871.5l-26 9M1041.5 871.5l13-20M1048.5 871.5l-10-9M1048.5 871.5l-1-20M1053.5 873.5l0 8M1060.5 870.5l24 12M1060.5 870.5l25 9M1061.5 873.5l-5 25M1061.5 873.5l13 25M1068.5 871.5l-5-16M978.5 876.5l-2 18M981.5 880.5l23-10M991.5 878.5l6 23M991.5 878.5l8-12M993.5 876.5l22-14M993.5 876.5l14-16M1000.5 875.5l13-6M1007.5 875.5l-29-2M1011.5 877.5l1-25M1011.5 877.5l-26 13M1015.5 880.5l19 16M1015.5 880.5l14-4M1020.5 880.5l23 3M1020.5 880.5l-18 2M1029.5 876.5l18-22M1029.5 876.5l-11-15M1032.5 877.5l-14-16M1032.5 877.5l22 13M1037.5 875.5l25 1M1037.5 875.5l17-24M1044.5 880.5l24 13M1049.5 879.5l-29 1M1056.5 877.5l13 27M1060.5 877.5l-13-26M1060.5 877.5l-15 22M1066.5 875.5l-9 9M1070.5 879.5l18-9M1078.5 879.5l-13-12M972.5 880.5l10 3M972.5 880.5l12 26M982.5 883.5l-7 5M984.5 881.5l8-13M989.5 882.5l-12 13M994.5 884.5l23 13M994.5 884.5l-2-11M1002.5 882.5l-9 16M1002.5 882.5l-20 1M1005.5 884.5l5 16M1015.5 882.5l-10 11M1017.5 882.5l20-7M1017.5 882.5l-11-26M1025.5 885.5l21 5M1025.5 885.5l24 0M1029.5 881.5l-18 22M1038.5 884.5l18-20M1046.5 882.5l-17 13M1046.5 882.5l28-2M1057.5 884.5l-28-3M1065.5 884.5l2 17M1065.5 884.5l-9-20M1074.5 880.5l-25-10M1074.5 880.5l-12-19M1084.5 882.5l-11 18M1084.5 882.5l4 12M973.5 887.5l21-3M973.5 887.5l3 25M975.5 888.5l-5 9M975.5 888.5l-24 17M985.5 885.5l20 8M987.5 887.5l12-21M994.5 886.5l6 17M994.5 886.5l10 22M999.5 886.5l-21-13M1007.5 885.5l4-8M1007.5 885.5l-17 8M1013.5 886.5l-9-16M1015.5 886.5l-15 17M1015.5 886.5l-2 27M1024.5 889.5l29-8M1026.5 887.5l-22 10M1026.5 887.5l19 12M1034.5 888.5l24 0M1037.5 887.5l-10 19M1045.5 885.5l3-14M1045.5 885.5l20 1M1049.5 885.5l-7-16M1049.5 885.5l1 22M1058.5 888.5l18 19M1058.5 888.5l-15-5M1062.5 885.5l-20 7M1062.5 885.5l4 26M1065.5 886.5l18 4M1065.5 886.5l-16-1M1071.5 885.5l-3 8M1071.5 885.5l-12 11M1085.5 887.5l8 10M1088.5 885.5l-3 9M1088.5 885.5l-3 11M976.5 894.5l1 25M976.5 894.5l5-14M978.5 893.5l15 5M985.5 890.5l13 24M985.5 890.5l22-15M990.5 893.5l-9 1M990.5 893.5l2-20M995.5 890.5l20-20M1002.5 892.5l-10-24M1002.5 892.5l-29-5M1005.5 893.5l14-1M1005.5 893.5l10-11M1014.5 890.5l12-25M1014.5 890.5l-24 3M1019.5 892.5l15-4M1019.5 892.5l15-4M1024.5 890.5l-6-29M1028.5 892.5l13-21M1038.5 892.5l-23-12M1038.5 892.5l11-13M1042.5 892.5l3 19M1046.5 890.5l-14-13M1046.5 890.5l-19 16M1054.5 890.5l-1-17M1054.5 890.5l14-19M1061.5 890.5l10 20M1062.5 892.5l22 9M1068.5 893.5l-2 27M1075.5 890.5l6-7M1083.5 890.5l-22-17M1083.5 890.5l-5 28M1085.5 894.5l-23-9M1093.5 890.5l-9 27M1093.5 890.5l-15 5M966.5 898.5l-23 12M970.5 897.5l7 27M970.5 897.5l8-28M977.5 895.5l25-13M981.5 894.5l-5-20M989.5 899.5l-9 20M993.5 898.5l-4 10M993.5 898.5l-24 6M1001.5 898.5l-27 1M1001.5 898.5l-23-5M1004.5 897.5l-12-24M1008.5 897.5l23 6M1008.5 897.5l-24-16M1017.5 897.5l26 2M1022.5 896.5l-2-30M1022.5 896.5l16-4M1029.5 895.5l24 6M1029.5 895.5l6 23M1034.5 896.5l19-23M1037.5 899.5l15 11M1037.5 899.5l3 25M1045.5 899.5l8-26M1059.5 896.5l-28 7M1068.5 899.5l-14-9M1068.5 899.5l-28 6M1074.5 898.5l22 15M1078.5 895.5l13-7M1078.5 895.5l15-5M1085.5 896.5l10 19M1085.5 896.5l-20 7M1088.5 894.5l-10-22M1093.5 897.5l15-16M1093.5 897.5l3 16M967.5 903.5l-14 12M967.5 903.5l10 25M974.5 899.5l26 4M981.5 904.5l12 18M981.5 904.5l0-24M984.5 899.5l27 4M993.5 900.5l5 14M993.5 900.5l-10 11M997.5 901.5l-4 21M1000.5 903.5l-16-22M1010.5 900.5l5 21M1010.5 900.5l14-11M1011.5 903.5l22 3M1017.5 902.5l-22-12M1026.5 903.5l-16 11M1026.5 903.5l12 10M1031.5 903.5l24 1M1031.5 903.5l21 19M1035.5 900.5l-6-19M1035.5 900.5l26-10M1043.5 899.5l-10 7M1046.5 902.5l-14 11M1053.5 901.5l-15 12M1053.5 901.5l21 16M1065.5 903.5l-10 24M1065.5 903.5l-11-13M1067.5 901.5l-1 10M1073.5 900.5l17 15M1073.5 900.5l-13 12M1082.5 900.5l9-12M1084.5 901.5l-9 4M1093.5 904.5l-28-1M1099.5 902.5l-6-5M1099.5 902.5l-16-12M966.5 905.5l-19-22M966.5 905.5l-13-3M969.5 904.5l13-21M977.5 907.5l-4 12M977.5 907.5l-13-14M984.5 906.5l-16 4M984.5 906.5l28 2M989.5 908.5l15-11M989.5 908.5l-23-10M992.5 909.5l1 13M992.5 909.5l-22-15M999.5 908.5l24-2M999.5 908.5l-21-15M1004.5 908.5l-23-4M1012.5 908.5l5-26M1016.5 906.5l-26-13M1023.5 906.5l-8-26M1027.5 906.5l-29 5M1027.5 906.5l5 27M1033.5 906.5l-15 8M1040.5 905.5l-22 9M1040.5 905.5l-23-8M1046.5 907.5l-9-20M1055.5 904.5l21 9M1059.5 908.5l-11 24M1069.5 904.5l15 13M1069.5 904.5l-28 8M1075.5 905.5l12-10M1075.5 905.5l-29-3M1076.5 907.5l-6 15M1076.5 907.5l-18-19M1090.5 908.5l-24 12M1100.5 909.5l-15-22M968.5 910.5l15 18M968.5 910.5l16 9M976.5 912.5l-26 8M977.5 913.5l18-23M983.5 911.5l27 3M983.5 911.5l6-29M989.5 912.5l15-15M998.5 911.5l21-19M1001.5 911.5l-20-17M1001.5 911.5l7 20M1010.5 910.5l17-4M1013.5 913.5l12 21M1018.5 912.5l16-24M1024.5 913.5l-12 19M1032.5 913.5l-22-13M1041.5 912.5l-24-10M1041.5 912.5l19 0M1045.5 911.5l-18-5M1052.5 910.5l6-22M1060.5 912.5l6 8M1060.5 912.5l-1 16M1066.5 911.5l-11 16M1071.5 910.5l-6 14M1071.5 910.5l8 25M1076.5 913.5l19 2M1082.5 911.5l11-14M1084.5 909.5l23-9M1090.5 913.5l-8-6M1090.5 913.5l-25 11M1103.5 912.5l-13 25M968.5 914.5l-1 23M971.5 918.5l-28-2M977.5 919.5l-26-14M984.5 918.5l-18 19M984.5 918.5l8 19M987.5 916.5l19 19M987.5 916.5l-16 19M993.5 914.5l8 9M998.5 914.5l8 21M1007.5 917.5l-27 2M1007.5 917.5l-9 6M1010.5 914.5l-26 14M1010.5 914.5l-27-3M1021.5 914.5l-13 17M1028.5 917.5l-20 14M1028.5 917.5l-3 12M1041.5 915.5l-14-9M1044.5 916.5l23-15M1050.5 916.5l26-3M1054.5 914.5l-2 8M1060.5 917.5l-12 25M1067.5 917.5l-12-13M1067.5 917.5l8-27M1074.5 917.5l19-20M1084.5 917.5l-2 30M1084.5 917.5l-13-7M1090.5 915.5l-11 20M1090.5 915.5l4 17M1105.5 917.5l3-27M975.5 921.5l8 7M980.5 919.5l27-2M984.5 919.5l-20-6M984.5 919.5l5 26M993.5 922.5l-16-3M993.5 922.5l8-11M998.5 923.5l3-12M998.5 923.5l24 2M1001.5 923.5l22 14M1015.5 921.5l18-15M1015.5 921.5l-16-13M1017.5 919.5l23 3M1023.5 920.5l-9 19M1023.5 920.5l-24-12M1035.5 919.5l19 20M1035.5 919.5l-13-23M1040.5 922.5l16 21M1052.5 922.5l15-21M1052.5 922.5l7-26M1058.5 921.5l-18 1M1058.5 921.5l12 1M1066.5 920.5l19 3M1066.5 920.5l-7-12M1070.5 922.5l4 29M1070.5 922.5l14-5M1077.5 923.5l-18-15M1077.5 923.5l23-9M1078.5 918.5l12-10M1078.5 918.5l-24-4M1085.5 923.5l-7-5M1093.5 918.5l9 19M1100.5 920.5l-7 20M1110.5 919.5l-8 11M965.5 927.5l9-28M977.5 924.5l13 3M983.5 928.5l-15-14M990.5 927.5l16 8M990.5 927.5l8-13M994.5 925.5l-1-11M994.5 925.5l23-6M1000.5 925.5l12 20M1006.5 927.5l16-2M1009.5 926.5l23 7M1009.5 926.5l-14 14M1019.5 925.5l6 9M1022.5 925.5l-12-11M1022.5 925.5l4-22M1028.5 926.5l-10 25M1028.5 926.5l-10 15M1040.5 924.5l17 6M1045.5 925.5l-5-20M1045.5 925.5l20 14M1048.5 926.5l-25 11M1048.5 926.5l22-4M1055.5 927.5l27 11M1055.5 927.5l12-10M1059.5 928.5l6 27M1065.5 924.5l8-24M1065.5 924.5l-24-9M1074.5 925.5l-26 1M1079.5 928.5l-1 18M1079.5 928.5l3 19M1083.5 925.5l12-17M1083.5 925.5l-9 9M1090.5 927.5l-16-10M1090.5 927.5l23 1M1095.5 924.5l-19-11M1108.5 924.5l21 0M1108.5 924.5l-29 4M1113.5 928.5l6 10M968.5 929.5l-12-15M975.5 933.5l26 12M977.5 928.5l10-12M983.5 928.5l12 19M997.5 930.5l-17-11M997.5 930.5l9-3M1002.5 932.5l21-12M1008.5 931.5l-5 21M1012.5 932.5l6-20M1021.5 932.5l-28-10M1039.5 933.5l-21-19M1039.5 933.5l20-5M1048.5 932.5l3 18M1048.5 932.5l-13 19M1055.5 932.5l19 2M1057.5 930.5l-9-4M1062.5 932.5l-21 10M1062.5 932.5l20 15M1070.5 930.5l12 17M1073.5 932.5l29-2M1073.5 932.5l-8 23M1082.5 931.5l19 23M1086.5 933.5l-11-28M1086.5 933.5l14-24M1094.5 932.5l14 23M1094.5 932.5l-4-17M1098.5 932.5l-8-19M1098.5 932.5l-27 13M1102.5 930.5l21 18M1102.5 930.5l-7 21M1108.5 929.5l15 19M967.5 937.5l-7 9M967.5 937.5l-12-5M971.5 935.5l2 29M975.5 933.5l-22 4M975.5 933.5l6-29M987.5 935.5l-14-11M987.5 935.5l-21 2M992.5 937.5l-16 12M998.5 938.5l-14-19M998.5 938.5l0 28M1006.5 935.5l6 10M1006.5 935.5l17 13M1013.5 933.5l18 21M1013.5 933.5l10-13M1015.5 937.5l-5-27M1015.5 937.5l3-25M1025.5 934.5l-22 18M1025.5 934.5l16-19M1037.5 936.5l-25-4M1050.5 934.5l-20-13M1050.5 934.5l-2 8M1057.5 933.5l15 21M1057.5 933.5l20-10M1061.5 934.5l4-10M1061.5 934.5l9 26M1067.5 936.5l15 11M1074.5 934.5l16 3M1079.5 935.5l16-20M1083.5 934.5l18 20M1083.5 934.5l28 5M1090.5 937.5l1 16M1090.5 937.5l18-13M1102.5 937.5l16 19M1108.5 937.5l-20 4M1108.5 937.5l-7 27M1110.5 933.5l-9 21M982.5 940.5l25 5M983.5 940.5l0-29M983.5 940.5l23-5M993.5 941.5l-13-22M993.5 941.5l2 26M995.5 940.5l8 20M995.5 940.5l-8-24M1003.5 938.5l1 15M1014.5 939.5l3-20M1014.5 939.5l21-10M1018.5 941.5l3 19M1025.5 943.5l3 23M1030.5 941.5l19 20M1030.5 941.5l-11-16M1038.5 941.5l10-9M1041.5 942.5l26-6M1041.5 942.5l24 13M1048.5 942.5l1 25M1054.5 939.5l0 25M1054.5 939.5l-16 5M1056.5 943.5l-26-2M1065.5 939.5l-27 5M1065.5 939.5l11-23M1068.5 940.5l25 0M1068.5 940.5l23 13M1073.5 940.5l-25 2M1073.5 940.5l-25 2M1088.5 941.5l-20 2M1088.5 941.5l-16 13M1093.5 940.5l3-27M1099.5 943.5l-25-9M1102.5 940.5l8-21M1111.5 939.5l-19 20M1116.5 938.5l-3-10M1116.5 938.5l-16-18M974.5 945.5l29-7M985.5 943.5l13-5M989.5 945.5l-29 1M989.5 945.5l14 15M1001.5 945.5l-16 24M1007.5 945.5l6-12M1007.5 945.5l4 25M1012.5 945.5l13 16M1014.5 943.5l6 25M1023.5 943.5l-20 9M1023.5 943.5l27-9M1029.5 944.5l-15 18M1032.5 946.5l-19-13M1038.5 944.5l-20 7M1038.5 944.5l-23-7M1050.5 946.5l-2-14M1056.5 944.5l-10 9M1056.5 944.5l4-27M1063.5 947.5l16-19M1063.5 947.5l-15-21M1068.5 943.5l-10 11M1068.5 943.5l2 17M1071.5 945.5l-18 13M1078.5 946.5l15-6M1078.5 946.5l15-6M1082.5 947.5l-20-15M1082.5 947.5l0-9M1089.5 944.5l-22-8M1095.5 947.5l-16-19M1095.5 947.5l18 21M1104.5 944.5l3 16M1104.5 944.5l3-28M1114.5 943.5l-1 18M1116.5 948.5l-15 0M1116.5 948.5l22-16M971.5 948.5l-29-5M982.5 948.5l-19 18M982.5 948.5l-19 18M987.5 950.5l-13 10M987.5 950.5l-10-26M993.5 951.5l2 27M1003.5 952.5l-5-29M1008.5 952.5l-16 17M1011.5 949.5l-17-24M1018.5 951.5l28-1M1023.5 948.5l11 22M1023.5 948.5l-21-16M1032.5 950.5l-18-11M1035.5 951.5l-19 1M1040.5 951.5l17 23M1046.5 950.5l5 17M1046.5 950.5l10-6M1051.5 950.5l-28-2M1059.5 948.5l-28 6M1059.5 948.5l-10 13M1064.5 951.5l17 1M1064.5 951.5l7-6M1074.5 951.5l16-14M1081.5 952.5l8-8M1081.5 952.5l20-6M1087.5 950.5l-4 25M1087.5 950.5l-5 10M1094.5 951.5l8-28M1095.5 951.5l3-19M1101.5 948.5l12 13M1101.5 948.5l15 4M1110.5 948.5l-16-16M1110.5 948.5l-18 11M1114.5 950.5l-1 18M973.5 956.5l-20-19M975.5 956.5l17-19M980.5 956.5l9-11M980.5 956.5l15-9M996.5 957.5l-20-8M1004.5 953.5l-7-23M1010.5 957.5l22 15M1010.5 957.5l-17-16M1016.5 952.5l21-16M1016.5 952.5l-2 10M1024.5 956.5l-6-5M1026.5 956.5l3-12M1026.5 956.5l-3-13M1031.5 954.5l20 13M1031.5 954.5l8 18M1041.5 956.5l9 28M1041.5 956.5l-15 11M1046.5 953.5l-21-19M1046.5 953.5l3 14M1052.5 953.5l-29-5M1052.5 953.5l16-13M1058.5 954.5l23 2M1058.5 954.5l-1 20M1063.5 956.5l-7-12M1065.5 955.5l-19-5M1065.5 955.5l14-27M1072.5 954.5l19 18M1072.5 954.5l-15 13M1080.5 953.5l-6-28M1080.5 953.5l22-13M1081.5 956.5l-13 25M1093.5 956.5l-6 16M1093.5 956.5l25 2M1101.5 954.5l22-6M1101.5 954.5l-14 18M1108.5 955.5l12-25M1111.5 957.5l-16-10M969.5 958.5l24-17M969.5 958.5l-14-26M974.5 960.5l18-23M980.5 960.5l13-19M980.5 960.5l-18-22M987.5 961.5l0-26M987.5 961.5l-7-5M991.5 957.5l14 16M995.5 959.5l-18 9M995.5 959.5l-22-3M1003.5 960.5l29-1M1009.5 962.5l18 20M1014.5 962.5l-3-13M1025.5 961.5l-9-9M1032.5 959.5l27-11M1032.5 959.5l0 13M1036.5 958.5l12 13M1036.5 958.5l13 3M1040.5 958.5l0 27M1040.5 958.5l-22-7M1049.5 961.5l-17-15M1053.5 958.5l4-25M1056.5 957.5l-17 15M1056.5 957.5l-8-25M1061.5 959.5l6-23M1061.5 959.5l-13-17M1070.5 960.5l-28 2M1070.5 960.5l-3-24M1075.5 961.5l-4-10M1075.5 961.5l7-14M1082.5 960.5l-8 19M1088.5 961.5l-17-10M1092.5 959.5l-14 13M1092.5 959.5l-3-15M1099.5 962.5l-17-15M1101.5 961.5l18-12M1101.5 961.5l-19 5M1107.5 960.5l-1 28M973.5 964.5l25 9M977.5 965.5l-20 15M983.5 962.5l-7-13M991.5 964.5l-21 16M991.5 964.5l-9-16M995.5 967.5l13-15M998.5 966.5l13-17M998.5 966.5l-9-21M1011.5 964.5l12 17M1014.5 966.5l18-20M1014.5 966.5l11-5M1021.5 963.5l0 13M1021.5 963.5l21-1M1028.5 966.5l-12 12M1028.5 966.5l-7 10M1035.5 962.5l22 5M1035.5 962.5l22 12M1037.5 962.5l12 5M1037.5 962.5l13 22M1042.5 962.5l-26-10M1042.5 962.5l17 22M1049.5 967.5l-4 19M1054.5 964.5l-13-22M1063.5 966.5l-17-16M1063.5 966.5l-24 6M1064.5 962.5l-23-6M1074.5 967.5l27-3M1074.5 967.5l-20 18M1076.5 964.5l-27-3M1076.5 964.5l23 9M1082.5 966.5l11 2M1082.5 966.5l-17-11M1091.5 965.5l3 26M1091.5 965.5l10-17M1093.5 963.5l23-15M1101.5 964.5l7-27M977.5 968.5l-15-12M977.5 968.5l10-18M985.5 969.5l-3-29M985.5 969.5l-9-20M992.5 969.5l8-13M1005.5 968.5l-5-12M1011.5 970.5l-22-15M1026.5 967.5l-25 10M1026.5 967.5l4 24M1032.5 972.5l8 4M1032.5 972.5l16 24M1034.5 970.5l-18-18M1034.5 970.5l6-19M1039.5 972.5l-19 10M1048.5 971.5l-27-8M1048.5 971.5l0 25M1051.5 967.5l-5-14M1051.5 967.5l12-20M1057.5 967.5l9 28M1057.5 967.5l22 11M1063.5 972.5l18-16M1071.5 967.5l3-16M1071.5 967.5l-14 7M1073.5 967.5l0-27M1073.5 967.5l9-20M1078.5 972.5l9-22M1087.5 972.5l19 16M1087.5 972.5l14-26M1093.5 968.5l-6-18M1097.5 970.5l2-27M1097.5 970.5l16-2M990.5 974.5l-8-26M993.5 976.5l25 2M1005.5 973.5l-28-5M1005.5 973.5l21-6M1012.5 974.5l22-4M1019.5 975.5l22-19M1019.5 975.5l-10-13M1021.5 976.5l21-14M1026.5 975.5l24 9M1026.5 975.5l-19-10M1032.5 972.5l3 11M1032.5 972.5l-23-10M1040.5 976.5l-17 5M1040.5 976.5l-5-14M1046.5 976.5l27-9M1046.5 976.5l-20-1M1048.5 975.5l-13-13M1057.5 974.5l12 3M1059.5 974.5l14-7M1059.5 974.5l-23-16M1068.5 974.5l24-15M1068.5 974.5l-10 14M1080.5 972.5l21-11M1080.5 972.5l21-11M1091.5 972.5l4 27M995.5 978.5l28 3M1001.5 977.5l-23 5M1001.5 977.5l20-17M1007.5 980.5l22 8M1007.5 980.5l-17-6M1018.5 978.5l-4-16M1018.5 978.5l-8 24M1023.5 981.5l8 23M1032.5 980.5l-21 2M1032.5 980.5l-6 28M1038.5 980.5l11-19M1038.5 980.5l-12-5M1042.5 980.5l12 10M1042.5 980.5l-5-18M1045.5 977.5l-14-23M1051.5 979.5l1-26M1060.5 979.5l9-2M1060.5 979.5l-10 5M1062.5 981.5l5 23M1069.5 977.5l28-7M1079.5 978.5l22 10M1011.5 982.5l-1 20M1011.5 982.5l17-16M1020.5 982.5l-22-9M1027.5 982.5l13-6M1035.5 983.5l5 27M1045.5 986.5l-19 22M1054.5 985.5l3-18M1054.5 985.5l2-28M1059.5 984.5l-5-20M1059.5 984.5l15-17M1068.5 981.5l-12 18M1072.5 984.5l-21-17M1029.5 988.5l3-16M1035.5 989.5l-10-28M1040.5 989.5l17-15M1040.5 989.5l11 23M1046.5 991.5l8-27M1052.5 989.5l-4 7M940.5 904.5l18 23M940.5 904.5l31 14M951.5 905.5l17 24M953.5 902.5l4 7M953.5 902.5l28-8M933.5 916.5l10 0M943.5 916.5l10-1M943.5 916.5l21-3M956.5 914.5l33-6M957.5 909.5l11 20M957.5 909.5l20 10M928.5 917.5l32 1M928.5 917.5l24 13M942.5 923.5l24 14M942.5 923.5l32 7M943.5 916.5l25 6M943.5 916.5l25-6M921.5 932.5l22-16M921.5 932.5l14 11M927.5 927.5l11-6M927.5 927.5l16-11M934.5 928.5l25-9M934.5 928.5l22-14M945.5 926.5l14 13M945.5 926.5l15-8M952.5 930.5l25-11M952.5 930.5l16-1M958.5 927.5l16 11M931.5 934.5l29-16M931.5 934.5l21-4M937.5 931.5l32 8M937.5 931.5l27-18M950.5 935.5l18 9M953.5 937.5l23 12M953.5 937.5l21 8M921.5 944.5l12 4M930.5 941.5l32-3M930.5 941.5l24 5M935.5 943.5l31-6M935.5 943.5l33 1M942.5 943.5l27 15M942.5 943.5l18 3M954.5 946.5l33 4M959.5 939.5l28-4M959.5 939.5l34 2M933.5 948.5l29 8M933.5 948.5l9-5M939.5 954.5l34 2M945.5 954.5l28-12M945.5 954.5l24-15M955.5 952.5l32 9M955.5 952.5l28 10M927.5 953.5l33-7M927.5 953.5l15-10M931.5 956.5l21-26M931.5 956.5l19-21M939.5 958.5l27-21M939.5 958.5l29-14M951.5 957.5l26 8M951.5 957.5l9-11M925.5 969.5l17-26M925.5 969.5l30-17M928.5 966.5l11-8M941.5 966.5l23-9M941.5 966.5l21 7M948.5 967.5l32-7M948.5 967.5l22 5M960.5 960.5l17-17M963.5 966.5l6-8M935.5 968.5l29-11M948.5 975.5l29-10M948.5 975.5l22 5M955.5 967.5l32-6M955.5 967.5l9-10M962.5 973.5l12-28M962.5 973.5l20-25M970.5 972.5l21-15M970.5 972.5l3-8M976.5 975.5l19-16M976.5 975.5l16-6M938.5 976.5l10-9M938.5 976.5l30-10M945.5 983.5l33-1M945.5 983.5l26-2M957.5 980.5l13-8M964.5 981.5l16-21M964.5 981.5l16-25M970.5 980.5l31-3M970.5 980.5l4-20M978.5 982.5l34-8M978.5 982.5l27-9M939.5 984.5l24-18M947.5 985.5l25 0M947.5 985.5l17-28M959.5 986.5l12-5M959.5 986.5l14-22M972.5 985.5l23-18M972.5 985.5l18-11M981.5 983.5l14-16M981.5 983.5l4-14M1002.5 834.5l13 28M1002.5 834.5l7 14M1029.5 832.5l0 32M1029.5 832.5l18 22M1005.5 848.5l-2 15M1006.5 852.5l24 20M1006.5 852.5l1 33M1036.5 853.5l-21 27M1036.5 853.5l-11 32M1047.5 851.5l-6 20M1054.5 851.5l-9 34M1054.5 851.5l-11 32M1002.5 855.5l-8 31M1002.5 855.5l21 18M1047.5 854.5l-2 31M1047.5 854.5l-1 28M1063.5 855.5l2 31M981.5 860.5l-3 33M1088.5 870.5l-17 15M1088.5 870.5l-4 31M956.5 879.5l13 25M956.5 879.5l25 25M1091.5 880.5l-6 16M1095.5 890.5l-13 21M962.5 898.5l22 1M962.5 898.5l22 20M1126.5 911.5l-31-3M1126.5 911.5l-24 12M952.5 932.5l28 5M955.5 932.5l30 11M955.5 932.5l12 5M962.5 938.5l25-22M1119.5 938.5l-24 9M1119.5 938.5l-11-9M942.5 943.5l33 13M942.5 943.5l32-13M960.5 946.5l9-7M960.5 946.5l20-9M1119.5 949.5l-25 2M1119.5 949.5l-32 1M1116.5 952.5l-35 0M1116.5 952.5l-34 8M964.5 957.5l18-9M964.5 957.5l31 2M1118.5 956.5l-27 9M1118.5 956.5l-29-12M968.5 966.5l27-19M1113.5 961.5l-33-8M1115.5 970.5l-16-8M1115.5 970.5l-28-20M975.5 975.5l10-32M1099.5 973.5l-24-12M971.5 981.5l22-5M971.5 981.5l6-13M982.5 977.5l18-21M982.5 977.5l17-7M1030.5 991.5l-4-24M1030.5 991.5l6-33M1073.5 997.5l-19-7M1073.5 997.5l-5-23M1055.5 1004.5l-17-24M1055.5 1004.5l4-20M1037.5 1014.5l3-25M1037.5 1014.5l3-29M955.5 837.5l2 35M961.5 818.5l14 18M991.5 852.5l22 17M992.5 873.5l5 28M855.5 869.5l37-10M850.5 880.5l30 7M861.5 879.5l8 2M957.5 872.5l21 21M938.5 869.5l18 10M958.5 889.5l15 35M964.5 893.5l34 21M880.5 887.5l17 9M930.5 903.5l25 29M920.5 906.5l37 3M872.5 913.5l20 7M862.5 920.5l28 20M881.5 920.5l27 5M909.5 920.5l29 1M865.5 926.5l21-7M904.5 935.5l29 13M890.5 940.5l31-8M928.5 962.5l22-27M916.5 966.5l23-8M933.5 942.5l25-15M942.5 943.5l34 6M943.5 934.5l30 22M935.5 908.5l39-9M950.5 920.5l27-7M966.5 937.5l23 18M1174.5 860.5l-32 22M1142.5 882.5l-7 11M1141.5 882.5l-20 11M1137.5 883.5l-20 26M1160.5 881.5l-23 2M1113.5 865.5l-38 9M1108.5 881.5l-24 28M1107.5 900.5l-17 15M1078.5 872.5l-22 5M1076.5 857.5l-23 24M1035.5 836.5l-17 25M1032.5 843.5l-3 33M1052.5 847.5l10 38M1088.5 900.5l-22 11M1133.5 932.5l-14 6M1165.5 940.5l-22-14M1130.5 963.5l-29-9M1147.5 974.5l-17-11M1166.5 978.5l-28-7M1138.5 971.5l-39 2M1115.5 980.5l-22-17M1118.5 958.5l-23-11M1113.5 968.5l-18-17M876.5 1140.5l12-25M888.5 1115.5l13-24M901.5 1091.5l11-10M935.5 1063.5l0-33M948.5 1050.5l22-33M1010.5 1002.5l1-32M876.5 1140.5l12-25M933.5 1040.5l6-19M919.5 1053.5l14-13M935.5 1030.5l12-24M977.5 1017.5l8-27M976.5 1015.5l34-13M980.5 1046.5l12-8M983.5 1024.5l12-16M1003.5 1022.5l28-18M1007.5 1016.5l22-28M970.5 1017.5l1-36M957.5 1018.5l8-27M964.5 1029.5l19-5M975.5 1015.5l35-13M955.5 997.5l15-17M919.5 992.5l28-7M915.5 986.5l13-24M954.5 988.5l17-7M979.5 1000.5l8-39M1022.5 1039.5l0-30M1036.5 1035.5l19-31M1065.5 1023.5l2-19M1048.5 1054.5l2-36M1102.5 1055.5l-27-11M1042.5 1053.5l-4-36M1028.5 1029.5l2-38M1070.5 1040.5l-1-9M1075.5 1044.5l-10-21M1078.5 1040.5l-28-22M1068.5 1013.5l-18-29M1066.5 995.5l-34-15M1069.5 1031.5l4-34M1078.5 1058.5l-8-6M1075.5 1051.5l10-38M1078.5 1003.5l-33-17M1109.5 1004.5l-36-7M1095.5 999.5l-15-27M1140.5 1006.5l-28-14M1122.5 1002.5l-23-29M1112.5 992.5l-34-20M1022.5 1009.5l10-37M1058.5 1006.5l10-32M1092.5 999.5l-16-35M1084.5 1001.5l-10-34M1090.5 995.5l-31-11M943.5 860.5l29 1M992.5 873.5l15 12M1007.5 855.5l4 22M938.5 869.5l18 10M957.5 872.5l18 16M872.5 872.5l8 15M971.5 896.5l13 22M888.5 916.5l10 2M916.5 922.5l15 12M899.5 944.5l22 0M900.5 943.5l28-1M930.5 975.5l18-8M943.5 934.5l25-12M953.5 915.5l24-2M938.5 921.5l22-3M1113.5 904.5l-23 9M1129.5 902.5l-9 10M1121.5 893.5l-14 23M1107.5 900.5l-14 18M1087.5 895.5l-28 1M1070.5 893.5l-10 24M1062.5 876.5l0 9M1012.5 852.5l3 18M1035.5 853.5l2 22M1050.5 857.5l-18 20M1055.5 858.5l-13 11M1088.5 900.5l-14-2M1151.5 909.5l-18 23M1130.5 963.5l-20-15M1138.5 971.5l-19-22M1115.5 980.5l-14-16M1010.5 1002.5l9-27M876.5 1140.5l12-25M948.5 1050.5l16-21M1010.5 1007.5l1-25M935.5 1030.5l4-9M995.5 1008.5l12-28M1010.5 1042.5l-3-26M1007.5 1016.5l3-14M992.5 1038.5l15-22M975.5 1015.5l20-7M968.5 1001.5l3-20M954.5 988.5l10-7M985.5 990.5l13-24M1065.5 1023.5l-17-15M1010.5 1049.5l12-10M1102.5 1055.5l-27-11M1042.5 1053.5l-6-18M1040.5 1010.5l12-21M1048.5 996.5l-16-24M1066.5 995.5l-21-18M1069.5 1031.5l-2-27M1075.5 1051.5l-6-20M1078.5 1003.5l-20-15M1095.5 999.5l-29-4M1103.5 1002.5l-11-3M1101.5 988.5l-4-18M1031.5 1004.5l-2-16M1054.5 990.5l-12-10M1094.5 991.5l-11-16M899.5 822.5l11 13M915.5 844.5l7 6M925.5 848.5l3 11M928.5 859.5l7-5M953.5 822.5l2 15M963.5 850.5l8 4M964.5 857.5l8 4M961.5 818.5l14 18M975.5 836.5l13 16M985.5 830.5l6 22M1008.5 836.5l-1 19M822.5 875.5l17 2M839.5 877.5l9-2M855.5 869.5l12-3M867.5 866.5l16-3M883.5 863.5l9-4M892.5 859.5l15 8M907.5 867.5l7-4M914.5 863.5l24 6M850.5 880.5l11-1M859.5 882.5l10-1M880.5 887.5l54-11M934.5 876.5l23-4M872.5 872.5l-19 3M904.5 853.5l7 4M911.5 857.5l11 1M922.5 858.5l16-2M950.5 868.5l-12 1M938.5 869.5l9 14M947.5 883.5l11 6M880.5 887.5l7 25M897.5 896.5l13 3M910.5 899.5l20 4M931.5 902.5l-11 4M918.5 910.5l9 4M826.5 921.5l8-3M834.5 918.5l15 1M848.5 922.5l8-12M856.5 910.5l16 3M872.5 913.5l-10 7M868.5 919.5l13 1M902.5 918.5l7 2M908.5 925.5l8-3M865.5 926.5l10 7M875.5 933.5l29 2M904.5 935.5l-14 5M890.5 940.5l9 4M858.5 964.5l22-8M880.5 956.5l18-12M898.5 959.5l30-3M928.5 962.5l-12 4M916.5 966.5l-26 8M890.5 974.5l13-4M903.5 970.5l4 10M907.5 980.5l23-5M942.5 943.5l1-9M943.5 910.5l10-1M953.5 909.5l11 4M953.5 915.5l1 7M1194.5 848.5l-20 12M1174.5 860.5l-15 9M1159.5 869.5l-13 8M1137.5 883.5l-16 10M1121.5 893.5l-8 11M1189.5 867.5l-7 3M1182.5 870.5l-22 11M1160.5 881.5l-25 12M1133.5 896.5l-4 6M1116.5 858.5l-3 7M1103.5 875.5l5 6M1108.5 881.5l13 12M1108.5 890.5l-1 10M1095.5 878.5l-8 17M1088.5 851.5l-10 21M1078.5 872.5l-8 21M1076.5 857.5l-10 16M1008.5 836.5l1 12M1035.5 836.5l-3 7M1032.5 843.5l3 10M1052.5 847.5l-2 10M1151.5 909.5l-22 15M1125.5 928.5l18-2M1143.5 926.5l-10 6M1143.5 936.5l-2 7M1141.5 943.5l16-3M1157.5 940.5l8 0M1130.5 963.5l-10 1M1120.5 964.5l18-9M1138.5 955.5l13 2M1151.5 957.5l9 0M1147.5 974.5l11 1M1158.5 975.5l7 1M1166.5 978.5l-28-7M1129.5 979.5l-14 1M1113.5 905.5l19 0M1132.5 905.5l-12 7M1120.5 912.5l-13 4M1118.5 958.5l-5 10M1113.5 968.5l10-20M875.5 1157.5l1-17M876.5 1140.5l12-25M888.5 1115.5l11-18M901.5 1091.5l5-7M906.5 1084.5l6-3M912.5 1081.5l23-18M935.5 1063.5l8-6M943.5 1057.5l5-7M948.5 1050.5l30-19M978.5 1031.5l17-23M995.5 1008.5l15-6M865.5 1151.5l11-11M948.5 1050.5l-15-10M933.5 1040.5l-15 2M912.5 1038.5l3 12M919.5 1053.5l-2-9M933.5 1040.5l77-33M935.5 1030.5l-23 8M935.5 1030.5l42-13M976.5 1015.5l19-7M948.5 1050.5l32-4M980.5 1046.5l12-3M992.5 1043.5l7 0M999.5 1043.5l11-1M984.5 1052.5l8-14M992.5 1038.5l-9-14M983.5 1024.5l19 4M992.5 1038.5l-22-21M963.5 1009.5l-6 9M957.5 1018.5l-24 22M964.5 1029.5l11-14M939.5 1021.5l8-15M947.5 1006.5l-13 6M934.5 1012.5l15-12M955.5 997.5l7-3M965.5 991.5l3 10M907.5 992.5l12 0M919.5 992.5l-4-6M915.5 986.5l17 1M938.5 992.5l16-4M1000.5 1043.5l22-4M1022.5 1039.5l14-4M1036.5 1035.5l11-5M1047.5 1030.5l18-7M1010.5 1049.5l10 0M1020.5 1049.5l22 4M1048.5 1054.5l22-2M1075.5 1051.5l27 4M1102.5 1055.5l12 1M1114.5 1056.5l24 12M1102.5 1055.5l10 10M1041.5 1062.5l1-9M1022.5 1039.5l6-10M1028.5 1029.5l10-12M1059.5 1033.5l-9-15M1048.5 1008.5l0-12M1070.5 1052.5l0-12M1078.5 1040.5l-5-14M1068.5 1013.5l-1-9M1067.5 1004.5l-1-9M1078.5 1058.5l-3-7M1085.5 1013.5l-7-10M1124.5 1017.5l-15-13M1109.5 1004.5l-14-5M1108.5 1010.5l-5-8M1140.5 1006.5l-18-4M1056.5 999.5l-2-9M1092.5 999.5l-8 2M1084.5 1001.5l6-6" class="e"/>
<path class="nb" d="M1008.5 897.5h0"/>
<path class="no" d="M1111.5 957.5l-36 4 44 40-120-31 30-138-52 30 44 114-22-90"/>
<path class="nb" d="M1117.5 909.5h0"/>
<path class="no" d="M1075.5 874.5l-61 88-7-40"/>
<path class="nb" d="M1074.5 925.5h0"/>
<path class="no" d="M1000.5 903.5h0"/>
<path class="nb" d="M916.5 966.5h0"/>
<path class="no" d="M1034.5 970.5l-130-35 87 22"/>
<path class="nb" d="M1132.5 905.5h0"/>
<path class="no" d="M971.5 948.5l25 9 134 6-84-13 76 52-54-131"/>
<path class="nb" d="M983.5 874.5h0"/>
<path class="no" d="M1018.5 912.5l-40 119 61-175"/>
<path class="nb" d="M1108.5 929.5h0"/>
<path class="no" d="M1054.5 851.5l-17 24 0 87"/>
<path class="nb" d="M1007.5 965.5l-148-83"/>
<path class="no" d="M1082.5 938.5h0"/>
<path class="nb" d="M890.5 940.5h0"/>
<path class="no" d="M1070.5 893.5h0"/>
<path class="ng" d="M939.5 984.5h0"/>
<path class="no" d="M1012.5 974.5h0"/>
<path class="nb" d="M1046.5 976.5h0"/>
<path class="no" d="M995.5 940.5l28-34"/>
<path class="nb" d="M1125.5 928.5h0"/>
<path class="no" d="M1035.5 983.5l56-30-114-10-57-37 110 35"/>
<path class="ng" d="M966.5 937.5h0"/>
<path class="no" d="M1059.5 974.5h0"/>
<path class="nb" d="M1011.5 877.5l-130 43 187-27"/>
<path class="no" d="M1108.5 1010.5l-135-54 56-75 21 103 34-67-5 11"/>
<path class="nb" d="M1015.5 862.5h0"/>
<path class="no" d="M1093.5 956.5h0"/>
<path class="ng" d="M1189.5 867.5l-209 93"/>
<path class="no" d="M983.5 962.5l-12-27-7-42"/>
<path class="nb" d="M1051.5 967.5l-52-101"/>
<path class="no" d="M1007.5 1016.5l-8-108 83 3-53-47"/>
<path class="nb" d="M1019.5 975.5h0"/>
<path class="no" d="M1123.5 948.5h0"/>
<path class="nb" d="M1061.5 873.5h0"/>
<path class="no" d="M969.5 904.5h0"/>
<path class="ng" d="M1137.5 883.5l-83 81"/>
<path class="nb" d="M1004.5 953.5h0"/>
<path class="no" d="M941.5 966.5l26-63 40-43-18 85"/>
<path class="ng" d="M968.5 944.5h0"/>
<path class="nb" d="M915.5 986.5h0"/>
<path class="no" d="M998.5 863.5l6 7 27-15 43 14"/>
<path class="nb" d="M1018.5 861.5h0"/>
<path class="ng" d="M880.5 887.5h0"/>
<path class="no" d="M1018.5 978.5l27-132 19 105-71 25 67-99-123 54"/>
<path class="nb" d="M1057.5 967.5h0"/>
<path class="no" d="M1068.5 940.5l-6-48 40 48"/>
<path class="nb" d="M1143.5 926.5h0"/>
<path class="no" d="M1035.5 918.5l-102-2 91 40 67-76-102-12-83 216 81-168 23 86-26 50 5-144 17-52 31 158"/>
<path class="ng" d="M976.5 975.5h0"/>
<path class="no" d="M1000.5 925.5l62 7-140-82 182 94-22-37-72 142"/>
<path class="nb" d="M969.5 939.5h0"/>
<path class="no" d="M960.5 918.5l-30 23"/>
<path class="ng" d="M1038.5 980.5h0"/>
<path class="no" d="M1079.5 978.5h0"/>
<path class="nb" d="M982.5 977.5h0"/>
<path class="no" d="M1051.5 950.5l20-40-174-14 263 61-137-9 17 10 62-37-60-29"/>
<path class="nb" d="M947.5 1006.5l-8-48"/>
<path class="no" d="M974.5 899.5l3 118"/>
<path class="ng" d="M1017.5 875.5h0"/>
<path class="nb" d="M948.5 967.5l106-53-54-39"/>
<path class="no" d="M1093.5 968.5l-171-110 120 11-135 111 217 37"/>
<path class="nb" d="M1118.5 958.5h0"/>
<path class="no" d="M1099.5 943.5h0"/>
<path class="nb" d="M1116.5 858.5h0"/>
<path class="no" d="M1048.5 871.5h0"/>
<path class="nb" d="M975.5 836.5h0"/>
<path class="no" d="M1070.5 960.5l-81-31"/>
<path class="ng" d="M1040.5 924.5h0"/>
<path class="no" d="M872.5 913.5l103 62 84-79-1 58"/>
<path class="nb" d="M1095.5 890.5h0"/>
<path class="no" d="M1119.5 994.5l-147-133-3 97 46-78-39-6-84 46 145 16 64 52-40-54-53-98"/>
<path class="nb" d="M1090.5 927.5l-5-40"/>
<path class="no" d="M987.5 887.5h0"/>
<path class="nb" d="M888.5 916.5h0"/>
<path class="no" d="M1150.5 1010.5l-62-140 94 0-234 105 68 3"/>
<path class="nb" d="M947.5 985.5h0"/>
<path class="no" d="M1062.5 876.5h0"/>
<path class="nb" d="M918.5 910.5h0"/>
<path class="no" d="M1003.5 952.5l-36-15 34-39 75 9"/>
<path class="nb" d="M869.5 881.5h0"/>
<path class="ng" d="M1133.5 896.5h0"/>
<path class="nb" d="M1012.5 932.5h0"/>
<path class="no" d="M1035.5 951.5l10-16"/>
<path class="nb" d="M945.5 954.5h0"/>
<path class="no" d="M1039.5 868.5h0"/>
<path class="nb" d="M1081.5 952.5h0"/>
<path class="no" d="M1084.5 901.5l-48 57-33-20 25-12 55 8 18 12-91 11 47 17 30-24-9-78"/>
<path class="nb" d="M1083.5 890.5h0"/>
<path class="no" d="M1053.5 881.5l48 80"/>
<path class="nb" d="M1000.5 956.5h0"/>
<path class="no" d="M1011.5 970.5l63-72-42 82-14-29 71-7-135 2"/>
<path class="nb" d="M875.5 1157.5h0"/>
<path class="no" d="M1073.5 900.5h0"/>
<path class="ng" d="M1082.5 900.5h0"/>
<path class="no" d="M1129.5 924.5h0"/>
<path class="nb" d="M1010.5 910.5h0"/>
<path class="no" d="M1093.5 890.5l-86 90-22 10"/>
<path class="nb" d="M959.5 939.5h0"/>
<path class="no" d="M970.5 897.5l95 58 20-59-93-23-54-4 44 71 23 28"/>
<path class="nb" d="M998.5 914.5h0"/>
<path class="no" d="M1110.5 919.5h0"/>
<path class="ng" d="M1051.5 1012.5h0"/>
<path class="nb" d="M1053.5 873.5h0"/>
<path class="no" d="M1095.5 947.5l-110-57"/>
<path class="nb" d="M954.5 922.5h0"/>
<path class="no" d="M976.5 894.5h0"/>
<path class="nb" d="M1032.5 972.5h0"/>
<path class="no" d="M993.5 900.5h0"/>
<path class="nb" d="M916.5 922.5l166 44"/>
<path class="no" d="M1109.5 1004.5l-113-54-3-52"/>
<path class="nb" d="M985.5 943.5h0"/>
<path class="no" d="M1054.5 990.5l-5-69-46-58"/>
<path class="nb" d="M871.5 1164.5l150-204"/>
<path class="no" d="M1056.5 869.5l37 49-48-19"/>
<path class="ng" d="M1103.5 875.5h0"/>
<path class="nb" d="M1010.5 856.5h0"/>
<path class="ng" d="M942.5 943.5h0"/>
<path class="no" d="M995.5 959.5l121-11"/>
<path class="nb" d="M938.5 976.5h0"/>
<path class="no" d="M953.5 937.5l103-34-21 86-107-72 36 64 124-96 28 67-46-22-64-3 62 54-19-14-140-47 182 52-114-44-60 116 173-49"/>
<path class="nb" d="M861.5 879.5l176 20"/>
<path class="ng" d="M1113.5 928.5h0"/>
<path class="nb" d="M984.5 928.5l-68-90"/>
<path class="no" d="M1050.5 934.5l-107-18 82-60 36 34-26-37"/>
<path class="nb" d="M1067.5 1004.5h0"/>
<path class="no" d="M1009.5 926.5l90-24"/>
<path class="nb" d="M978.5 893.5h0"/>
<path class="no" d="M1094.5 991.5h0"/>
<path class="nb" d="M925.5 969.5l95-89"/>
<path class="no" d="M1118.5 956.5l-44 16-60-33"/>
<path class="ng" d="M965.5 991.5h0"/>
<path class="no" d="M1032.5 946.5l-38-62 58 26"/>
<path class="nb" d="M858.5 964.5h0"/>
<path class="no" d="M1001.5 945.5l-62 9 59-16-35-88 134 120"/>
<path class="nb" d="M991.5 964.5h0"/>
<path class="no" d="M943.5 916.5l85 1-145-54 146 125 20-103-177-13 87 47"/>
<path class="nb" d="M1107.5 916.5h0"/>
<path class="ng" d="M1056.5 944.5l-46-30"/>
<path class="no" d="M1129.5 902.5h0"/>
<path class="ng" d="M1020.5 982.5h0"/>
<path class="nb" d="M939.5 1021.5h0"/>
<path class="ng" d="M928.5 942.5h0"/>
<path class="nb" d="M1032.5 913.5l142-53"/>
<path class="no" d="M1010.5 942.5l2-90 76 109-158 14 143-35-92-36-13 6"/>
<path class="nb" d="M1102.5 869.5h0"/>
<path class="no" d="M935.5 1030.5l101-177"/>
<path class="ng" d="M1101.5 954.5h0"/>
<path class="no" d="M907.5 867.5l21 95 185-57-40 92-69-89 41 69"/>
<path class="nb" d="M950.5 868.5h0"/>
<path class="no" d="M1138.5 971.5h0"/>
<path class="nb" d="M848.5 922.5h0"/>
<path class="no" d="M1012.5 945.5h0"/>
<path class="ng" d="M1122.5 953.5h0"/>
<path class="no" d="M1048.5 932.5l-180-13"/>
<path class="ng" d="M977.5 907.5h0"/>
<path class="no" d="M962.5 973.5h0"/>
<path class="ng" d="M993.5 859.5h0"/>
<path class="no" d="M980.5 937.5l161 6-158 81 53 11-57-35-51-141 229 81-88 91-106-65 83-13 45-65"/>
<path class="nb" d="M1078.5 972.5l-28-77"/>
<path class="no" d="M1040.5 1010.5l-25-89 1 31 92-62-76 69 103-66-93 160-2-68-31-23-4-69 76 63"/>
<path class="ng" d="M964.5 1029.5l124-88"/>
<path class="nb" d="M1057.5 933.5l-95 61"/>
<path class="no" d="M1138.5 1068.5h0"/>
<path class="nb" d="M984.5 862.5h0"/>
<path class="no" d="M1028.5 1029.5l-18-22 19-112-4 66 89-18-292-68 286 62"/>
<path class="nb" d="M950.5 935.5h0"/>
<path class="no" d="M984.5 919.5l58 43-67-29 36 16"/>
<path class="nb" d="M977.5 895.5h0"/>
<path class="no" d="M1151.5 957.5l-95 42-30-112"/>
<path class="ng" d="M998.5 973.5h0"/>
<path class="nb" d="M1014.5 943.5l127-61"/>
<path class="no" d="M1038.5 913.5l2 63-11-46"/>
<path class="nb" d="M931.5 934.5h0"/>
<path class="no" d="M1095.5 951.5l-11 50-58-136"/>
<path class="nb" d="M1108.5 881.5h0"/>
<path class="no" d="M1063.5 956.5l-56-101-41 50 137 97"/>
<path class="ng" d="M1059.5 928.5h0"/>
<path class="no" d="M1047.5 854.5l-6 208 44-183-26 69-43-42"/>
<path class="nb" d="M1047.5 1030.5h0"/>
<path class="no" d="M991.5 862.5l32 81-63 3-62-28 47 65"/>
<path class="nb" d="M1048.5 942.5h0"/>
<path class="ng" d="M1063.5 966.5h0"/>
<path class="no" d="M1114.5 1056.5l-20-118"/>
<path class="nb" d="M834.5 918.5h0"/>
<path class="no" d="M1087.5 895.5l-75 13 155 48"/>
<path class="ng" d="M964.5 957.5l65-81"/>
<path class="no" d="M975.5 956.5l98-24 21 0-70-42-35 9"/>
<path class="nb" d="M1100.5 914.5h0"/>
<path class="no" d="M1074.5 951.5l-117 67 68-84"/>
<path class="ng" d="M940.5 904.5h0"/>
<path class="no" d="M1028.5 892.5l-56-12"/>
<path class="nb" d="M1143.5 1011.5l-162-28"/>
<path class="no" d="M1008.5 931.5l68-18"/>
<path class="ng" d="M1051.5 979.5h0"/>
<path class="no" d="M1069.5 977.5l21-40-65 6-82-33 34 3 58 16-116 124 156-2-144-149"/>
<path class="nb" d="M1067.5 1034.5h0"/>
<path class="no" d="M957.5 872.5h0"/>
<path class="nb" d="M1076.5 916.5h0"/>
<path class="no" d="M1071.5 1017.5l-33-76-64 19-17 20 44-57"/>
<path class="nb" d="M945.5 926.5h0"/>
<path class="ng" d="M1032.5 972.5h0"/>
<path class="no" d="M966.5 898.5l99-14-52 2 116 93-136-65 30 6-50 4-23-4"/>
<path class="nb" d="M1070.5 880.5h0"/>
<path class="no" d="M984.5 906.5h0"/>
<path class="ng" d="M1101.5 948.5h0"/>
<path class="nb" d="M1031.5 954.5l1-29"/>
<path class="no" d="M962.5 938.5l41-69"/>
<path class="ng" d="M1048.5 971.5h0"/>
<path class="no" d="M995.5 1008.5l54-47-81-32 56-40"/>
<path class="ng" d="M1080.5 972.5h0"/>
<path class="no" d="M1049.5 870.5l31 15-224 25 190 81-58-139-15 112 19-96 67 40 87 99"/>
<path class="nb" d="M984.5 918.5h0"/>
<path class="no" d="M1002.5 932.5l1 28 68 7-141-64"/>
<path class="nb" d="M1005.5 848.5h0"/>
<path class="no" d="M918.5 1042.5l156-162-39 20"/>
<path class="nb" d="M1048.5 996.5l-150-52 49-81 108 141"/>
<path class="no" d="M1057.5 884.5l-19 133-137 74 79-135 106-23 27-29"/>
<path class="nb" d="M905.5 990.5h0"/>
<path class="no" d="M1088.5 1005.5l-56-162-33 200-52-160"/>
<path class="nb" d="M971.5 854.5h0"/>
<path class="no" d="M1146.5 877.5l-133-8 41 21"/>
<path class="ng" d="M1066.5 873.5h0"/>
<path class="no" d="M983.5 911.5l8-59 167 123"/>
<path class="nb" d="M1069.5 1022.5l-179-48"/>
<path class="no" d="M993.5 868.5l106 105-57 7 17-114 21 87-65-16 66-54-58-10-28 17-39 24 89 72 39-104"/>
<path class="nb" d="M1068.5 899.5h0"/>
<path class="no" d="M958.5 927.5l18-15 62-50-8 10"/>
<path class="ng" d="M1022.5 1009.5h0"/>
<path class="no" d="M1064.5 962.5h0"/>
<path class="nb" d="M1061.5 854.5h0"/>
<path class="no" d="M1024.5 913.5l-53-17 131 27-105 7 58-72 35 55-27 34"/>
<path class="nb" d="M942.5 923.5h0"/>
<path class="no" d="M1021.5 914.5l-7 52 71 47-111-75"/>
<path class="nb" d="M955.5 997.5l4-11"/>
<path class="no" d="M1112.5 1065.5l-121-187 85 86-41-45 21-42-78-1"/>
<path class="ng" d="M993.5 951.5h0"/>
<path class="no" d="M963.5 1009.5l11-64"/>
<path class="ng" d="M1032.5 950.5h0"/>
<path class="no" d="M1044.5 916.5l-25-24-104-48"/>
<path class="nb" d="M928.5 966.5h0"/>
<path class="no" d="M1039.5 861.5h0"/>
<path class="ng" d="M934.5 928.5h0"/>
<path class="nb" d="M1168.5 938.5l-236 49"/>
<path class="no" d="M955.5 967.5l72 15"/>
<path class="ng" d="M1108.5 867.5h0"/>
<path class="no" d="M1027.5 906.5l-123-53-65 24 235 90 33-7"/>
<path class="ng" d="M1022.5 896.5h0"/>
<path class="no" d="M1011.5 964.5h0"/>
<path class="nb" d="M980.5 919.5h0"/>
<path class="no" d="M1052.5 989.5l-27-60 90 41-75 19"/>
<path class="nb" d="M962.5 898.5h0"/>
<path class="no" d="M1194.5 848.5l-168 108-119 36 101-156"/>
<path class="nb" d="M1060.5 870.5l-43 32"/>
<path class="no" d="M1002.5 855.5h0"/>
<path class="nb" d="M1041.5 942.5l-51-15"/>
<path class="no" d="M1066.5 995.5l0-75-96 97 105-112"/>
<path class="nb" d="M1060.5 912.5l-53-27"/>
<path class="no" d="M1062.5 981.5l-30 27"/>
<path class="nb" d="M975.5 863.5h0"/>
<path class="no" d="M995.5 978.5l70-54"/>
<path class="ng" d="M1135.5 982.5h0"/>
<path class="nb" d="M976.5 1015.5l-19-106"/>
<path class="ng" d="M974.5 930.5h0"/>
<path class="no" d="M1002.5 882.5l-48 106"/>
<path class="nb" d="M1058.5 988.5h0"/>
<path class="no" d="M995.5 967.5h0"/>
<path class="nb" d="M865.5 926.5h0"/>
<path class="no" d="M1045.5 945.5l-157 170-21-249 144 116 49-3-28-46 61 7-39-1-178 201 170-238-84 54"/>
<path class="nb" d="M1085.5 923.5h0"/>
<path class="no" d="M1021.5 932.5l-28-10 1 3 122 13-173-78 145-9-96 187 58-122-19 88 18-144-26 77"/>
<path class="nb" d="M1061.5 959.5h0"/>
<path class="no" d="M1061.5 1010.5h0"/>
<path class="nb" d="M862.5 920.5l123 49"/>
<path class="ng" d="M942.5 943.5h0"/>
<path class="no" d="M1113.5 968.5h0"/>
<path class="nb" d="M981.5 880.5h0"/>
<path class="no" d="M1115.5 980.5l-48-63 71 38-207 1-6-108 115 57 8 70"/>
<path class="ng" d="M1058.5 1006.5h0"/>
<path class="no" d="M952.5 998.5l126-119"/>
<path class="nb" d="M875.5 933.5h0"/>
<path class="no" d="M984.5 899.5l71 5-169 15 188 15"/>
<path class="nb" d="M1070.5 1052.5h0"/>
<path class="ng" d="M960.5 960.5h0"/>
<path class="no" d="M1028.5 966.5l-30 0"/>
<path class="nb" d="M1083.5 975.5h0"/>
<path class="no" d="M1072.5 954.5l-137-11"/>
<path class="nb" d="M972.5 985.5h0"/>
<path class="no" d="M1042.5 857.5l61 55"/>
<path class="nb" d="M993.5 941.5h0"/>
<path class="no" d="M1085.5 894.5l-107-21 135 197-178-7-1-187"/>
<path class="nb" d="M938.5 856.5h0"/>
<path class="no" d="M1070.5 922.5l-32-30-12 11 39 36"/>
<path class="nb" d="M1138.5 932.5l-75 40"/>
<path class="no" d="M1140.5 1006.5l-26-56"/>
<path class="nb" d="M1041.5 956.5h0"/>
<path class="ng" d="M1151.5 909.5h0"/>
<path class="nb" d="M955.5 952.5h0"/>
<path class="no" d="M1094.5 951.5h0"/>
<path class="nb" d="M869.5 884.5h0"/>
<path class="no" d="M1106.5 988.5l-41-121-109 12"/>
<path class="nb" d="M1054.5 985.5h0"/>
<path class="no" d="M908.5 925.5l115 56-88-127"/>
<path class="nb" d="M1068.5 1013.5l-49-88 114 7"/>
<path class="no" d="M983.5 928.5l112-13"/>
<path class="nb" d="M1038.5 944.5l-83-107"/>
<path class="no" d="M975.5 1015.5l151-101 46 45-82-51"/>
<path class="nb" d="M1017.5 919.5h0"/>
<path class="no" d="M1037.5 887.5h0"/>
<path class="nb" d="M927.5 953.5h0"/>
<path class="no" d="M1035.5 962.5h0"/>
<path class="nb" d="M1032.5 877.5h0"/>
<path class="ng" d="M1043.5 899.5h0"/>
<path class="no" d="M853.5 875.5h0"/>
<path class="ng" d="M1050.5 907.5h0"/>
<path class="no" d="M1117.5 1070.5l-27-155"/>
<path class="nb" d="M875.5 1161.5h0"/>
<path class="no" d="M928.5 956.5l144 28-90 16"/>
<path class="nb" d="M902.5 918.5h0"/>
<path class="no" d="M1071.5 951.5l-66 22-25 73 85-160-37-33 25 105"/>
<path class="nb" d="M1001.5 977.5l118-39"/>
<path class="no" d="M1018.5 941.5l22 10 20-34 52 75"/>
<path class="ng" d="M1165.5 940.5h0"/>
<path class="no" d="M940.5 909.5l155-31"/>
<path class="ng" d="M992.5 969.5h0"/>
<path class="no" d="M1031.5 867.5h0"/>
<path class="nb" d="M1046.5 882.5h0"/>
<path class="no" d="M1058.5 888.5h0"/>
<path class="nb" d="M1073.5 1026.5l-67-174"/>
<path class="no" d="M1069.5 904.5h0"/>
<path class="nb" d="M1147.5 974.5h0"/>
<path class="no" d="M1165.5 976.5l-113-129"/>
<path class="nb" d="M1066.5 911.5h0"/>
<path class="ng" d="M983.5 940.5h0"/>
<path class="no" d="M915.5 1050.5h0"/>
<path class="nb" d="M1051.5 861.5h0"/>
<path class="ng" d="M968.5 1001.5h0"/>
<path class="no" d="M987.5 961.5l5 82 100-44-53-27"/>
<path class="nb" d="M982.5 883.5h0"/>
<path class="no" d="M1100.5 920.5l-22 120-75-18"/>
<path class="nb" d="M849.5 919.5h0"/>
<path class="no" d="M938.5 869.5l51 13"/>
<path class="nb" d="M997.5 901.5h0"/>
<path class="no" d="M968.5 914.5l-69 183 15-234 154 80"/>
<path class="ng" d="M1048.5 1008.5h0"/>
<path class="no" d="M980.5 865.5l98 53-93-88 9 56-61 154 34-198-33 170 27-176 160 57"/>
<path class="ng" d="M1095.5 924.5h0"/>
<path class="nb" d="M990.5 893.5h0"/>
<path class="no" d="M1015.5 870.5l33 56 118 52-70-65-183 127 150-185-33 136-52-122"/>
<path class="nb" d="M899.5 944.5l54-35"/>
<path class="no" d="M1083.5 925.5l-57 42 11-95 41 74-107 35 18-69 33 13"/>
<path class="nb" d="M1052.5 922.5h0"/>
<path class="no" d="M973.5 942.5l120-38-26 32-60-61 64 70 28 17"/>
<path class="nb" d="M1050.5 1018.5h0"/>
<path class="no" d="M1111.5 939.5h0"/>
<path class="nb" d="M951.5 957.5h0"/>
<path class="no" d="M967.5 1014.5h0"/>
<path class="nb" d="M1076.5 857.5h0"/>
<path class="no" d="M1119.5 949.5h0"/>
<path class="nb" d="M903.5 970.5h0"/>
<path class="no" d="M1095.5 908.5h0"/>
<path class="nb" d="M1041.5 871.5h0"/>
<path class="no" d="M998.5 873.5h0"/>
<path class="nb" d="M970.5 972.5h0"/>
<path class="no" d="M982.5 995.5l24-60"/>
<path class="nb" d="M921.5 932.5l43-19"/>
<path class="no" d="M1030.5 921.5l71 43"/>
<path class="nb" d="M887.5 912.5h0"/>
<path class="no" d="M1017.5 882.5l93 51-60 13 2 7 61 8"/>
<path class="nb" d="M953.5 915.5h0"/>
<path class="no" d="M1090.5 884.5h0"/>
<path class="nb" d="M900.5 943.5l27-16"/>
<path class="no" d="M1026.5 1008.5l-12-151"/>
<path class="nb" d="M971.5 918.5h0"/>
<path class="ng" d="M1045.5 911.5h0"/>
<path class="nb" d="M880.5 956.5h0"/>
<path class="no" d="M1034.5 888.5l41 2-85 84 25-92"/>
<path class="nb" d="M1033.5 906.5h0"/>
<path class="no" d="M1059.5 984.5h0"/>
<path class="nb" d="M935.5 968.5h0"/>
<path class="no" d="M952.5 932.5l37-67 57 25"/>
<path class="nb" d="M983.5 869.5h0"/>
<path class="no" d="M985.5 885.5l-37 165"/>
<path class="nb" d="M977.5 924.5l195 15-52 25"/>
<path class="no" d="M911.5 857.5l145 100"/>
<path class="ng" d="M953.5 902.5l-18 6"/>
<path class="no" d="M1074.5 979.5h0"/>
<path class="nb" d="M1084.5 909.5h0"/>
<path class="no" d="M977.5 965.5l125 90-7-56-27-25"/>
<path class="nb" d="M1082.5 947.5l-93 8"/>
<path class="no" d="M973.5 887.5h0"/>
<path class="nb" d="M1027.5 861.5l18 64"/>
<path class="no" d="M1010.5 900.5l98 55-52-57-98-9-103-20 180-33"/>
<path class="ng" d="M1120.5 930.5l-76-50"/>
<path class="no" d="M1056.5 864.5l35 101"/>
<path class="ng" d="M975.5 888.5h0"/>
<path class="nb" d="M1059.5 1033.5h0"/>
<path class="no" d="M952.5 930.5h0"/>
<path class="nb" d="M1002.5 892.5h0"/>
<path class="no" d="M1071.5 885.5l-150 59 81 84-1-117"/>
<path class="nb" d="M943.5 934.5h0"/>
<path class="no" d="M1013.5 913.5l-38 20"/>
<path class="nb" d="M1014.5 890.5h0"/>
<path class="no" d="M1010.5 1042.5l45-110"/>
<path class="nb" d="M1070.5 1040.5l-32-156"/>
<path class="no" d="M826.5 921.5h0"/>
<path class="ng" d="M938.5 992.5h0"/>
<path class="no" d="M1110.5 948.5l-144-29 21 16 22-61 91 35"/>
<path class="nb" d="M961.5 818.5h0"/>
<path class="no" d="M1011.5 903.5l-43 63-56 115 143-154-163-68 125 38-47 83"/>
<path class="nb" d="M1043.5 883.5l-110 65"/>
<path class="no" d="M1014.5 873.5h0"/>
<path class="ng" d="M1092.5 959.5h0"/>
<path class="nb" d="M1039.5 933.5h0"/>
<path class="no" d="M932.5 920.5l81 13"/>
<path class="nb" d="M1142.5 882.5l-137 2"/>
<path class="no" d="M1120.5 912.5l-98 127-53-191"/>
<path class="nb" d="M993.5 876.5h0"/>
<path class="no" d="M1029.5 944.5l-102-30 126-13-141 137 88 5-2-132 23 52-45-14 71-98-27 117"/>
<path class="nb" d="M850.5 880.5h0"/>
<path class="no" d="M1018.5 914.5l-99 78 241-111-82 14"/>
<path class="nb" d="M1056.5 943.5h0"/>
<path class="no" d="M898.5 959.5h0"/>
<path class="ng" d="M965.5 927.5h0"/>
<path class="no" d="M1065.5 903.5l13 155"/>
<path class="ng" d="M933.5 942.5l129-57"/>
<path class="nb" d="M899.5 822.5h0"/>
<path class="no" d="M995.5 947.5l-46 53 109-79"/>
<path class="nb" d="M1041.5 915.5h0"/>
<path class="no" d="M1008.5 952.5l15-95"/>
<path class="nb" d="M977.5 919.5l128-2"/>
<path class="no" d="M910.5 899.5l88 24 22 126-33-99 92-15-87 2-9-9 62-43 37 46 16 1-57-20-50-54 135 53-162-54 124 37-81 23-64 140 170-192-106 80"/>
<path class="nb" d="M977.5 968.5l63-46"/>
<path class="no" d="M1031.5 903.5l47 100"/>
<path class="ng" d="M951.5 905.5h0"/>
<path class="no" d="M1046.5 907.5l-12-11-34-37 82 101 25-60-126-40 112 103"/>
<path class="ng" d="M1025.5 885.5h0"/>
<path class="nb" d="M1159.5 869.5h0"/>
<path class="no" d="M1077.5 923.5l-11-48 8 42 69 19-81-75-53-13 40 31 21 0-205 272"/>
<path class="nb" d="M1108.5 924.5h0"/>
<path class="no" d="M980.5 932.5l95 112-73-210 0 136"/>
<path class="nb" d="M961.5 842.5l-6 90"/>
<path class="no" d="M1057.5 930.5l-76-36 3-13 7-11"/>
<path class="nb" d="M982.5 948.5h0"/>
<path class="ng" d="M1004.5 897.5h0"/>
<path class="nb" d="M876.5 884.5h0"/>
<path class="no" d="M1015.5 886.5l87 51-54 117 2-197 37 115 1-72"/>
<path class="nb" d="M953.5 822.5h0"/>
<path class="no" d="M1065.5 1023.5h0"/>
<path class="nb" d="M938.5 921.5h0"/>
<path class="no" d="M1093.5 897.5l-183-62 60 59 8 88"/>
<path class="nb" d="M942.5 943.5h0"/>
<path class="no" d="M1102.5 930.5l-82-64 6 109"/>
<path class="nb" d="M968.5 922.5h0"/>
<path class="no" d="M848.5 875.5l144 34"/>
<text x="126.6" y="16.7" class="t" textLength="133" lengthAdjust="spacing">2012 (<tspan class="it">N</tspan> = 11)</text>
<text x="535" y="16.7" class="t" textLength="132.4" lengthAdjust="spacing">2013 (<tspan class="it">N</tspan> = 22)</text>
<text x="937" y="16.7" class="t" textLength="145" lengthAdjust="spacing">2014 (<tspan class="it">N</tspan> = 637)</text>
<text x="114" y="326.7" class="t" textLength="157.5" lengthAdjust="spacing">2015 (<tspan class="it">N</tspan> = 2536)</text>
<text x="522.8" y="326.7" class="t" textLength="156.3" lengthAdjust="spacing">2016 (<tspan class="it">N</tspan> = 2654)</text>
<text x="936.8" y="326.7" class="t" textLength="145.5" lengthAdjust="spacing">2017 (<tspan class="it">N</tspan> = 274)</text>
<text x="119.6" y="784.9" class="t" textLength="145.2" lengthAdjust="spacing">2018 (<tspan class="it">N</tspan> = 151)</text>
<text x="528.5" y="784.9" class="t" textLength="145.5" lengthAdjust="spacing">2019 (<tspan class="it">N</tspan> = 431)</text>
<text x="931" y="784.9" class="t" textLength="157" lengthAdjust="spacing">2020 (<tspan class="it">N</tspan> = 1205)</text>

<circle cx="217.7" cy="1236.9" r="7.6" fill="#1f77b4" stroke="#000" stroke-width="0.8"/>
<text x="256.1" y="1243" class="l" textLength="113.7" lengthAdjust="spacing">Market-only</text>
<circle cx="539.2" cy="1236.9" r="7.6" fill="#ff7f0e" stroke="#000" stroke-width="0.8"/>
<text x="576.6" y="1243" class="l" textLength="83" lengthAdjust="spacing">P2P-only</text>
<circle cx="830.1" cy="1236.9" r="7.6" fill="#00ff00" stroke="#000" stroke-width="0.8"/>
<text x="868.2" y="1243" class="l" textLength="109.4" lengthAdjust="spacing">Market-P2P</text>

</svg></body></html>
